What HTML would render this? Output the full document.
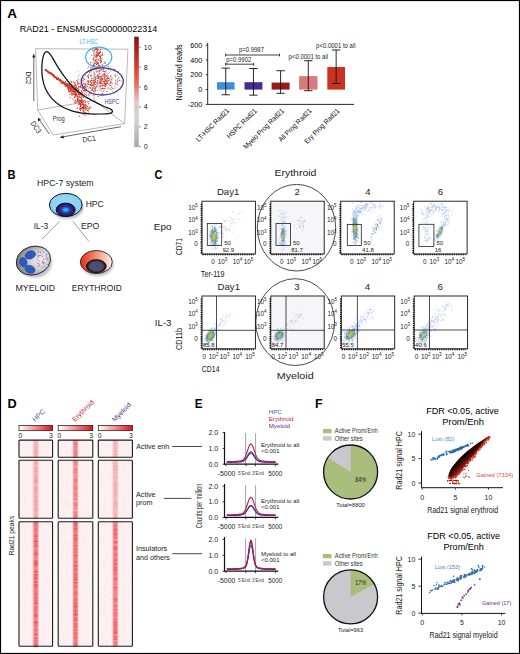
<!DOCTYPE html>
<html><head><meta charset="utf-8"><style>
html,body{margin:0;padding:0;background:#fff;}
body{width:520px;height:654px;overflow:hidden;}
svg{display:block;font-family:"Liberation Sans", sans-serif;}
</style></head><body>
<svg width="520" height="654" viewBox="0 0 520 654">
<defs>
<linearGradient id="cbar" x1="0" y1="1" x2="0" y2="0">
<stop offset="0" stop-color="#a8a8a8"/><stop offset="0.25" stop-color="#d4d4d4"/>
<stop offset="0.42" stop-color="#dfc6c2"/><stop offset="0.56" stop-color="#e47464"/><stop offset="0.7" stop-color="#e6402c"/>
<stop offset="1" stop-color="#7e1510"/></linearGradient>
<radialGradient id="nucB" cx="0.5" cy="0.5" r="0.5">
<stop offset="0" stop-color="#22c4ff"/><stop offset="0.22" stop-color="#1aa2ee"/><stop offset="0.42" stop-color="#2a46b4"/>
<stop offset="0.6" stop-color="#30268a"/><stop offset="0.85" stop-color="#2a1a6c"/><stop offset="1" stop-color="#1a1046"/></radialGradient>
<radialGradient id="hpcC" cx="0.5" cy="0.45" r="0.55">
<stop offset="0" stop-color="#9cdaf6"/><stop offset="1" stop-color="#84cff2"/></radialGradient>
<radialGradient id="myC" cx="0.7" cy="0.55" r="0.78">
<stop offset="0" stop-color="#eeeeee"/><stop offset="0.4" stop-color="#d0d0d2"/>
<stop offset="0.75" stop-color="#96969a"/><stop offset="1" stop-color="#5e5e64"/></radialGradient>
<linearGradient id="eryC" x1="0" y1="0" x2="1" y2="0">
<stop offset="0" stop-color="#e62a14"/><stop offset="0.45" stop-color="#f4856c"/>
<stop offset="1" stop-color="#fff2ec"/></linearGradient>
<radialGradient id="eryN" cx="0.5" cy="0.5" r="0.5">
<stop offset="0" stop-color="#4636b0"/><stop offset="0.3" stop-color="#50507c"/><stop offset="0.7" stop-color="#4a4a5c"/>
<stop offset="0.88" stop-color="#1c1c22"/><stop offset="1" stop-color="#0a0a0a"/></radialGradient>
<filter id="shd" x="-30%" y="-30%" width="160%" height="170%"><feGaussianBlur stdDeviation="1.2"/></filter>
<linearGradient id="hbar" x1="0" y1="0" x2="1" y2="0">
<stop offset="0" stop-color="#ffffff"/><stop offset="0.5" stop-color="#f28a8e"/><stop offset="1" stop-color="#e0101c"/></linearGradient>
<linearGradient id="strp" x1="0" y1="0" x2="1" y2="0">
<stop offset="0" stop-color="#e8363a" stop-opacity="0"/><stop offset="0.2" stop-color="#e8363a" stop-opacity="0.75"/>
<stop offset="0.5" stop-color="#e4282e" stop-opacity="1"/><stop offset="0.8" stop-color="#e8363a" stop-opacity="0.75"/>
<stop offset="1" stop-color="#e8363a" stop-opacity="0"/></linearGradient>
<filter id="noise" x="0" y="0" width="100%" height="100%">
<feTurbulence type="fractalNoise" baseFrequency="0.9" numOctaves="1" seed="3" result="t"/>
<feColorMatrix in="t" type="matrix" values="0 0 0 0 0.93  0 0 0 0 0.45  0 0 0 0 0.5  0 0 0 1.6 -0.75"/>
</filter>
<linearGradient id="wedge" gradientUnits="userSpaceOnUse" x1="458.5" y1="456.5" x2="466" y2="464">
<stop offset="0" stop-color="#000000"/><stop offset="0.35" stop-color="#120404"/><stop offset="0.7" stop-color="#4a0e08"/><stop offset="1" stop-color="#a01a10"/></linearGradient>
</defs>
<rect x="0" y="0" width="520" height="654" fill="#fff"/>
<text x="7.2" y="17.5" font-size="12.2" font-weight="bold" fill="#000" textLength="9.8" lengthAdjust="spacingAndGlyphs">A</text>
<text x="19.8" y="31.7" font-size="9.6" textLength="137.5" lengthAdjust="spacingAndGlyphs">RAD21 - ENSMUSG00000022314</text>
<line x1="35.6" y1="48.7" x2="127.9" y2="49.2" stroke="#8a8a8a" stroke-width="0.6"/>
<line x1="35.6" y1="48.7" x2="37.7" y2="110" stroke="#8a8a8a" stroke-width="0.6"/>
<line x1="127.9" y1="49.2" x2="124.6" y2="123.6" stroke="#8a8a8a" stroke-width="0.6"/>
<line x1="37.7" y1="110" x2="53" y2="135" stroke="#8a8a8a" stroke-width="0.6"/>
<line x1="53" y1="135" x2="124.6" y2="123.6" stroke="#8a8a8a" stroke-width="0.6"/>
<line x1="37.7" y1="110" x2="94" y2="100.5" stroke="#8a8a8a" stroke-width="0.6"/>
<line x1="94" y1="100.5" x2="124.6" y2="123.6" stroke="#8a8a8a" stroke-width="0.6"/>
<line x1="94" y1="49" x2="94" y2="100.5" stroke="#8a8a8a" stroke-width="0.6"/>
<path d="M71.66 85.72h0M83.6 87.76h0M100.49 69.66h0M101.76 67.98h0M99.92 59.79h0M105.92 80.24h0M101.6 94.39h0M72.96 100.6h0M98.47 51.69h0M107.24 73.61h0M73.95 84.99h0M102.89 86.77h0M110.13 76.14h0M97.12 82.26h0M91.63 67.72h0M97.46 51.43h0M98.54 81.4h0M77.38 87.83h0M103.84 63.37h0M75.15 91.79h0M86.96 88.1h0M97.55 90.13h0M90.61 92h0M115.29 87.56h0M119.53 80.01h0M68.07 83.86h0M101.41 79.22h0M82.69 110.99h0M109.09 77.31h0M100.69 66.4h0M100.53 83.07h0M96.98 62.35h0M77.23 108.4h0M94.96 79.99h0M97.22 51.6h0M102.34 79.96h0M100.76 63.59h0M99.02 74.39h0M88.54 81.62h0M103.61 83.29h0M83.99 100.23h0M101.49 80.8h0M98.32 85.9h0M70.85 81.5h0M85.32 98.99h0M101.37 85.63h0M88.31 82.7h0M107.61 82.32h0M101.16 54.57h0M99.2 73.14h0M102.57 77.04h0M71.43 93.23h0M74.05 91.17h0M98.85 78.96h0M102.61 70.85h0M102.19 65.23h0M96.45 48.29h0M106.43 82.85h0M108.38 88.28h0M106.42 80.57h0M94.78 74.82h0M88.16 107.95h0M94.65 57.52h0M92.78 82.57h0M97.94 59.75h0M99.54 78.9h0M72.56 89.62h0M89.69 91.14h0M98.49 93.51h0M98.37 50.02h0M110.36 77.75h0M105.94 72.03h0M105.28 86.09h0M107.23 73.61h0M74.33 91.26h0M78.22 104.23h0" stroke="#bdbdbd" stroke-width="1.24" stroke-linecap="round"/>
<path d="M81.47 90.69h0M88.59 78.23h0M102.25 69.61h0M99.01 53.97h0M95.1 69.37h0M104.61 77.88h0M78.16 76.89h0M89.02 84.47h0M77.99 81.72h0M109.38 79.11h0M91.56 83.34h0M99.1 82.72h0M102.31 75.06h0M93.01 60.19h0M90.45 70.94h0M103.84 90.86h0M112.01 83.85h0M82.4 84.96h0M105.57 85.36h0M93.72 53.34h0M93.1 95.42h0M110.53 66.89h0M86.32 88.62h0M78.93 90.83h0M107.81 88.37h0M99.99 81.08h0M83.12 88.74h0M91.1 69.31h0M79.65 83.59h0M112.4 83.13h0M91.46 69.89h0M101.13 58.82h0M97.66 82.85h0M74.97 96.61h0M91.47 68.93h0M116.38 83.88h0M99.33 85.2h0M110.93 80.22h0M107.96 76.28h0M78.51 84.13h0M97.94 66.64h0M97.12 56.29h0M104.72 85.92h0M95.59 57.12h0M101.83 77.02h0M108.32 81.84h0M97.34 90.61h0M76.45 85.34h0M100.22 60.95h0M107.09 76.45h0M102.65 74.33h0M103.17 91.19h0M70.72 81h0M91.5 90.11h0M106.25 80.95h0M107.05 65.36h0M95.56 78.49h0M78.17 90.5h0M101.67 85.02h0M100.74 77.24h0M82.51 81h0M101.85 78.43h0M79.46 104.09h0M74.44 94.24h0M74.53 92.65h0M87.17 83.61h0M101.27 77.59h0M96.88 56.9h0M105.83 84.79h0M72.73 89.62h0M103.5 76.6h0M74.94 82.46h0M92.72 87.65h0M99.87 82.55h0M106.19 85.39h0M96.61 51.81h0M99.83 77.79h0M107.59 81.02h0M80.33 94.1h0M88.9 82.44h0M99.29 81.98h0M105.66 83.74h0M71.89 90.57h0M101.99 77.89h0M106.49 80.17h0M76.69 100.93h0M95.56 76.15h0M97.29 77.98h0M85.85 82.5h0M88.65 91.18h0M102.11 75.56h0M89.42 87.59h0M101.13 69.53h0M100.34 90.45h0M99.78 58.9h0M88.28 81.1h0M121.12 80.65h0M95.8 48.81h0M98 84.27h0M98.37 80.21h0" stroke="#a8a8a8" stroke-width="1.24" stroke-linecap="round"/>
<path d="M94.8 73.96h0M83.09 93.06h0M106.86 93.81h0M101.59 91.35h0M78.43 104.77h0M79.18 75.22h0M90.07 93.49h0M85.47 109.09h0M101.2 78.61h0M78.22 71.64h0M105.12 75h0M96.05 62.4h0M69.85 94.31h0M88.62 84.51h0M97.02 57.53h0M103.59 78.26h0M76.57 86.06h0M98.26 79.34h0M106.7 85.62h0M98.5 74.76h0M88.7 88.71h0M104.83 83.32h0M99.09 87.65h0M90.31 84.65h0M109.56 80.54h0M112.9 79.08h0M99.39 81.07h0M79.91 82.99h0M97.03 52.23h0M98.94 80.66h0M106.54 94.08h0M97.82 52.95h0M117.22 75.49h0M95.9 69.33h0M94.44 95.56h0M112.7 91.22h0M93.46 86.04h0M105.34 72.82h0M111 76.05h0M109.21 72.24h0M83.38 74.66h0M105.35 74.96h0M98.08 86.28h0M114.83 75.05h0M108 87.85h0M87.35 68.61h0M75.58 91.95h0M107.75 81.15h0M100.59 59.3h0M89.33 87.62h0M106.21 81.74h0M81.15 96.16h0M117.44 79.36h0M92.95 60.67h0M74.85 88.9h0M91.45 78.54h0M99.54 50.01h0M96.83 48.76h0M108.52 84.6h0M85.03 78.85h0M98.8 78.17h0M109 78.74h0M105.23 83.1h0M99.73 90.41h0M105.45 82.91h0M97.33 82.94h0M103.11 79.57h0M96.26 70.77h0M77.33 91.88h0M107.96 87.3h0M95.78 79.14h0M103.57 78.55h0M106.35 83.32h0M102.94 80.3h0M89.59 92.97h0M93.76 91.15h0M91.92 85.18h0M94.57 77.61h0M103.34 67.74h0M100.24 53.11h0M106.63 83.81h0M100.53 79.99h0M95.47 53.85h0M94.3 72.35h0M107.08 81.9h0M108.33 87.34h0M79.38 86.35h0M96.59 77.8h0M116.86 80.37h0M99.03 80.72h0M91.65 76.84h0M109.33 88.87h0M93.94 79.42h0M100.02 85.5h0M109.36 79.27h0M111.56 89.45h0M75.79 85.18h0M85.47 101.6h0" stroke="#b4b4b4" stroke-width="1.24" stroke-linecap="round"/>
<path d="M99.62 71.01h0M105.04 62.84h0M100.62 55.94h0M103.68 74.44h0M84.91 88.22h0M85.64 90.18h0M82.95 88.43h0M82.44 90.25h0M94.64 84.86h0M118.19 78.62h0M106.27 78.29h0M115.01 85.92h0M102.62 76.56h0M91.84 86.85h0M97.08 52.64h0M110.47 70.8h0M71.26 86.65h0M73.61 86.1h0M86 81.77h0M98.25 67.28h0M99.99 79.41h0M71.97 92.63h0M104.95 86h0M82.91 90.66h0M81.86 88.26h0M107.95 87.56h0M71.72 89.71h0M99.81 59.06h0M91.85 83.34h0M94.19 48.54h0M107.3 88.65h0M103.68 79.7h0M104.8 53.35h0M104.08 90.44h0M93.71 82.86h0M96.7 78.11h0M93.01 63.74h0M105.91 72.45h0M87.57 83.31h0M107.78 72.84h0M92.6 86.2h0M99.17 88.19h0M108.35 76.44h0M83.4 97.37h0M102.71 81.24h0M98.63 65.38h0M97.54 84.39h0M80.79 87.48h0M96.2 87.03h0M114.52 85.35h0M92.52 90.16h0M97.86 74.83h0M99.65 80.54h0M75.2 83.53h0M108.33 78.8h0M95 84.11h0M97.91 55.32h0M89.3 86.56h0M100.03 55.73h0M97.37 54.07h0M84.28 107.09h0M103.94 66.46h0M74.66 84.77h0M109.68 93.98h0M112.92 83.77h0M79.84 95.01h0M93.76 85.79h0M98.4 76.57h0M95.77 82.5h0M103.57 81.76h0M103.76 79.4h0M76.99 96.3h0M94.71 79.17h0M88.17 93.93h0M97.66 48.5h0M80.37 79.93h0M92.82 88.38h0M97.22 83.96h0M111.16 71.08h0M115.49 79.15h0M99.56 81.02h0M96.05 88.46h0M83.41 112.73h0M107.02 88.61h0M92.98 76.62h0M95.33 60.75h0M92.33 78.69h0M99.17 86.73h0M82.19 101.97h0M83.27 77.77h0M93.85 88.52h0M99.99 69.18h0M94.34 77.07h0M79.23 89.8h0M93.51 69.9h0M104.78 82.14h0" stroke="#c8c8c8" stroke-width="1.24" stroke-linecap="round"/>
<path d="M90.54 85.42h0M84.72 84.56h0M91.98 85.28h0M102.17 89.41h0M93.22 80.01h0M103.72 79.1h0M92.4 93.54h0M75.78 94.23h0M102.86 87.51h0M82.08 92.23h0M115.05 83.96h0M108.54 73.86h0M76.89 80.35h0M98.75 85.25h0M102.46 70.58h0M98.16 81.22h0M121.14 81.96h0M91.87 72.27h0M92.48 93.31h0M80.09 95.17h0M116.05 80.82h0M84.09 103.6h0M92.92 87.74h0M96.18 85.02h0M100.12 87.41h0M82.26 87.32h0M94.91 66.53h0M74.58 94.41h0M93.33 62.41h0M109.75 90.06h0M99.24 82.23h0M99.89 77.76h0M77.85 94.41h0M87.7 75.62h0M102.28 85.89h0M101.4 78.41h0M81.93 88.32h0M80.99 85.88h0M97.93 58.49h0M99.2 80.13h0M96.49 87.42h0M84.5 80.93h0M96.14 53.97h0M90.14 83.15h0M109.53 85.84h0M93.65 82.14h0M76.24 92.47h0M100.39 85.03h0M103.99 81.75h0M71.23 85.72h0M96.48 55.72h0M102.05 55.32h0M81.83 82.28h0M78.27 100.59h0M106.75 83.5h0M101.81 73.22h0M101.7 88.97h0M97.16 48.32h0M86.05 108.89h0M97.48 86.11h0M102.63 68.77h0M72.39 85.5h0M72.6 87.34h0M92.71 84.46h0M104.26 89.41h0M94.61 104.92h0M120.17 89.46h0M84.53 91.93h0M81.14 89.45h0M106.83 78.94h0M103.88 93.44h0M115.22 88.11h0M79.03 88.32h0M99.58 70.33h0M90.14 74.26h0M95.93 66.98h0M102.04 78.54h0M97.51 81.75h0M99.74 76.76h0M104.26 78.8h0" stroke="#d6d6d6" stroke-width="1.24" stroke-linecap="round"/>
<path d="M66.89 85.45h0M79.82 100.43h0M92.62 88.18h0M85.53 75.07h0M94.73 50.24h0M72.76 91.54h0M82.86 108.08h0M94.77 86.32h0M74.6 102.26h0M48.35 71.79h0M96.63 71.82h0M48.31 72.01h0M97.3 54.32h0M67.93 85.75h0M92.43 69.58h0M80.19 86.75h0M79.73 96.13h0M76.45 89.39h0M104.51 85.56h0M110.66 89.07h0M82.57 96.24h0M63.21 81.8h0M48.04 71.37h0M50.29 72.81h0M48.34 71.97h0M99.46 66.45h0M94.78 80.31h0M104.98 75.55h0M100.8 88.67h0M59.46 80.68h0M101.28 88.78h0M78.52 99.36h0M95.7 56.52h0M79.84 101.47h0M68.87 90.56h0M80.66 110.29h0M103.3 88.62h0M50.79 73.48h0M70.08 87.31h0M91.8 55.31h0M49.51 73.21h0M82.98 114.39h0M97.16 61.22h0M80.11 107.27h0M95.25 87.33h0M54.98 77.13h0M86.15 84.08h0M57.9 79.37h0M80.67 106.17h0M99.13 71.1h0M115.59 81.11h0M80.37 100.97h0M85.02 86.79h0M105.56 83.55h0M64.16 83.91h0M88.56 81.06h0M118.72 77.92h0M56.57 78.5h0M80.11 83.56h0M100.21 76.24h0M68.71 90.33h0M54.25 76.03h0M65.74 85.28h0M55.85 76.94h0M85.11 107.01h0M108.24 66.57h0M81.52 108.07h0M48.86 72.07h0M71.42 90.46h0M81.47 108.67h0M53.8 76.16h0M96.98 68.25h0M75.03 90.84h0M101.14 61.85h0M81.06 104.14h0M76.84 80.27h0M70.97 88.87h0M93.69 59.34h0M64.06 82.44h0M93.41 80.52h0M72.74 87.94h0M92.43 66.83h0M83.06 109.94h0M64.68 84.36h0M86.01 107.43h0M74.79 101.81h0M78.19 94.09h0M100.88 86.07h0M83.45 103.11h0M61.36 83.34h0M71.59 89.94h0M95.53 90.77h0M79.41 94.49h0M97.38 71.78h0M93.59 82.43h0M66.73 85.87h0M92.76 50.27h0M63.88 83.18h0M84.25 106.09h0M98.09 62.7h0M49.67 72.96h0M79.23 87.21h0M77.7 111.62h0M75.89 86.97h0M96.34 55.79h0M83.34 106.82h0M65.72 86.04h0M97.03 82.1h0M88.72 70.54h0M52.38 74.85h0M74.74 89.91h0M76.18 94.04h0M86.44 105.16h0M95.9 49.87h0M71.68 81.76h0M100.43 86.18h0M78.16 94.99h0M93.52 85.16h0M103.28 69.69h0M82.29 103.87h0M59.33 80.56h0M95.3 94.48h0M65.87 84.93h0M78.72 82.8h0M104.93 61.95h0M100.38 58.25h0M65.15 83.33h0M65.06 84.16h0M92.29 80.95h0M97.46 80.35h0M66.98 83.44h0M73.76 91.4h0M78.72 91.97h0M78.13 99.13h0M72.85 94.51h0M69.75 84.65h0M57.6 78.61h0M103.9 73.89h0M102.2 64.52h0M81.3 103.06h0M94.28 55.39h0M87.24 72.47h0M81.73 99.85h0M106.75 83.57h0M53.72 75.01h0M85.61 94.52h0M74.7 88.95h0M70.89 90.3h0M95.53 61.19h0M92.12 69.7h0M97.61 62.48h0M84.45 105.02h0M79.8 92.49h0M100.31 86.6h0M97.07 86.82h0M100.49 56.66h0" stroke="#e04535" stroke-width="1.24" stroke-linecap="round"/>
<path d="M79.09 93.41h0M80.6 94.29h0M70.71 89.49h0M67.96 84.09h0M80.69 100.94h0M101.24 69.76h0M69 88.01h0M81.86 101.76h0M74.65 83.21h0M96.24 69.04h0M78.09 92.08h0M45.36 70.2h0M77.54 98.41h0M57.99 78.84h0M110.37 85.45h0M67.65 86h0M53.92 75.79h0M105.04 79.52h0M97.16 76.37h0M62.24 82.67h0M45.89 69.71h0M59.28 80.18h0M115.29 76.84h0M82.46 107.32h0M68.46 89.44h0M51.16 73.97h0M96.49 64.34h0M63.17 82.21h0M97.38 76.04h0M97.26 83.41h0M83.3 107.28h0M67.34 84h0M75.66 84.95h0M75.51 94.87h0M97.93 66.89h0M111.77 87.11h0M76.14 94.66h0M104.96 88.42h0M53.09 74.51h0M48.15 72.22h0M57.32 78.16h0M99.48 56.23h0M61.69 81.11h0M45.23 69.76h0M82.79 108.69h0M95.15 88.46h0M88.09 84.29h0M70.48 87.03h0M54.94 77.9h0M77.44 97.81h0M48.67 71.85h0M100.81 62.23h0M83.41 104.64h0M51.36 74.25h0M91.58 83.86h0M105.9 84.46h0M104.56 71.64h0M72.85 91.18h0M97.67 76.09h0M94.95 77.1h0M102.72 53.04h0M97.89 48.96h0M77.29 96.24h0M107.34 78.75h0M82.23 107.23h0M77.61 100.43h0M74.79 91.55h0M108.44 78.47h0M79.02 97.23h0M57.09 78.88h0M99.91 70.92h0M45.65 70.16h0M70.56 86.95h0M69.95 89.06h0M97.22 55.48h0M110.79 82.68h0M72.99 94.13h0M62.93 81.59h0M100.47 57.28h0M93.26 58.06h0M80.54 93.89h0M83.64 107.72h0M87.21 110.66h0M53.65 75.35h0M84.46 89.8h0M90.47 81.18h0M54 76.69h0M55.86 77.29h0M75.72 90.89h0M84.36 108.72h0M106.06 75.96h0M101.83 83.43h0M83.56 90.66h0M58.08 78.19h0M74.43 89.53h0M83.34 107.73h0M88.36 108.98h0M66.9 85.21h0M102.82 65.78h0M71.35 93.21h0M70.31 88.61h0M91.21 70.73h0M60.36 80.67h0M99.8 52.22h0M56.9 77.95h0M71.6 86.96h0M102.01 79.56h0M83.88 83.39h0M96.35 48.9h0M70.22 97.56h0M71.19 85.34h0M82.2 102.42h0M105.07 63.01h0M83.35 105.56h0M74.52 86.32h0M98.62 55.16h0M101.9 58.87h0M114.61 69.42h0M76.45 90.39h0M58.07 79.29h0M89.73 108.39h0M56.47 77.83h0M98.89 65.05h0M103.09 71.46h0M70.67 84.23h0M105.4 86.47h0M73.32 82.1h0M75.7 85.39h0M65.08 83.74h0M80.14 108.5h0M107.12 75.05h0M101.91 55.43h0M94.95 81.24h0M90.83 62.65h0M104.22 84.08h0M64.59 84.55h0M97.8 75.15h0M84.87 105.07h0M98.02 53.1h0M109.73 83.97h0M67.65 88.12h0M96.84 54.74h0M75.6 100.97h0M97.98 78.12h0M100.17 60.26h0M102.78 88.43h0M84.46 86.3h0M71.96 88.35h0M98.18 63.6h0M84.16 90.8h0M73.85 89.5h0M65.11 85.84h0" stroke="#b82018" stroke-width="1.24" stroke-linecap="round"/>
<path d="M108.25 80.73h0M79.08 97.09h0M52.21 74.44h0M79.72 92.75h0M82.11 87.74h0M62.56 82.17h0M68.81 85.52h0M100.71 83.84h0M80.23 104.88h0M81.68 95.83h0M80.54 103.05h0M61.2 81.32h0M77.53 107.92h0M107.59 82.91h0M82.69 88.76h0M77.79 96.6h0M68.89 84.22h0M48.77 72.64h0M95.24 63.72h0M93.95 51.77h0M50.29 73.34h0M65.37 84.27h0M81.07 94.51h0M80.91 97.31h0M89.43 106.85h0M89.59 72.28h0M70.87 94.29h0M102.66 54.97h0M69.7 85.48h0M75.49 92.7h0M78.51 92.16h0M80.48 101.67h0M73.17 91.03h0M113.01 88.42h0M70.4 88.99h0M96.9 57.04h0M67.73 87.34h0M86.99 86.17h0M93.4 64.77h0M58.09 77.84h0M99.41 53.34h0M72.25 88.24h0M110.97 82.51h0M60.07 79.5h0M117.63 81.67h0M80.36 109.92h0M93.27 66.19h0M73.13 91.58h0M80.68 104.67h0M91.56 93.63h0M79.32 93.78h0M96.51 59.6h0M88.59 77.41h0M52.13 74.58h0M63.82 82.61h0M97.56 63.7h0M74.55 97.25h0M79.47 102.67h0M104.55 74.85h0M88.91 94.55h0M91.78 78.61h0M94.95 89.41h0M83.05 78.55h0M60.98 80.57h0M71.44 88.23h0M67.34 83.5h0M90.1 82.17h0M70.23 88.54h0M80.34 108.52h0M97.79 83.55h0M92.91 85.15h0M92.19 90.48h0M90.45 84.45h0M99.65 76.29h0M95.48 60.64h0M52.92 74.54h0M57.5 78.58h0M96.38 52.55h0M55.16 76.75h0M96.53 85.96h0M92.17 85.1h0M98.55 65.21h0M52.06 74.43h0M54.3 76.12h0M104.49 81.37h0M82.28 104.27h0M77.58 92.59h0M85.13 107.29h0M103.61 81.45h0M80.53 86.6h0M62.49 83.15h0M48.27 72.37h0M102.64 85.42h0M87.04 86.8h0M75.87 89.06h0M81.46 93.39h0M94.01 82.51h0M83.99 83.87h0M87 108.21h0M98.89 77.9h0M85.69 106.19h0M54.1 76.68h0M75.82 93.44h0M80.62 106.14h0M61.18 81.23h0M92.78 66.41h0M99.01 52.91h0M80.69 85.61h0M86.53 89.74h0M104.37 73.97h0M79.89 109.28h0M96 54.94h0M49.72 72.84h0M74.37 91.38h0M74.69 94.54h0M82.55 108.06h0M85.35 90.72h0M72.68 93.85h0M81.38 98.71h0M78.92 100.45h0M104.85 76.67h0M95.19 48.23h0M78.68 94.4h0M95.12 84.45h0M84.23 79.43h0M100.24 65.99h0M73.7 89.74h0M45.45 69.76h0M76.77 90.8h0M76.67 90.88h0M93.65 91.28h0M47.17 70.72h0M106.52 83.33h0M87.93 80.87h0M46.62 71.16h0M81.86 100.16h0M77.32 81.97h0M67.08 85.26h0M67.62 87.28h0M100.54 83.26h0M56.6 79.17h0M45.83 70.24h0M75.98 87.89h0M69.04 86.55h0M85.27 84.66h0M68.55 87.39h0M78.71 89.35h0M49.07 72.99h0M77.72 84.08h0M80.36 106.66h0M75.39 103.03h0M76.06 88.47h0M79.47 103.12h0M49.7 73.16h0M51.2 72.67h0M66.47 86.47h0M71.99 91.71h0M83.41 101.5h0M96.97 64.04h0" stroke="#c92a1c" stroke-width="1.24" stroke-linecap="round"/>
<path d="M59.25 79.7h0M95.32 59.84h0M54.72 76.41h0M81.13 97.68h0M67.8 85.31h0M78.26 101.77h0M88.37 74.98h0M79.25 102.72h0M100.42 78.88h0M84.23 93.82h0M53.38 75.93h0M60.97 82.79h0M48.4 72.08h0M59.33 80.16h0M71.99 95.13h0M88.47 113.2h0M71.38 82.09h0M106.74 81.19h0M103 84.03h0M73.56 92.9h0M98.58 77.22h0M52.29 74.06h0M101.53 78.02h0M118.51 71.87h0M65.17 83.62h0M87.22 97.52h0M45.47 70.04h0M50.38 73.06h0M77.28 99.55h0M78.68 101.79h0M70.32 91.55h0M58.78 79.17h0M96.53 48.88h0M106.8 78.72h0M75.1 87.81h0M77.57 88.63h0M88.64 110.93h0M99.14 53.44h0M68.71 91.67h0M65.83 85.44h0M69.66 91.85h0M48.29 72.38h0M51.79 74.14h0M78.41 90.42h0M95.1 82.53h0M62.45 81.43h0M86.71 95.2h0M59.25 80.31h0M104.91 67.75h0M83.12 80.86h0M88.02 83.36h0M85.42 109.04h0M92.98 68.59h0M93.95 65.83h0M105.07 77.37h0M91.53 80.32h0M76.09 90.24h0M101.13 76.47h0M72.7 85.05h0M66.44 85.25h0M75.62 90.39h0M75.23 100.32h0M104.35 81.85h0M85.53 85.62h0M90.64 67.88h0M49.7 73.16h0M87.88 97.28h0M105.58 80.97h0M74.38 93.14h0M101.11 60.4h0M85.56 104.34h0M110.85 81.2h0M100.12 56.34h0M90.3 75.67h0M98.37 53.38h0M53.04 75.49h0M77.02 91.55h0M104.52 83.42h0M96.53 64.5h0M90.15 87.88h0M101.5 61.29h0M81.18 105.04h0M70.07 86.66h0M100.44 82.28h0M87.76 76.7h0M98.36 96.51h0M102.03 93.66h0M102.44 78.89h0M76.48 95.74h0M58.48 78.32h0M58.48 78.59h0M98.33 59.5h0M81.52 80.99h0M83.66 97.46h0M72.97 88.46h0M77.13 101.79h0M68.61 86.12h0M51.33 74.87h0M83.82 95.86h0M98.65 68.38h0M90.96 85.58h0M76.93 102.5h0M99.57 82.79h0M56.92 78.9h0M75.41 95.34h0M87.97 81.38h0M66.88 84.38h0M101.86 94.09h0M105.42 80.08h0M46.6 70.6h0M86.17 92.78h0M84.7 112.04h0M46.26 70.26h0M99.65 73.63h0M107.86 77.53h0M58.99 79.99h0M79.08 116.19h0M106.01 70.98h0M98.29 59.76h0M85.47 87.35h0M94.13 83.47h0M73.76 89.82h0M119.18 80.62h0M107.04 68.7h0M71.32 86.98h0M70.65 90.98h0M96.68 49.47h0M53.27 75.25h0M66.78 83.84h0M51.77 74.53h0M82.51 103.03h0M95.34 90.86h0M82.98 101.22h0M69.48 91.26h0M78.96 104.19h0M83.9 108.38h0M58.88 79.49h0M83.59 110.43h0M91.96 89.43h0M48.17 71.53h0M100.79 81.83h0M85.38 102.22h0M85.73 112.8h0M108.6 69.28h0M93.05 87.84h0M74.55 85.87h0M100.51 49.57h0M69.34 87.67h0M80.91 101.99h0M47.77 71.33h0M94.59 63.06h0" stroke="#d6301f" stroke-width="1.24" stroke-linecap="round"/>
<path d="M70.74 90.12h0M82.4 92.95h0M58.41 79.08h0M69.61 88.54h0M96.67 67.73h0M93.2 65h0M93.49 80.14h0M97.13 50.97h0M87.38 106.39h0M81.48 94.71h0M100.86 80.22h0M49.43 72.39h0M75.17 96.66h0M73.08 99.16h0M103.48 68.59h0M74.49 86.42h0M46.28 70.88h0M81.95 99.63h0M95.59 79.49h0M76.19 93.75h0M86.96 109h0M60.14 79.85h0M65.77 84.46h0M70.5 87.59h0M81.51 101.43h0M90.44 84.86h0M89.93 92.77h0M106.95 91.04h0M48.59 71.61h0M83.85 111.64h0M97.34 50.05h0M85.39 106.03h0M69.82 88.81h0M65.03 84.05h0M96.63 56.75h0M79.8 93.82h0M91.82 82.25h0M79.45 92.53h0M68.35 85.28h0M78.4 79.8h0M46.25 70.24h0M74.43 94.1h0M97.45 50.01h0M101.91 81.72h0M82.64 85.72h0M115.68 83.13h0M96.64 49.23h0M86.42 89.71h0M111.98 77.76h0M80.63 87.31h0M74.6 92.75h0M50.17 73.07h0M61.55 80.97h0M76.48 87.9h0M65.09 83.08h0M72.65 87.93h0M96.68 62.72h0M111.2 79.38h0M95.68 81.44h0M53.74 75.92h0M82.17 85.45h0M81.95 104.35h0M69.68 87.49h0M85.98 112.8h0M78.21 89.21h0M76.54 94.65h0M104.31 78.58h0M75.77 87.27h0M82.3 108.24h0M62.25 83.02h0M69.17 85.95h0M57.86 78.52h0M79 94.53h0M63.07 83.7h0M58.89 78.95h0M95.81 77.88h0M59.52 79.47h0M82.34 104.58h0M65.64 83.84h0M77.03 91.73h0M91.3 75.13h0M94.6 65.68h0M100.4 80.93h0M102.07 79h0M103.13 75.67h0M62.74 82.38h0M60.27 81.78h0M94.66 74.2h0M101.91 81.97h0M72.39 88.72h0M106.95 91.5h0M82.6 108.47h0M89.85 71.51h0M65.6 81.71h0M70.52 87.56h0M81.37 91.54h0M100.33 51.73h0M97.91 54.39h0M98.18 70.45h0M117.14 84.62h0M90.18 80.91h0M61.38 80.29h0M115.41 74.89h0M89.04 95.87h0M94.77 66.01h0M100.31 52.55h0M88.67 66.66h0M88.12 101.63h0M77.7 83.09h0M88.62 103.73h0M84.94 115.51h0M103.11 85.63h0M91.01 107.28h0M82.71 88.12h0M69.17 84.8h0M86.33 90.25h0M68.13 88.54h0M78.52 86.98h0M90.68 87.92h0M84.67 100.73h0M91.61 85.43h0M71.07 87.6h0M54.17 76.45h0M53.24 76.19h0M110.68 75.91h0M82.3 100.41h0M71.23 88.44h0M82.34 92.73h0M79.85 99.65h0M71.23 88.17h0M64.46 82.61h0M86.02 109.66h0M104.35 81.1h0M75.28 85.5h0M74.61 97.54h0M74.3 97.34h0M63.41 83.14h0M81.17 101.07h0M50.35 73.25h0M72.45 90.2h0M51.71 73.87h0M60.39 79.28h0M54.8 76.64h0" stroke="#dd3b2a" stroke-width="1.24" stroke-linecap="round"/>
<path d="M45.6 51.9C44.7 52.57 43.82 54.02 43.2 56.4C42.58 58.78 42.03 62.65 41.9 66.2C41.77 69.75 41.78 73.88 42.4 77.7C43.02 81.52 43.97 85.57 45.6 89.1C47.23 92.63 49.6 96.03 52.2 98.9C54.8 101.77 57.8 104.25 61.2 106.3C64.6 108.35 68.52 109.97 72.6 111.2C76.68 112.43 81.07 113.23 85.7 113.7C90.33 114.17 96.32 114.07 100.4 114C104.48 113.93 108.2 113.72 110.2 113.3C112.2 112.88 112.27 112.15 112.4 111.5C112.53 110.85 112.47 110.27 111 109.4C109.53 108.53 106.47 107.63 103.6 106.3C100.73 104.97 97.07 103.17 93.8 101.4C90.53 99.63 87.27 97.88 84 95.7C80.73 93.52 77.33 91.3 74.2 88.3C71.07 85.3 67.92 81.23 65.2 77.7C62.48 74.17 60.07 70.5 57.9 67.1C55.73 63.7 53.75 59.75 52.2 57.3C50.65 54.85 49.7 53.3 48.6 52.4C47.5 51.5 46.5 51.23 45.6 51.9Z" fill="none" stroke="#111" stroke-width="1.25"/>
<ellipse cx="98.7" cy="57.3" rx="13.1" ry="10.2" fill="none" stroke="#3cb2e8" stroke-width="1.2"/>
<ellipse cx="102.3" cy="81.4" rx="21" ry="13.6" fill="none" stroke="#3a3a9c" stroke-width="1.3"/>
<text x="88.7" y="44.2" font-size="6.3" text-anchor="middle" fill="#3cb2e8" textLength="18.5" lengthAdjust="spacingAndGlyphs">LT-HSC</text>
<text x="112" y="104.3" font-size="6.5" text-anchor="middle" fill="#4040a0" textLength="14.5" lengthAdjust="spacingAndGlyphs">HSPC</text>
<text x="58.7" y="121.2" font-size="6.5" text-anchor="middle" fill="#333" textLength="12" lengthAdjust="spacingAndGlyphs">Prog</text>
<line x1="33.8" y1="101" x2="33.8" y2="56" stroke="#222" stroke-width="0.7"/>
<path d="M33.8 53.5 L32.2 57.5 L35.4 57.5 Z" fill="#222" stroke="none" stroke-width="1"/>
<text x="26.4" y="71.5" font-size="7.5" fill="#222" textLength="13" lengthAdjust="spacingAndGlyphs" transform="rotate(90 26.4 71.5)">DC2</text>
<line x1="49.3" y1="134" x2="39.2" y2="119.5" stroke="#222" stroke-width="0.7"/>
<path d="M37.8 117.4 L38.2 121.6 L41 119.7 Z" fill="#222" stroke="none" stroke-width="1"/>
<text x="30.3" y="123.3" font-size="7.5" fill="#222" textLength="13" lengthAdjust="spacingAndGlyphs" transform="rotate(56 30.3 123.3)">DC3</text>
<line x1="121" y1="126.7" x2="62" y2="137" stroke="#222" stroke-width="0.7"/>
<path d="M59.5 137.4 L63.3 135.2 L63.9 138.6 Z" fill="#222" stroke="none" stroke-width="1"/>
<text x="83" y="142.6" font-size="7.5" fill="#222" textLength="13.2" lengthAdjust="spacingAndGlyphs" transform="rotate(-10 83 142.6)">DC1</text>
<rect x="134.2" y="36.7" width="4.6" height="110.4" fill="url(#cbar)"/>
<line x1="138.8" y1="146.7" x2="140.8" y2="146.7" stroke="#333" stroke-width="0.6"/>
<text x="143.8" y="149.2" font-size="7" fill="#222">0</text>
<line x1="138.8" y1="126.8" x2="140.8" y2="126.8" stroke="#333" stroke-width="0.6"/>
<text x="143.8" y="129.3" font-size="7" fill="#222">2</text>
<line x1="138.8" y1="106.9" x2="140.8" y2="106.9" stroke="#333" stroke-width="0.6"/>
<text x="143.8" y="109.4" font-size="7" fill="#222">4</text>
<line x1="138.8" y1="87" x2="140.8" y2="87" stroke="#333" stroke-width="0.6"/>
<text x="143.8" y="89.5" font-size="7" fill="#222">6</text>
<line x1="138.8" y1="67.1" x2="140.8" y2="67.1" stroke="#333" stroke-width="0.6"/>
<text x="143.8" y="69.6" font-size="7" fill="#222">8</text>
<line x1="138.8" y1="47.2" x2="140.8" y2="47.2" stroke="#333" stroke-width="0.6"/>
<text x="143.8" y="49.7" font-size="7" fill="#222">10</text>
<line x1="207.7" y1="42.8" x2="207.7" y2="104.4" stroke="#111" stroke-width="0.9"/>
<line x1="207.7" y1="104.4" x2="354.1" y2="104.4" stroke="#111" stroke-width="0.9"/>
<line x1="205.7" y1="45.2" x2="207.7" y2="45.2" stroke="#111" stroke-width="0.8"/>
<text x="202.2" y="47.7" font-size="7.2" text-anchor="end">600</text>
<line x1="205.7" y1="60" x2="207.7" y2="60" stroke="#111" stroke-width="0.8"/>
<text x="202.2" y="62.5" font-size="7.2" text-anchor="end">400</text>
<line x1="205.7" y1="74.8" x2="207.7" y2="74.8" stroke="#111" stroke-width="0.8"/>
<text x="202.2" y="77.3" font-size="7.2" text-anchor="end">200</text>
<line x1="205.7" y1="89.6" x2="207.7" y2="89.6" stroke="#111" stroke-width="0.8"/>
<text x="202.2" y="92.1" font-size="7.2" text-anchor="end">0</text>
<line x1="205.7" y1="104.4" x2="207.7" y2="104.4" stroke="#111" stroke-width="0.8"/>
<text x="202.2" y="106.9" font-size="7.2" text-anchor="end">-200</text>
<text x="181.6" y="72.5" font-size="8.8" text-anchor="middle" textLength="56" lengthAdjust="spacingAndGlyphs" transform="rotate(-90 181.6 72.5)">Normalized reads</text>
<rect x="217" y="82.2" width="17.5" height="7.4" fill="#3b8fd8"/>
<line x1="225.75" y1="68.14" x2="225.75" y2="94.78" stroke="#111" stroke-width="0.9"/>
<line x1="221.55" y1="68.14" x2="229.95" y2="68.14" stroke="#111" stroke-width="0.9"/>
<line x1="221.55" y1="94.78" x2="229.95" y2="94.78" stroke="#111" stroke-width="0.9"/>
<rect x="244.5" y="82.2" width="17.9" height="7.4" fill="#4a2a94"/>
<line x1="253.45" y1="68.51" x2="253.45" y2="95.15" stroke="#111" stroke-width="0.9"/>
<line x1="249.25" y1="68.51" x2="257.65" y2="68.51" stroke="#111" stroke-width="0.9"/>
<line x1="249.25" y1="95.15" x2="257.65" y2="95.15" stroke="#111" stroke-width="0.9"/>
<rect x="271.6" y="82.57" width="18" height="7.03" fill="#9a1a18"/>
<line x1="280.6" y1="70.73" x2="280.6" y2="93.3" stroke="#111" stroke-width="0.9"/>
<line x1="276.4" y1="70.73" x2="284.8" y2="70.73" stroke="#111" stroke-width="0.9"/>
<line x1="276.4" y1="93.3" x2="284.8" y2="93.3" stroke="#111" stroke-width="0.9"/>
<rect x="299.1" y="76.13" width="18.4" height="13.47" fill="#d97a7a"/>
<line x1="308.3" y1="60.74" x2="308.3" y2="90.71" stroke="#111" stroke-width="0.9"/>
<line x1="304.1" y1="60.74" x2="312.5" y2="60.74" stroke="#111" stroke-width="0.9"/>
<line x1="304.1" y1="90.71" x2="312.5" y2="90.71" stroke="#111" stroke-width="0.9"/>
<rect x="327.3" y="67.03" width="17.7" height="22.57" fill="#cb3320"/>
<line x1="336.15" y1="50.01" x2="336.15" y2="83.46" stroke="#111" stroke-width="0.9"/>
<line x1="331.95" y1="50.01" x2="340.35" y2="50.01" stroke="#111" stroke-width="0.9"/>
<line x1="331.95" y1="83.46" x2="340.35" y2="83.46" stroke="#111" stroke-width="0.9"/>
<line x1="225.6" y1="64.2" x2="253.6" y2="64.2" stroke="#111" stroke-width="0.8"/>
<line x1="225.6" y1="62.8" x2="225.6" y2="65.6" stroke="#111" stroke-width="0.8"/>
<line x1="253.6" y1="62.8" x2="253.6" y2="65.6" stroke="#111" stroke-width="0.8"/>
<text x="238.8" y="61.6" font-size="6.9" text-anchor="middle" fill="#222" textLength="25" lengthAdjust="spacingAndGlyphs">p=0.9902</text>
<line x1="225.6" y1="55" x2="279.5" y2="55" stroke="#111" stroke-width="0.8"/>
<line x1="225.6" y1="53.6" x2="225.6" y2="56.4" stroke="#111" stroke-width="0.8"/>
<line x1="279.5" y1="53.6" x2="279.5" y2="56.4" stroke="#111" stroke-width="0.8"/>
<text x="251.5" y="52.4" font-size="6.9" text-anchor="middle" fill="#222" textLength="25" lengthAdjust="spacingAndGlyphs">p=0.9987</text>
<text x="308.3" y="59.2" font-size="6.9" text-anchor="middle" fill="#222" textLength="39.5" lengthAdjust="spacingAndGlyphs">p&lt;0.0001 to all</text>
<text x="335.8" y="47.6" font-size="6.9" text-anchor="middle" fill="#222" textLength="39.5" lengthAdjust="spacingAndGlyphs">p&lt;0.0001 to all</text>
<text x="229.65" y="111.3" font-size="7.1" text-anchor="end" textLength="43.8" lengthAdjust="spacingAndGlyphs" transform="rotate(-45 229.65 111.3)">LT-HSC Rad21</text>
<text x="257.35" y="111.3" font-size="7.1" text-anchor="end" textLength="39.21" lengthAdjust="spacingAndGlyphs" transform="rotate(-45 257.35 111.3)">HSPC Rad21</text>
<text x="284.5" y="111.3" font-size="7.1" text-anchor="end" textLength="54.1" lengthAdjust="spacingAndGlyphs" transform="rotate(-45 284.5 111.3)">Myelo Prog Rad21</text>
<text x="312.2" y="111.3" font-size="7.1" text-anchor="end" textLength="43.93" lengthAdjust="spacingAndGlyphs" transform="rotate(-45 312.2 111.3)">All Prog Rad21</text>
<text x="340.05" y="111.3" font-size="7.1" text-anchor="end" textLength="46.47" lengthAdjust="spacingAndGlyphs" transform="rotate(-45 340.05 111.3)">Ery Prog Rad21</text>
<text x="7.6" y="178.9" font-size="12.2" font-weight="bold" fill="#000" textLength="8.06" lengthAdjust="spacingAndGlyphs">B</text>
<text x="37" y="186.2" font-size="9.3" fill="#222" textLength="56.5" lengthAdjust="spacingAndGlyphs">HPC-7 system</text>
<ellipse cx="67.3" cy="207.8" rx="16" ry="11.2" fill="#888" filter="url(#shd)" opacity="0.55"/>
<ellipse cx="65.8" cy="204.9" rx="16.4" ry="11.6" fill="url(#hpcC)" stroke="#111" stroke-width="1"/>
<ellipse cx="65.7" cy="209.8" rx="9.5" ry="6.7" fill="url(#nucB)" stroke="#111" stroke-width="1"/>
<text x="85.7" y="207.4" font-size="9.3" fill="#222" textLength="18" lengthAdjust="spacingAndGlyphs">HPC</text>
<text x="33.8" y="228.5" font-size="9.3" fill="#222" textLength="14.4" lengthAdjust="spacingAndGlyphs">IL-3</text>
<text x="81" y="228.5" font-size="9.3" fill="#222" textLength="18.4" lengthAdjust="spacingAndGlyphs">EPO</text>
<line x1="59.5" y1="221.3" x2="42" y2="239.3" stroke="#777" stroke-width="0.7"/>
<line x1="73" y1="221.3" x2="88.8" y2="241.3" stroke="#777" stroke-width="0.7"/>
<ellipse cx="35" cy="263" rx="16.9" ry="14.7" fill="#888" filter="url(#shd)" opacity="0.5"/>
<ellipse cx="33.4" cy="260.6" rx="17.4" ry="14.2" fill="url(#myC)" stroke="#222" stroke-width="0.9" transform="rotate(-18 33.4 260.6)"/>
<ellipse cx="30.3" cy="254.9" rx="5.4" ry="3.9" fill="#2a5cc0" stroke="#1a3a8a" stroke-width="0.5" transform="rotate(-22 30.3 254.9)"/>
<ellipse cx="23.3" cy="262.2" rx="4.8" ry="3.6" fill="#2a5cc0" stroke="#1a3a8a" stroke-width="0.5" transform="rotate(75 23.3 262.2)"/>
<ellipse cx="30.0" cy="269.3" rx="5.2" ry="3.8" fill="#2a5cc0" stroke="#1a3a8a" stroke-width="0.5" transform="rotate(18 30.0 269.3)"/>
<path d="M42.43 261.64h0M48.09 259.85h0M43.09 262.16h0M39.22 260.73h0M44.56 266.07h0M38.13 256.76h0M38.09 266.38h0M44.85 262.7h0M38.89 251.29h0M43.34 252.13h0M39.28 255.6h0M37.36 259.81h0M42.29 267.01h0M43.23 263.17h0M43 263.59h0M42.49 256.29h0M47.08 264.45h0M40.78 255.36h0M40.47 252.33h0M46.2 258.61h0M47.16 258.34h0M37.01 254.98h0M47.92 259.93h0M37.88 262.96h0M46.34 256.13h0M38.05 257.32h0M38.42 255.68h0M38.21 252.14h0M46.56 254.38h0M43.71 259.5h0M39.29 264.91h0M38.57 263.23h0" stroke="#9a58b8" stroke-width="1.1" stroke-linecap="round"/>
<ellipse cx="97.5" cy="264.5" rx="16" ry="11.5" fill="#888" filter="url(#shd)" opacity="0.5"/>
<ellipse cx="96.3" cy="262" rx="16" ry="11.5" fill="url(#eryC)" stroke="#222" stroke-width="0.9"/>
<ellipse cx="96.3" cy="266.3" rx="10" ry="6.8" fill="url(#eryN)" stroke="#111" stroke-width="0.6"/>
<text x="15.5" y="290.5" font-size="8.9" fill="#222" textLength="39.5" lengthAdjust="spacingAndGlyphs">MYELOID</text>
<text x="71.8" y="290.5" font-size="8.9" fill="#222" textLength="50" lengthAdjust="spacingAndGlyphs">ERYTHROID</text>
<text x="154.6" y="179.3" font-size="12.2" font-weight="bold" fill="#000" textLength="7.9" lengthAdjust="spacingAndGlyphs">C</text>
<text x="295.4" y="176.2" font-size="9.8" text-anchor="middle" fill="#222" textLength="42" lengthAdjust="spacingAndGlyphs">Erythroid</text>
<text x="295.2" y="378.5" font-size="9.8" text-anchor="middle" fill="#222" textLength="37" lengthAdjust="spacingAndGlyphs">Myeloid</text>
<ellipse cx="296.5" cy="227.7" rx="39.2" ry="43.3" fill="none" stroke="#4a4a4a" stroke-width="1"/>
<ellipse cx="295.2" cy="322.1" rx="39.4" ry="43.4" fill="none" stroke="#4a4a4a" stroke-width="1"/>
<text x="153.8" y="230.4" font-size="9.6" fill="#222" textLength="17.7" lengthAdjust="spacingAndGlyphs">Epo</text>
<text x="154.7" y="326.2" font-size="9.6" fill="#222" textLength="16.8" lengthAdjust="spacingAndGlyphs">IL-3</text>
<line x1="201.4" y1="203.7" x2="201.4" y2="253.5" stroke="#111" stroke-width="1.5" stroke-dasharray="1.3 0.9"/>
<line x1="202.5" y1="254.6" x2="253.9" y2="254.6" stroke="#111" stroke-width="1.5" stroke-dasharray="1.3 0.9"/>
<rect x="270.8" y="201.2" width="53.4" height="52.8" fill="#f6f6f8"/>
<line x1="270.2" y1="203.7" x2="270.2" y2="253.5" stroke="#111" stroke-width="1.5" stroke-dasharray="1.3 0.9"/>
<line x1="271.3" y1="254.6" x2="322.7" y2="254.6" stroke="#111" stroke-width="1.5" stroke-dasharray="1.3 0.9"/>
<line x1="340.2" y1="203.7" x2="340.2" y2="253.5" stroke="#111" stroke-width="1.5" stroke-dasharray="1.3 0.9"/>
<line x1="341.3" y1="254.6" x2="392.7" y2="254.6" stroke="#111" stroke-width="1.5" stroke-dasharray="1.3 0.9"/>
<line x1="413.1" y1="203.7" x2="413.1" y2="253.5" stroke="#111" stroke-width="1.5" stroke-dasharray="1.3 0.9"/>
<line x1="414.2" y1="254.6" x2="465.6" y2="254.6" stroke="#111" stroke-width="1.5" stroke-dasharray="1.3 0.9"/>
<path d="M207.83 228.76h0M207.31 235.64h0M219.86 233.4h0M218.55 244.99h0M211.66 249.5h0M217.21 247.56h0M211.84 225.49h0M214.53 224.42h0M212.04 225.4h0M209.59 233.47h0M215.22 225.74h0M218.39 238.69h0M217.22 229.28h0M218 241.41h0M209.73 234.89h0M212.71 226.59h0M210.38 231.32h0M217.7 232.1h0M210.41 241.95h0M217.17 230.29h0M209.93 235.97h0M212.6 227.42h0M216.05 245.1h0M217.46 241.25h0M211.24 229.98h0M212.55 228.05h0M217.3 241.23h0M215.5 245.38h0M213.71 246.11h0M210.31 237.57h0M210.36 238.54h0M217.38 240.38h0M215.29 245.12h0M217.28 233.36h0M214.54 228.06h0M211.81 243.64h0M213.37 245.4h0" stroke="#a4b8dc" stroke-width="0.84" stroke-linecap="round"/>
<path d="M208.25 229.71h0M216.83 224.8h0M210.57 226.52h0M209.78 244.09h0M216.1 248.37h0M215.72 248.44h0M211.36 246.5h0M217.25 244.9h0M209.83 232.09h0M214.13 247.94h0M210.83 229.56h0M218.1 233.67h0M209.93 239.82h0M216.94 229.18h0M213.14 226.51h0M210.51 231.22h0M214.69 226.91h0M210.96 243.28h0M212.52 245.65h0M216.29 244.29h0M215.99 228.88h0M210.44 234.52h0M217.36 240.47h0M212.84 228.13h0M211.46 230.32h0M215.49 228.59h0M215.82 244.51h0M217.11 232.39h0M216.3 230.14h0" stroke="#b0c2e2" stroke-width="0.84" stroke-linecap="round"/>
<path d="M208.98 245.09h0M216.23 249.14h0M218.92 232.37h0M214.54 249.62h0M209.15 236.42h0M218.63 236.25h0M215.37 247.6h0M215.8 226.8h0M209.75 239.3h0M211.09 244.76h0M218.11 234.1h0M209.8 235.27h0M210.33 242h0M210.67 243.15h0M214.83 246.95h0M215.16 226.89h0M216.95 244.01h0M209.98 237.69h0M210.07 237.98h0M215.01 227.31h0M213.9 227.43h0M210.73 232.52h0M217.56 238.75h0M210.91 232.14h0M214.56 245.69h0M210.75 233.88h0M215.91 229.62h0M217.44 237.51h0M217.09 233.08h0" stroke="#98aed4" stroke-width="0.84" stroke-linecap="round"/>
<path d="M219.02 227.48h0M226.45 230.46h0M231.08 223.77h0M223.96 226.87h0M226.24 233.78h0M217.17 237.02h0M234.92 223.78h0M225.3 228.01h0M231.77 217.96h0M232.84 211.95h0M233.05 222.22h0M238.77 213.3h0M223.63 233.37h0M224.03 227.62h0M214.61 227.71h0M232.63 232.03h0" stroke="#a4bae2" stroke-width="0.84" stroke-linecap="round"/>
<path d="M222.28 226.08h0M238.98 213.84h0M228.01 226.21h0M242.09 217.79h0M225.91 229.18h0M235.82 219.17h0M229.6 231.5h0M231.87 219.03h0M223.93 229.1h0M223.7 231.04h0M228.38 228.22h0M220.86 236.75h0M219.2 226.12h0M238.8 205.48h0" stroke="#bccfee" stroke-width="0.84" stroke-linecap="round"/>
<path d="M232.74 212.64h0M239.41 219h0M237.83 219.13h0M225.77 219.19h0M215.26 229.77h0M223.69 212.82h0M234.05 226.57h0M233.33 222.21h0M226.36 236.48h0M230.98 226.23h0M222.4 234.38h0M225.74 229.53h0M226.3 229.8h0M222.62 232.61h0M225.89 227.92h0M225.29 229.73h0M227.69 220.72h0M221.88 227.4h0" stroke="#c8d6f0" stroke-width="0.84" stroke-linecap="round"/>
<path d="M229.23 229.42h0M220.37 226.81h0M220.03 226.33h0M229.05 229.82h0M225.29 220.48h0M220.29 227.72h0M228.13 229.63h0M223.1 219.82h0M233.51 219.13h0M223.6 236.78h0M214.84 228.19h0M229.63 221.28h0M242.33 211.65h0" stroke="#98b0dc" stroke-width="0.84" stroke-linecap="round"/>
<path d="M219.93 232.41h0M225.01 226.9h0M225.46 221.34h0M238.25 222.15h0M224.55 221.8h0M232.03 220.96h0M221.88 226.18h0M230.5 223.68h0M229.34 216.55h0" stroke="#b0c4e8" stroke-width="0.84" stroke-linecap="round"/>
<path d="M213.12 245.05h0M214.1 228.32h0M216.43 230.89h0M215.36 229.05h0M214.99 244.68h0M217.25 238h0M210.81 235.51h0M215.07 229.26h0M214.9 244.22h0M215.84 242.78h0M212.78 230.25h0M211.56 240.6h0M211.18 237.39h0M212.25 231.28h0M215.07 243.18h0M215.26 242.75h0M215.48 231.54h0M214.72 242.75h0M215.84 240.91h0M212.14 240.72h0M216.14 233.92h0M216.42 236.34h0" stroke="#5a88c4" stroke-width="0.84" stroke-linecap="round"/>
<path d="M211.64 230.77h0M210.74 235.01h0M214.44 228.66h0M215.79 243.49h0M211.02 234.88h0M215.56 243.38h0M216.54 233.23h0M214.03 229.55h0M216.78 238.49h0M212.14 231.43h0M216.78 237.95h0M214.17 243.55h0M216.5 239.28h0M211.47 234.67h0M215.58 231.48h0M215.74 241.24h0M213.12 242.58h0M211.64 235.69h0" stroke="#5080b8" stroke-width="0.84" stroke-linecap="round"/>
<path d="M211.61 230.86h0M211.38 231.56h0M217.22 234.44h0M212.64 229.18h0M216.68 231.91h0M210.77 236.66h0M214.52 228.93h0M212.89 244.27h0M211.02 238.67h0M211.86 242.17h0M216.51 232.61h0M212.71 230.02h0M216.19 241.83h0M211.04 236.51h0M215.11 243.4h0M216.43 233.02h0M211.96 241.6h0M215.6 231.08h0M216.2 241.02h0M211.8 232.88h0M214.35 230.28h0M216.07 233.11h0M211.46 236.38h0M211.81 239.66h0M215.89 240.53h0M214.85 231.2h0" stroke="#6a94cc" stroke-width="0.84" stroke-linecap="round"/>
<path d="M217.29 235.94h0M217.28 236.67h0M215.71 243.65h0M212.51 243.95h0M215.32 229.49h0M216.05 242.93h0M215.72 243.47h0M215.12 244.17h0M212.03 230.82h0M216.71 233.16h0M213.79 244.46h0M210.98 237.03h0M212.5 230.38h0M215.52 230.54h0M216.85 237.69h0M211.46 240.08h0M212.98 230.25h0M211.82 232.48h0M216.37 240.4h0M212.9 243.14h0M216.65 238.47h0M215.31 242.42h0M211.55 235.33h0M216.35 235.54h0" stroke="#6a98b0" stroke-width="0.84" stroke-linecap="round"/>
<path d="M212.12 233.2h0M216.33 236.01h0M215.35 241.59h0M211.81 238.2h0M212.55 232.64h0M211.99 234.71h0M213.38 242.01h0M212.21 233.77h0M212.67 232.54h0M211.9 237.9h0M212.81 232.41h0M214.59 231.74h0M212.01 235.57h0M215.73 239.54h0M212.59 240.47h0M212.95 241.13h0M214.24 231.84h0M213.32 241.4h0M215.47 240.04h0" stroke="#5aa070" stroke-width="0.84" stroke-linecap="round"/>
<path d="M213.17 231.25h0M214.88 231.49h0M216.1 234.92h0M214.96 231.76h0M213.89 231.24h0M212.16 234.03h0M212.34 233.44h0M215.52 240.19h0M212.57 240.29h0M213.08 241.12h0" stroke="#4ca888" stroke-width="0.84" stroke-linecap="round"/>
<path d="M214.74 242.34h0M214.33 231.1h0M214.34 231.12h0M213.18 231.46h0M215.63 240.76h0M216.13 234.96h0M211.77 236.81h0M212.02 238.2h0M215.27 240.76h0M214.59 231.98h0M212.97 232.47h0M215.95 235.87h0M212.89 232.68h0M214.34 231.98h0M213.67 241.61h0M212.09 235.94h0M212.91 240.8h0M213.53 241.47h0M215.9 237.43h0M212.39 239.36h0" stroke="#3a9a9a" stroke-width="0.84" stroke-linecap="round"/>
<path d="M213.77 241.43h0M215.68 235.47h0M212.93 240.25h0M212.25 236.76h0M215.55 234.94h0M213.26 240.64h0M215.49 238.83h0M214.07 232.72h0M213.39 233.21h0M215.46 238.04h0M213.28 233.45h0" stroke="#3a9a9a" stroke-width="0.84" stroke-linecap="round"/>
<path d="M213.82 241.41h0M214.5 241.15h0M214.9 232.91h0M213.43 240.94h0M215.69 235.92h0M215.55 237.85h0M212.61 234.88h0M212.78 239.32h0M213.77 240.7h0M212.43 237.06h0M214.09 240.71h0M215.53 236.28h0" stroke="#5aa070" stroke-width="0.84" stroke-linecap="round"/>
<path d="M213.99 232.2h0M215.65 238.72h0M212.51 234.26h0M213.84 241.22h0M212.25 236.84h0M213.4 232.86h0M215.55 238.16h0M213.93 232.82h0M215.52 237.69h0" stroke="#4ca888" stroke-width="0.84" stroke-linecap="round"/>
<path d="M212.93 239.49h0M215.47 235.95h0M215.48 237.62h0M215.09 234.21h0M212.64 235.25h0M212.64 238.08h0M213.31 239.95h0M212.62 237.26h0M214.86 234.17h0M213.2 234.1h0M214.71 239.66h0M213.43 233.88h0M214 233.59h0M215.2 235.69h0M214.64 239.56h0M215.06 235.2h0M215.2 237.52h0M214.52 239.57h0M215.2 236.63h0M214.24 239.74h0" stroke="#78b858" stroke-width="0.84" stroke-linecap="round"/>
<path d="M213.96 233.02h0M215.36 235.19h0M213.41 233.49h0M214.15 233.2h0M214.9 239.5h0M213.3 233.82h0M213.78 240.15h0M212.71 237.7h0M212.81 238.31h0M212.96 234.72h0M214.16 233.59h0M212.87 235.21h0M212.72 237.11h0M213.37 234h0M214.03 233.79h0M214.33 239.64h0" stroke="#a8c048" stroke-width="0.84" stroke-linecap="round"/>
<path d="M215.28 238.7h0M212.53 236.64h0M214.41 233.37h0M213.98 233.26h0M213.93 233.35h0M214.26 233.44h0M215 234.5h0M213.76 240.04h0M214.36 239.81h0M213.41 239.55h0M214.11 233.71h0M214.4 233.88h0M212.85 235.85h0M213.29 239.18h0M213.66 239.64h0" stroke="#c0c040" stroke-width="0.84" stroke-linecap="round"/>
<path d="M214.02 233.96h0M212.99 236.16h0M214.91 237.9h0M214.91 237.86h0M214.51 238.77h0" stroke="#78b858" stroke-width="0.84" stroke-linecap="round"/>
<path d="M213 235.51h0M215.12 236.47h0M215.04 237.64h0M212.93 236.57h0M214.61 235.04h0M214.86 236.07h0" stroke="#c0c040" stroke-width="0.84" stroke-linecap="round"/>
<path d="M212.99 238.02h0M214.38 239.38h0M213.18 238.58h0M213.34 235.22h0M214.6 238.46h0M213.82 234.67h0" stroke="#a8c048" stroke-width="0.84" stroke-linecap="round"/>
<path d="M213.45 235.17h0M213.15 236.77h0M213.17 237.1h0M213.47 238.26h0M214.76 236.83h0M214.57 235.96h0M214.63 237.14h0M214.05 235.23h0M213.92 235.63h0M214.08 235.98h0M214.02 237.42h0" stroke="#e6c040" stroke-width="0.84" stroke-linecap="round"/>
<path d="M214.62 238.04h0M213.38 236.51h0M213.65 237.56h0M213.83 236.28h0" stroke="#e0a030" stroke-width="0.84" stroke-linecap="round"/>
<path d="M213.58 235.16h0M214.4 238.41h0M213.51 235.49h0M214.1 238.36h0M213.45 236.08h0M214.58 236.51h0M213.77 238.15h0M214.52 236.17h0M213.61 235.92h0M213.49 236.84h0M213.96 237.32h0" stroke="#d8b838" stroke-width="0.84" stroke-linecap="round"/>
<path d="M279.1 244.45h0M286.12 221.72h0M286.99 230.66h0M282.03 251.81h0M285.05 247.78h0M286.18 235.01h0M286.03 233.64h0M285.73 241.94h0M285.63 230.97h0M281.01 244.51h0M284.74 244.2h0M282.77 223.49h0M281.18 242.92h0M281.02 241.67h0M281.16 228.35h0M280.71 236.64h0M281.29 228.15h0M285.11 231.51h0M281.11 241.12h0M284.75 228.92h0M284.8 229.54h0M281.72 243.88h0M282.56 225.23h0M284.05 226.55h0M284.86 231.15h0M282.7 245.35h0M284.25 228.1h0M284.92 234.51h0M284.9 236.85h0M282.62 244.77h0M284.33 242.03h0M283.94 243.01h0M284.52 230.93h0M284.52 239.85h0M281.62 240.07h0M281.88 241.47h0M284.36 239.72h0M283.98 241.57h0M283.29 227.89h0M281.67 231.56h0M284.47 237.14h0M283.3 228.66h0M283.38 229.01h0" stroke="#b0c2e2" stroke-width="0.84" stroke-linecap="round"/>
<path d="M279.03 240.91h0M279.36 243.06h0M279.44 229.07h0M279.75 242.81h0M279.63 239.03h0M285.86 230.35h0M280.68 244.78h0M285.89 231.89h0M283.91 249.27h0M285.13 243.94h0M285.62 237.35h0M282.14 223.41h0M280.95 243.22h0M280.48 234.27h0M285.27 233.08h0M281.87 225.46h0M280.71 237.29h0M282.32 245.99h0M285.22 236.12h0M281.1 240.27h0M284.43 227.85h0M285.09 235.57h0M283.32 245.69h0M281.35 229.45h0M283.05 245.52h0M282.56 245.01h0M281.06 236.79h0M282.15 243.9h0M282.15 243.85h0M284.86 234.91h0M281.23 233.35h0M284.62 238.18h0M282.74 243.66h0M281.37 235.64h0M284.31 240.13h0M282.59 243.06h0M281.96 229.88h0M282.17 229.12h0M281.69 231.6h0M284.06 240.73h0M281.92 230.56h0M282.28 229.25h0M283.91 229.9h0M283.53 242.07h0M282.81 228.62h0M281.8 238.93h0M281.79 238.69h0M284.34 234.3h0M284.33 234.1h0M283.48 229.38h0M281.9 231.89h0" stroke="#a4b8dc" stroke-width="0.84" stroke-linecap="round"/>
<path d="M280.27 243.86h0M284.99 223.2h0M280.34 228.66h0M285.79 231.66h0M282.72 249.78h0M283.11 221.54h0M283.61 222.84h0M284.94 244.19h0M284.8 244.12h0M283.26 223.37h0M281.42 244.36h0M283.31 223.83h0M280.69 235.26h0M281.73 244.97h0M281.56 244.18h0M282.31 224.82h0M284.92 240.91h0M284.95 231.61h0M283.25 245.65h0M285.01 233.34h0M281.01 232.8h0M282.71 225.44h0M284.73 240.58h0M285.01 235.74h0M283.36 245.23h0M281.15 238.64h0M284.89 233.78h0M282.54 226.52h0M282.69 244.56h0M281.28 233.43h0M283.89 228.09h0M284.22 229.37h0M284.07 229.37h0M284.45 239.12h0M281.87 241.19h0M282.63 242.68h0M283.2 242.74h0M284.25 231.86h0M281.68 232.55h0M282.11 240.99h0M281.6 235.31h0M282.74 228.71h0M282.71 228.81h0M282.35 241.23h0M284.23 233.23h0" stroke="#98aed4" stroke-width="0.84" stroke-linecap="round"/>
<path d="M285.02 214.1h0M279.22 216.33h0M280.47 220.23h0M282 217.8h0M280.38 223.64h0M284.57 223.51h0M280.66 214.11h0M282.57 225.02h0M286.36 216.84h0M278.49 222.79h0M284.51 216.73h0M283.24 219.22h0M284.18 214.25h0M284.62 217.52h0" stroke="#98b0dc" stroke-width="0.84" stroke-linecap="round"/>
<path d="M284.39 218.15h0M283.47 221.66h0M284.84 220.68h0M285.66 226.06h0M285.08 219.02h0M281.13 211.54h0M282.7 221.71h0M284.28 212.4h0" stroke="#bccfee" stroke-width="0.84" stroke-linecap="round"/>
<path d="M281.1 216.96h0M282.79 210.77h0M283.36 221.61h0M282.47 216.63h0" stroke="#b0c4e8" stroke-width="0.84" stroke-linecap="round"/>
<path d="M282.51 214.78h0M282.72 228.75h0M286.79 212.46h0M282.19 213.07h0M279.63 210.43h0M284.39 222.09h0M283.14 226.78h0M282.46 221.48h0M281.14 218.34h0" stroke="#a4bae2" stroke-width="0.84" stroke-linecap="round"/>
<path d="M283.99 221.95h0M283.23 223.88h0M283.69 213.01h0M281.88 210.49h0M282.39 226.85h0" stroke="#c8d6f0" stroke-width="0.84" stroke-linecap="round"/>
<path d="M294.48 225.71h0M296.69 228.9h0M302.65 230.56h0" stroke="#9ab4e0" stroke-width="0.84" stroke-linecap="round"/>
<path d="M301.4 217.21h0M304.82 220.18h0" stroke="#8aa8d8" stroke-width="0.84" stroke-linecap="round"/>
<path d="M305.57 221.33h0" stroke="#b8cce8" stroke-width="0.84" stroke-linecap="round"/>
<path d="M282.1 230.89h0M282.64 229.47h0M283.68 240.8h0M281.92 232.67h0M281.79 235.71h0M283.63 230.61h0M282.06 232.25h0M283.33 240.86h0M284.06 234.08h0M283.4 240.53h0M283.97 233.15h0M284.02 235.08h0M283.79 238.51h0M283.32 230.82h0M283.16 230.95h0" stroke="#5a88c4" stroke-width="0.84" stroke-linecap="round"/>
<path d="M299.84 217.99h0M304.63 221.07h0M297.84 224.15h0M300.86 228.12h0" stroke="#9ab4e0" stroke-width="0.84" stroke-linecap="round"/>
<path d="M282.31 230.11h0M284 231.71h0M283.43 229.84h0M281.86 237.29h0M283.54 230.47h0M282.88 240.58h0M282.48 231.24h0M282.76 240.27h0M283.52 231.56h0M282.5 231.66h0M283.12 230.97h0" stroke="#5080b8" stroke-width="0.84" stroke-linecap="round"/>
<path d="M283.45 229.6h0M283.62 230.12h0M281.85 233.54h0M281.81 234.65h0M283.5 230.8h0M283.45 240.3h0M282.96 240.78h0M283.56 231.05h0M283.33 230.72h0M283.47 231.19h0M282.1 233.63h0M283.85 237.64h0" stroke="#6a98b0" stroke-width="0.84" stroke-linecap="round"/>
<path d="M283.84 230.77h0M283.3 229.66h0M284.05 232.82h0M281.83 234.8h0M282.65 229.95h0M283.64 239.89h0M283.94 237.72h0M281.97 235.57h0M282.72 230.6h0M282.04 233.75h0M282.97 230.78h0M282.35 232.32h0" stroke="#6a94cc" stroke-width="0.84" stroke-linecap="round"/>
<path d="M302.56 218.32h0M303.31 227.8h0M303.53 225.94h0M299.05 226.7h0M298.95 221.63h0M299.31 221.29h0" stroke="#a8c0e8" stroke-width="0.84" stroke-linecap="round"/>
<path d="M297.58 220.33h0M303.76 221.71h0M299.18 220.42h0M303.62 226.1h0" stroke="#8aa8d8" stroke-width="0.84" stroke-linecap="round"/>
<path d="M303.73 228.24h0" stroke="#b8cce8" stroke-width="0.84" stroke-linecap="round"/>
<path d="M282.25 233.01h0M282.1 235.56h0M282.27 232.96h0M282.16 236.61h0M282.29 233.27h0M282.25 233.89h0M283.79 235.8h0M283.67 233.59h0" stroke="#5aa070" stroke-width="0.84" stroke-linecap="round"/>
<path d="M283.71 232.75h0M283.41 238.79h0M283.75 234.67h0M282.98 231.76h0" stroke="#4ca888" stroke-width="0.84" stroke-linecap="round"/>
<path d="M283.8 237.42h0M282.18 234.56h0M283.03 239.56h0M283.34 239.11h0M282.22 236.29h0M283.25 231.75h0M282.3 237.28h0M283.73 236.58h0M283.58 237.88h0M283.58 237.81h0M283.34 232.28h0M282.82 231.97h0M282.56 232.62h0" stroke="#3a9a9a" stroke-width="0.84" stroke-linecap="round"/>
<path d="M283.66 234.14h0M283.59 233.74h0M282.68 238.44h0M282.37 236.68h0M283.65 235.37h0M282.45 237.22h0M283 232.33h0M282.85 232.46h0M283.03 232.42h0M282.5 233.84h0" stroke="#4ca888" stroke-width="0.84" stroke-linecap="round"/>
<path d="M300 220.83h0" stroke="#a8c0e8" stroke-width="0.84" stroke-linecap="round"/>
<path d="M302.19 220.97h0M300.22 227.05h0" stroke="#8aa8d8" stroke-width="0.84" stroke-linecap="round"/>
<path d="M283.49 233.52h0M282.63 233.05h0" stroke="#5aa070" stroke-width="0.84" stroke-linecap="round"/>
<path d="M303.2 223.69h0M299.85 226.15h0M302.39 225.41h0" stroke="#9ab4e0" stroke-width="0.84" stroke-linecap="round"/>
<path d="M283.58 235.23h0" stroke="#3a9a9a" stroke-width="0.84" stroke-linecap="round"/>
<path d="M282.45 234.54h0M282.79 238.1h0M283.48 234.24h0M282.68 233.38h0M283.19 237.73h0M283.18 233.26h0M283.34 233.82h0M283.1 237.81h0M283.27 237.45h0" stroke="#78b858" stroke-width="0.84" stroke-linecap="round"/>
<path d="M282.44 236.09h0M282.46 235.91h0M283.09 238.08h0M283.41 234.21h0M283.03 237.81h0M283.29 237.13h0M282.57 235.9h0" stroke="#c0c040" stroke-width="0.84" stroke-linecap="round"/>
<path d="M283.47 233.85h0M283.2 233.24h0M282.59 236.79h0M283.4 234.63h0" stroke="#a8c048" stroke-width="0.84" stroke-linecap="round"/>
<path d="M283.19 237.43h0M283.2 233.68h0M282.64 235.58h0" stroke="#a8c048" stroke-width="0.84" stroke-linecap="round"/>
<path d="M283.43 235.82h0M283.38 235.33h0M282.64 236.06h0" stroke="#c0c040" stroke-width="0.84" stroke-linecap="round"/>
<path d="M283.3 234.1h0M282.68 234.36h0" stroke="#78b858" stroke-width="0.84" stroke-linecap="round"/>
<path d="M301.44 222.14h0" stroke="#9ab4e0" stroke-width="0.84" stroke-linecap="round"/>
<path d="M299.85 225.04h0" stroke="#a8c0e8" stroke-width="0.84" stroke-linecap="round"/>
<path d="M282.97 237.04h0M283.23 236.35h0" stroke="#e6c040" stroke-width="0.84" stroke-linecap="round"/>
<path d="M283.27 236.1h0M282.94 236.23h0" stroke="#e0a030" stroke-width="0.84" stroke-linecap="round"/>
<path d="M282.92 236.58h0" stroke="#d8b838" stroke-width="0.84" stroke-linecap="round"/>
<path d="M301.18 223.88h0" stroke="#8aa8d8" stroke-width="0.84" stroke-linecap="round"/>
<path d="M380.85 226.87h0M377.79 216.62h0M374.35 222.39h0M370.59 237.49h0M381.56 218.46h0M381.26 218.89h0M372.7 228.3h0M375.86 233.21h0M374.05 225.43h0M378.09 219.63h0M371.8 235.2h0M357.72 211.54h0M378.5 220.53h0M378.36 227.29h0M372.72 233.93h0M355.11 249.42h0M379.33 222.45h0M379.19 223.71h0M373.5 228.83h0M353.69 244.98h0M357.57 216.24h0M379.16 222h0M374.82 232.5h0M358.56 227.51h0M358.52 237.86h0M358.47 237.72h0M356.77 214.76h0M375.67 224.83h0M357.4 219.22h0M352.13 215.2h0M351.9 218.38h0M376.65 229.47h0M376.15 224.25h0M358.23 234.51h0M351.91 219.39h0M373.49 230.4h0M377.02 228.68h0M356.03 243.81h0M355.48 243.64h0M353.74 239.16h0M353.68 238.38h0M353.22 215.29h0M355.47 215.33h0M353.99 239.16h0M357.28 224.08h0M353.45 215.15h0M352.54 229.81h0M352.93 217.35h0M353.69 237.3h0M352.52 221.13h0M356.52 220.04h0M357.49 231.8h0M352.94 232.18h0M352.89 231.67h0M353.79 216.08h0M356.92 223.42h0M377.97 224.45h0M352.62 225.72h0M352.63 226.34h0M352.64 224.7h0M357.28 229.37h0M355.75 239.78h0M354.59 238.51h0M352.76 223.42h0" stroke="#a4b8dc" stroke-width="0.84" stroke-linecap="round"/>
<path d="M379.45 229.77h0M371.08 240.56h0M380.19 215.33h0M370.27 234.51h0M381.36 222.23h0M371.34 237.72h0M380.95 222.59h0M377.4 219.96h0M380.67 221.97h0M378.14 220.08h0M380.11 220.03h0M352.61 203.4h0M379.75 223.31h0M354.15 203.83h0M372.87 229.99h0M357.3 249.63h0M372.52 233.51h0M354.79 206.62h0M374.76 233.03h0M351.66 234.8h0M376.62 230.09h0M378.95 221.97h0M358.29 223.83h0M353.48 242.58h0M358.13 241.43h0M357.01 215.99h0M355.09 210.76h0M351.83 231.1h0M375.93 224.4h0M351.98 232.31h0M355.32 211.79h0M355.96 213.48h0M355.19 244.69h0M357.1 218.4h0M354.67 243.61h0M376.16 230.24h0M356.74 217.15h0M354.2 211.7h0M354.26 211.81h0M351.89 225.03h0M356.78 217.72h0M353.5 212.9h0M355.37 213.73h0M352.26 229.88h0M357.07 220.46h0M353.87 239.52h0M376.68 229.02h0M354.98 241.83h0M353.12 235.72h0M375.21 231.1h0M353.79 238.78h0M352.39 220h0M352.62 231.75h0M357.65 234.98h0M354.08 239.43h0M354.29 240.03h0M357.21 238.71h0M357.64 234.16h0M352.63 218.7h0M376.93 223.88h0M357.6 229.16h0M352.75 231.7h0M354.12 239.03h0M356.53 240.36h0M353.38 235.53h0M354.28 239.13h0M352.71 230.14h0M354.79 240.16h0M357.45 233.73h0M352.75 220.24h0M354.51 239.2h0M352.57 225.29h0M353.09 232.19h0M357.29 230.08h0M352.74 226.82h0" stroke="#b0c2e2" stroke-width="0.84" stroke-linecap="round"/>
<path d="M372.07 227.38h0M371.49 239.64h0M382.29 219.29h0M381.15 220.29h0M380.34 217.88h0M377.9 219.37h0M371.33 236.41h0M380.25 223.89h0M380.27 223.6h0M380.63 221.25h0M375.85 232.54h0M356.24 207.8h0M373.13 234.52h0M378.38 227h0M352.37 208.96h0M373.11 233.73h0M375.92 223.91h0M353.05 242.65h0M358.77 238.92h0M372.83 231.45h0M351.77 231.23h0M354.92 210.32h0M354.31 210.21h0M375.05 231.91h0M353.83 242.15h0M357.1 217.79h0M353.82 211.12h0M352.76 213.67h0M358.03 236.55h0M374.58 232.06h0M354.85 212.3h0M353.48 212.54h0M357.38 221.31h0M353.62 212.57h0M358.05 230.85h0M373.72 229.76h0M357.73 237.77h0M357.44 222.9h0M353.39 238.15h0M355.53 242.55h0M356.31 242.2h0M357.06 240.34h0M352.31 220.63h0M356.89 240.65h0M352.27 224.24h0M357.73 231.42h0M376.33 229.5h0M354.99 214.49h0M357.5 235.92h0M356.32 241.22h0M357.48 226.77h0M353.78 237.84h0M354.31 239.19h0M352.47 224.24h0M355.36 240.87h0M355.59 216.76h0M353.77 215.88h0M353.03 218.3h0M357.39 232.86h0M357.09 225.01h0M357.28 234.41h0M353.54 216.9h0M357.34 231.2h0M353.14 218.54h0M355.97 218.84h0M357.31 230.2h0M353.21 232.82h0M357.03 235.93h0" stroke="#98aed4" stroke-width="0.84" stroke-linecap="round"/>
<path d="M354.99 212.32h0M356.13 207.83h0M356.59 213.74h0M360.93 212.9h0M362.73 211.75h0M364.97 207.47h0M358.84 212.7h0M356.85 210.44h0M357.95 211h0M355.88 216.66h0M359.87 211.11h0M356.65 216.25h0M358.75 211.85h0M358.36 210.85h0M358.24 212.15h0M372.88 208.87h0M363.64 207.7h0M369.09 203.73h0M381.15 204.42h0M366.21 204.2h0M371.41 202.45h0M379 205.55h0M367.14 204.32h0M362.64 207.12h0M364.02 206.07h0M365.32 210.52h0M381.19 207.95h0M381.29 206.34h0M363.54 207.9h0M368.17 209.48h0M372.8 202.12h0M366.1 207.67h0" stroke="#c8d6f0" stroke-width="0.84" stroke-linecap="round"/>
<path d="M359.96 211.47h0M358.37 213.02h0M355.55 213.15h0M357.9 205.88h0M360.21 213.59h0M359.65 210.1h0M355.78 215.31h0M355.75 217.75h0M358.11 210.52h0M354.46 214.02h0M358.09 215.49h0M359.31 209.13h0M360.21 212.34h0M363.35 208.24h0M360.57 208.3h0M360.16 205.63h0M371.06 208.67h0M383.86 206h0M366.69 203.58h0M367.54 206.5h0M365.1 208.13h0M370.65 202.49h0M367.63 205.61h0M375.55 205.77h0M372.87 205.73h0M366.77 207.76h0M364.25 206.55h0M375.12 207.68h0M376.68 207.09h0M363.69 209.3h0M370.11 207.67h0M371.1 213.04h0M372.8 204.11h0" stroke="#b0c4e8" stroke-width="0.84" stroke-linecap="round"/>
<path d="M358.14 215.01h0M363.1 212.95h0M356.96 205.63h0M361.09 209.21h0M358.2 211.84h0M361.58 208.86h0M360.32 210.95h0M360.59 211.61h0M355.67 213.63h0M354.74 211.17h0M357.12 207.9h0M358.84 207.86h0M361.37 207.86h0M355.61 217.52h0M354.22 212.04h0M367.73 203.66h0M368.46 209.6h0M367.01 211.17h0M365.99 209.16h0M366.49 205.89h0M375.11 204.03h0M379.86 202.11h0M365.61 205.21h0M364.88 204.44h0M371.96 203.72h0M365.97 204.26h0M373.1 211.29h0M361.85 202.28h0M365.74 214.84h0M367.08 205.7h0M373.39 207.16h0M378.77 208.73h0M362.57 207.66h0" stroke="#a4bae2" stroke-width="0.84" stroke-linecap="round"/>
<path d="M357.06 214.32h0M356.56 208.33h0M361.28 209.95h0M357.35 211.01h0M356.26 212.5h0M356.39 212.6h0M355.81 212.98h0M356.63 208.34h0M358.98 213.22h0M358.99 210.22h0M358 218h0M360.85 205.52h0M354.42 214.19h0M359.15 211.79h0M358.23 215.87h0M369.73 210.87h0M359.89 208.55h0M368.87 207.34h0M379.86 206.87h0M365.19 205.89h0M373.65 204.96h0M370.4 209.36h0M373.1 210.02h0M372.44 204.75h0M366.77 211.76h0M364.57 207.89h0M364.73 206.57h0" stroke="#bccfee" stroke-width="0.84" stroke-linecap="round"/>
<path d="M358.24 215.75h0M359.67 212.14h0M357.32 211.07h0M361.69 208.77h0M358.33 212.61h0M358.34 211.23h0M354.95 214.95h0M356.75 209.44h0M356.99 214.39h0M352.29 210.73h0M362.09 214.77h0M359.07 211.12h0M361.09 208.59h0M360.59 202.23h0M360.83 211.59h0M361.67 210.85h0M355.85 208.7h0M356.75 211.37h0M360.01 212.68h0M358.42 205.4h0M382.2 206.55h0M374.1 206.73h0M374.36 205.18h0M368.47 210.05h0M359.31 207.65h0M364.12 205.37h0M362.22 208.92h0M366.03 205.1h0M365.26 209.02h0M379.14 206.01h0M380.67 204.95h0M365.55 207.26h0M375.57 207.83h0M379.63 206.66h0M367.91 203.94h0M365.55 204.23h0M363.71 206.94h0M371.75 207.46h0M362.3 205.54h0M364.15 210.03h0" stroke="#98b0dc" stroke-width="0.84" stroke-linecap="round"/>
<path d="M356.93 224.99h0M376.39 228.92h0M357.19 229.37h0M376.26 229.07h0M352.99 228.39h0M356.8 225.06h0M375.16 227.1h0M356.85 226.38h0M356.28 237.39h0M353.22 229.35h0M355.05 237.2h0M356.57 225.78h0M356.69 228.53h0M353.28 225.17h0M356.7 229.12h0M353.79 220.33h0M353.73 231.78h0M354.88 219.74h0M353.78 231.64h0M355.53 236.17h0M356.18 224.39h0" stroke="#6a94cc" stroke-width="0.84" stroke-linecap="round"/>
<path d="M356.68 237.51h0M357.11 233.92h0M355.93 219.36h0M353.79 235.46h0M355.5 239.24h0M354.6 238.03h0M356.32 221.37h0M353.68 233.92h0M355.43 219h0M353.42 231.79h0M356.75 225.88h0M353.62 232.96h0M376.62 228.22h0M354.21 218.18h0M356.85 228.73h0M353.15 226.94h0M356.42 235.71h0M356.26 223.26h0M353.94 219.55h0M355.96 222.06h0M353.44 222.46h0M353.47 223.14h0M355.3 236.18h0" stroke="#5080b8" stroke-width="0.84" stroke-linecap="round"/>
<path d="M354.48 238.04h0M356.59 222.42h0M354.94 217.2h0M356.76 236.49h0M353.39 219.5h0M355.86 220.03h0M356.92 233.64h0M377.64 225.25h0M356.91 232.64h0M354.72 237.15h0M353.79 233.81h0M353.94 234.18h0M356.33 223.61h0M355.78 237.16h0M377.23 226.59h0M353.26 223.48h0M356.57 234.35h0M355.43 237.14h0M353.53 230.91h0M354.61 218.97h0M353.48 229.98h0M355.76 236.69h0M353.82 231.61h0M355.7 235.87h0" stroke="#6a98b0" stroke-width="0.84" stroke-linecap="round"/>
<path d="M355.88 219.23h0M356.9 235.8h0M354.62 238.12h0M352.89 224.24h0M354.07 236.12h0M355.98 220.21h0M356.02 238.35h0M354.12 235.98h0M357.03 229.6h0M356.78 225.64h0M355.66 219.6h0M353.86 218.55h0M356.87 230.2h0M377.49 224.88h0M353.48 220.75h0M377.48 225h0M353.52 220.94h0M355.26 236.77h0M355.77 221.47h0M354.35 219.59h0M356.55 228.54h0" stroke="#5a88c4" stroke-width="0.84" stroke-linecap="round"/>
<path d="M355.99 223.38h0M355.8 235.65h0M356.36 233.27h0M355.1 235.61h0M355.76 235.21h0M356.29 226.35h0M353.68 228.93h0M354.76 220.71h0M353.76 229.75h0M353.77 223.17h0M354.01 231.5h0M375.03 228.3h0M353.83 222.9h0M356.33 228.07h0M356.23 232.54h0M354.52 233.63h0M355.22 221.68h0M356.28 231.68h0M355.81 223.77h0M356.15 232.3h0" stroke="#4ca888" stroke-width="0.84" stroke-linecap="round"/>
<path d="M354.37 220.14h0M353.61 223.03h0M356.41 226.99h0M355.6 235.62h0M353.98 221.33h0M355.07 235.38h0M354.05 232.19h0M353.98 231.55h0M377.14 226.01h0M356.2 227.2h0M356.04 233.2h0M354.02 230.65h0M355.47 222.86h0M356.25 229.73h0" stroke="#5aa070" stroke-width="0.84" stroke-linecap="round"/>
<path d="M353.57 223.19h0M353.79 221.82h0M356.43 227.42h0M354.63 234.33h0M356.22 226.26h0M374.86 229.28h0M356.39 230.01h0M355.75 223.36h0M353.65 226.73h0M355.28 221.8h0M356.3 229.43h0M355.49 222.68h0M355.87 233.76h0M355.76 224.05h0M355.82 233.78h0" stroke="#3a9a9a" stroke-width="0.84" stroke-linecap="round"/>
<path d="M353.76 226.7h0M353.83 224.38h0M356.23 230.53h0M354.53 233.04h0M354.58 221.68h0M354.93 233.97h0M353.95 229.38h0M355.58 223.72h0M353.93 228.85h0M354.01 224.31h0M355.4 233.59h0M354.28 231.11h0M356.01 231.19h0M353.98 228.17h0M355.84 225.81h0M355.53 233.26h0M354.1 229.47h0" stroke="#5aa070" stroke-width="0.84" stroke-linecap="round"/>
<path d="M353.76 226.34h0M353.78 226.54h0M355.68 233.92h0M356.15 229.38h0M356 232.1h0M354.36 222.47h0M355.84 225.33h0M354.13 230.4h0M354.79 233.12h0M354.3 222.99h0M353.97 228.04h0M354.25 223.39h0" stroke="#4ca888" stroke-width="0.84" stroke-linecap="round"/>
<path d="M353.78 225.76h0M355.22 234.26h0M353.81 226.11h0M354.35 222.23h0M354.12 230.05h0M353.95 225.82h0M354 225.3h0M355.1 233.27h0" stroke="#3a9a9a" stroke-width="0.84" stroke-linecap="round"/>
<path d="M355.91 227.35h0M355.81 226.42h0M355.85 227.12h0M355.7 231.84h0M355.09 232.61h0M355.76 231.25h0M354.63 223.75h0M354.16 227.22h0M355.55 225.79h0M354.49 230.1h0M355.64 230.81h0" stroke="#c0c040" stroke-width="0.84" stroke-linecap="round"/>
<path d="M355.9 227.18h0M355.79 226.27h0M354.92 232.65h0M354.18 224.5h0M355.61 232.41h0M354.16 229.03h0M354.3 230.17h0M355.83 230.89h0M355.15 224.13h0M354.2 225.77h0M355.29 224.59h0M355.57 231.41h0" stroke="#a8c048" stroke-width="0.84" stroke-linecap="round"/>
<path d="M355.42 232.96h0M354.34 230.64h0M354.54 231.53h0M354.34 223.79h0M354.37 230.62h0M355.18 223.87h0M355.25 232.46h0M354.54 230.77h0M355.48 231.67h0" stroke="#78b858" stroke-width="0.84" stroke-linecap="round"/>
<path d="M354.26 226.45h0M355.66 228.58h0M355.26 231.04h0M355.33 230.87h0M354.45 226.31h0" stroke="#a8c048" stroke-width="0.84" stroke-linecap="round"/>
<path d="M355.23 225.08h0M355.48 226.23h0M354.36 227.45h0M354.43 226.4h0M355.59 229.02h0M355.36 230.68h0M355.34 230.65h0" stroke="#78b858" stroke-width="0.84" stroke-linecap="round"/>
<path d="M354.41 228.76h0M354.37 227.43h0M355.29 225.6h0M355.61 229.51h0M376.43 227.1h0M355.01 225.22h0" stroke="#c0c040" stroke-width="0.84" stroke-linecap="round"/>
<path d="M354.83 230.39h0M355.22 225.8h0M376.24 227.57h0M355.51 229.34h0M355.31 226.31h0M355.23 230.02h0M354.84 228.39h0M355.14 227.94h0M355.03 227.57h0" stroke="#e0a030" stroke-width="0.84" stroke-linecap="round"/>
<path d="M355.39 230.37h0M355.28 226.17h0M355.43 229.89h0M355.38 230.13h0M354.54 228.3h0M354.98 225.85h0M354.64 226.58h0M354.7 226.73h0M354.71 226.87h0" stroke="#e6c040" stroke-width="0.84" stroke-linecap="round"/>
<path d="M354.77 225.53h0M355 225.7h0M354.71 226.15h0M354.62 226.73h0M355.06 229.76h0M355.28 228.91h0M355.04 227.09h0M354.85 227.22h0M354.95 227.71h0" stroke="#d8b838" stroke-width="0.84" stroke-linecap="round"/>
<path d="M437.05 243.68h0M434.29 235.76h0M442.87 232.94h0M445.25 220.82h0M436.96 231.67h0M445.2 225.15h0M437.52 230.89h0M439.88 226.99h0M438.53 229.46h0M444.61 226.09h0M437.95 238.27h0M436.58 234.25h0M444.21 225.72h0M443.53 224.43h0M440.56 234.29h0M436.46 235.16h0M438.94 236.44h0M436.26 236.87h0M436.45 236.14h0M439.37 229.29h0M440.54 233.72h0M436.8 235.2h0M436.66 236.11h0M443.1 225.9h0M438.38 236.34h0M437.99 236.66h0M440.34 228.25h0" stroke="#98aed4" stroke-width="0.84" stroke-linecap="round"/>
<path d="M431.7 243.56h0M434.68 234.68h0M436.55 231.18h0M446.2 224.59h0M443.01 232.35h0M438.2 239.89h0M437.1 230.5h0M438.06 239.95h0M434.14 239.99h0M441.39 234.26h0M434.63 238.37h0M443.59 222.49h0M440.22 235.61h0M436.1 234.75h0M441.49 233.32h0M442.46 231.4h0M438.69 237.33h0M435.68 236.94h0M438.82 229.47h0M441.27 233.28h0M441.41 225.93h0M439.19 229.11h0M441.93 231.86h0M443.97 224.84h0M437.73 237.88h0M442.5 230.49h0M442.17 231.18h0M436.25 237.83h0M437.7 237.57h0M440.33 234.28h0M436.78 237.71h0M436.89 237.19h0M443.02 225.95h0M441.21 227.13h0" stroke="#b0c2e2" stroke-width="0.84" stroke-linecap="round"/>
<path d="M433.86 244.27h0M433.34 243.94h0M440.79 236.71h0M441.83 234.93h0M433.68 238.9h0M442.67 222.72h0M434.46 238.79h0M444.9 221.91h0M439.35 227.67h0M435.87 240.72h0M438.42 238.28h0M445.1 223.14h0M435.95 239.76h0M441.63 233.09h0M440.91 226.28h0M443.3 224.09h0M438.27 237.48h0M438.96 236.6h0M444.02 225.67h0M436.47 238.31h0M438.84 236.54h0M436.59 238.04h0M438.94 236.23h0M439.92 228.51h0M439.83 228.65h0M440.96 227.29h0M441.13 232.53h0" stroke="#a4b8dc" stroke-width="0.84" stroke-linecap="round"/>
<path d="M428 231.28h0M427.09 214.15h0M426.07 228.95h0M425.78 217.33h0M424.57 218.43h0M425.73 231.46h0M426.17 223.45h0M425.79 231.01h0M427.03 232.52h0M425.12 238.53h0M427.3 221.45h0M430.25 237.77h0M435.16 206.45h0M426.58 208.28h0M433.15 206.48h0M435.21 207.74h0M429.85 203.97h0M428.42 209.16h0M430.49 216.23h0M432.83 208.75h0M425.33 207.56h0M432.13 210.91h0M434.86 205.4h0M421.6 210.92h0M424.05 216.3h0M434.51 205.67h0M435.87 209.26h0M421.82 212.89h0M431.18 204.04h0M433.68 209.69h0M428.36 210.05h0M435.73 208.02h0M437.05 204.91h0M438.93 208.69h0M448.53 210.33h0M438.38 207.1h0M435.28 209.92h0M443.3 209.58h0M443.26 207.81h0M444.27 212.19h0M443.05 210.06h0M437.79 207.62h0M441.92 211.27h0M441.2 209.79h0M434.93 205.71h0M432.73 207.02h0M444.32 216.26h0M443.81 213.2h0M450.26 217.02h0M447.54 222.23h0M445.36 214.75h0M445.15 219.94h0M446.2 224h0M444.74 211.73h0" stroke="#c8d6f0" stroke-width="0.84" stroke-linecap="round"/>
<path d="M425.67 235.16h0M426.98 219.79h0M422.6 222.49h0M426.99 210.1h0M427.66 230.66h0M427.89 240.68h0M423.88 227.6h0M426.98 231.32h0M428.84 216.43h0M427.8 238.39h0M427.18 240.46h0M436.96 207.35h0M431 203.35h0M429.22 207.73h0M428.22 207.97h0M433.15 212.97h0M428.1 209.22h0M426.49 208.05h0M426.93 213.39h0M431.77 203.18h0M430.4 209.68h0M433.15 206.97h0M429.31 213.12h0M420.78 209.14h0M431.81 206.94h0M442.68 210.64h0M442.54 210.62h0M446.25 209.98h0M447.34 210.96h0M445.12 207.5h0M442.55 204.07h0M444.61 213.61h0M438.68 207.19h0M444.12 213.62h0M442.7 206.5h0M444.06 207.38h0M439.81 207.65h0M439.52 209.88h0M444.6 206.84h0M446.87 215.23h0M446.55 215.28h0M445.4 224.09h0M446.5 218.31h0M441 222.92h0M443.02 224.28h0M444.45 218.36h0M448.09 224.65h0M446.11 212.05h0" stroke="#98b0dc" stroke-width="0.84" stroke-linecap="round"/>
<path d="M424.12 229.04h0M429.09 239.61h0M427.15 216.9h0M426.08 232.82h0M422.46 219.15h0M427.31 229.85h0M426.63 217.96h0M426.99 239.2h0M427.49 215.44h0M424.15 238.06h0M426.21 231.05h0M425.39 226.78h0M425.59 227.84h0M430.57 238.75h0M423.89 219.59h0M425.55 240.56h0M426.42 241.87h0M424.85 236.07h0M428.12 227.64h0M425.82 217.92h0M423.65 226.3h0M421.84 233.32h0M426.39 217.85h0M432.26 210.53h0M427.5 216.17h0M426.85 208.77h0M436.85 206.81h0M427.51 208.11h0M428.5 211.14h0M433.2 202.94h0M429.23 212.51h0M428.26 207.37h0M442.36 213.58h0M433.68 205.49h0M436.14 209.49h0M444.85 208.65h0M446.8 207.48h0M433.43 204.94h0M442.21 207.16h0M449.75 210h0M447.36 210.19h0M436.74 207.08h0M436.75 207.03h0M443.91 212.94h0M442.48 205.94h0M445.58 216.36h0M444.85 212.04h0M444.76 217.75h0M448.04 220.53h0M448.62 211.74h0M444.77 225.88h0M445.86 215.83h0M445.59 221.8h0M446.58 219.43h0M440.98 221.48h0M448.82 220.26h0M446.19 215.1h0" stroke="#b0c4e8" stroke-width="0.84" stroke-linecap="round"/>
<path d="M424.97 241.02h0M427.73 222.79h0M424.45 223.05h0M426.85 234.29h0M428.61 237.44h0M424.6 237.49h0M430.48 227.51h0M428.75 234.27h0M428.75 229.17h0M425.98 230.18h0M424.17 228.23h0M425.83 240.2h0M427.9 227.35h0M429.45 208.79h0M434.46 204.98h0M431.02 210.23h0M421.06 214.1h0M433.82 212.44h0M422.68 212.63h0M421.81 213.36h0M431.74 207.26h0M435.32 209.92h0M435.62 205.68h0M429.71 211.23h0M423.16 214.33h0M428.91 211.29h0M423.1 214.04h0M431.58 209.75h0M432.31 205.66h0M429.02 210.58h0M429.3 207.07h0M422.29 210.78h0M430.11 210.84h0M428.74 214.78h0M425.32 214.85h0M426.97 210.42h0M428.22 206.96h0M429.15 212.76h0M441.94 214.51h0M441.75 209.77h0M436.39 207.19h0M442.77 209.44h0M441.24 209.43h0M435.55 208.29h0M442.71 206.69h0M445.23 211.18h0M451.49 211.6h0M439.02 208.07h0M436.23 208.25h0M445.82 210.48h0M435.47 211.57h0M442.41 216.16h0M440.28 208.09h0M441.27 203.52h0M447 219.45h0M446.75 217.54h0M445.57 223.82h0M448.44 215.93h0M448.62 223.02h0M447.35 219.65h0M448.23 218.38h0M447.31 221.14h0M448.01 218.27h0" stroke="#a4bae2" stroke-width="0.84" stroke-linecap="round"/>
<path d="M426.19 221.97h0M427.38 233.57h0M426.72 239.22h0M425.37 226.98h0M425.96 228.82h0M424.84 231.51h0M428.52 234.76h0M423.35 215.07h0M422.8 222.1h0M429.47 237.51h0M428.33 238.83h0M423.59 229.84h0M431.44 214.54h0M433.43 211.61h0M433.43 210.99h0M423.07 213.19h0M427.7 210.23h0M433.27 207.42h0M429.92 211.96h0M432.7 206.37h0M432.21 209.92h0M429.92 210.27h0M428.34 207.71h0M431.75 204.14h0M428.05 212.33h0M424.88 205.92h0M432.25 215.15h0M429.19 207.17h0M426.16 212.33h0M432.81 205.16h0M428.23 206.65h0M427.98 209.06h0M433.67 212.88h0M424.57 206.59h0M435.24 206.21h0M449.46 209.72h0M440.14 208.59h0M439.6 210.21h0M446.55 207.25h0M441.08 204.73h0M438.46 210.75h0M448.63 207.76h0M439.6 206.88h0M445.1 209.23h0M437.79 210.35h0M440.71 204.5h0M436.28 209.12h0M444.34 207.32h0M439.78 209.64h0M438.34 204.58h0M438.64 211.97h0M445.04 206.83h0M442.61 220.33h0M449.63 222.25h0M451.79 214.95h0M445.9 220.13h0M446.73 218.54h0M446.22 210.77h0M448.26 214.66h0M444.69 223.42h0M447.89 220.58h0" stroke="#bccfee" stroke-width="0.84" stroke-linecap="round"/>
<path d="M439.39 235.08h0M437.44 234.31h0M437.39 234.48h0M441.11 232.07h0M442.11 229.79h0M437.92 236.03h0M442.52 227.11h0M442.43 227.12h0M440.98 232.12h0M438 233.21h0M438.46 232.1h0M441.51 227.63h0M441.9 227.54h0M440.34 229.05h0M439.74 233.82h0M441.14 231.42h0" stroke="#6a94cc" stroke-width="0.84" stroke-linecap="round"/>
<path d="M442.57 229.03h0M437.31 234.37h0M438.46 236.04h0M442.84 227.95h0M437.46 236.55h0M437.56 236.5h0M437.43 234.4h0M437.51 235.46h0M442.09 227.33h0" stroke="#6a98b0" stroke-width="0.84" stroke-linecap="round"/>
<path d="M437.07 236.02h0M438.85 230.88h0M437.86 236.3h0M438.14 235.96h0M442.51 228.4h0M442.28 228.98h0M437.53 235.13h0M439.06 230.91h0" stroke="#5080b8" stroke-width="0.84" stroke-linecap="round"/>
<path d="M437.12 235.47h0M441.85 226.79h0M439.7 234.37h0M437.3 235.26h0M440.9 227.91h0M439.97 233.84h0M442.12 229.1h0" stroke="#5a88c4" stroke-width="0.84" stroke-linecap="round"/>
<path d="M440.8 232.07h0M442.08 228.51h0" stroke="#4ca888" stroke-width="0.84" stroke-linecap="round"/>
<path d="M440.08 233.27h0M437.95 234.96h0M440.32 232.85h0M440.33 229.3h0M441.07 228.69h0" stroke="#5aa070" stroke-width="0.84" stroke-linecap="round"/>
<path d="M438.57 232.33h0M441.28 228.42h0M440.34 232.58h0M438.54 234.54h0" stroke="#3a9a9a" stroke-width="0.84" stroke-linecap="round"/>
<path d="M440.98 231.26h0M441.18 230.65h0M439.24 231.43h0M438.64 233.84h0" stroke="#5aa070" stroke-width="0.84" stroke-linecap="round"/>
<path d="M440.9 231.29h0M441.01 229.09h0M441.37 229.28h0" stroke="#3a9a9a" stroke-width="0.84" stroke-linecap="round"/>
<path d="M438.66 233.89h0" stroke="#4ca888" stroke-width="0.84" stroke-linecap="round"/>
<path d="M441.25 230h0M438.85 232.73h0M441.19 229.81h0M439.46 233.24h0M439.25 231.92h0M439.75 232.8h0" stroke="#c0c040" stroke-width="0.84" stroke-linecap="round"/>
<path d="M440.92 230.98h0M438.93 232.47h0M441.25 229.67h0" stroke="#a8c048" stroke-width="0.84" stroke-linecap="round"/>
<path d="M439.82 230.66h0" stroke="#78b858" stroke-width="0.84" stroke-linecap="round"/>
<path d="M439 232.97h0" stroke="#78b858" stroke-width="0.84" stroke-linecap="round"/>
<path d="M439.92 230.75h0M439.12 232.75h0" stroke="#a8c048" stroke-width="0.84" stroke-linecap="round"/>
<path d="M440.47 231.34h0M440.28 230.48h0M440.4 231.27h0M440.52 230.52h0" stroke="#e6c040" stroke-width="0.84" stroke-linecap="round"/>
<path d="M439.28 232.52h0M440.42 230.4h0M440.49 230.75h0M439.75 232.18h0" stroke="#d8b838" stroke-width="0.84" stroke-linecap="round"/>
<path d="M439.61 232.52h0M440.18 230.74h0" stroke="#e0a030" stroke-width="0.84" stroke-linecap="round"/>
<rect x="202" y="201.2" width="53.4" height="52.8" fill="none" stroke="#111" stroke-width="0.9"/>
<text x="197.7" y="209.9" font-size="6.4" text-anchor="end" fill="#222">10<tspan dy="-2.5" font-size="4.42">5</tspan></text>
<text x="197.7" y="222.4" font-size="6.4" text-anchor="end" fill="#222">10<tspan dy="-2.5" font-size="4.42">4</tspan></text>
<text x="197.7" y="235.3" font-size="6.4" text-anchor="end" fill="#222">10<tspan dy="-2.5" font-size="4.42">3</tspan></text>
<text x="197.7" y="245.7" font-size="6.4" text-anchor="end" fill="#222">0</text>
<text x="213" y="263.7" font-size="6.4" text-anchor="middle" fill="#222">0</text>
<text x="222.5" y="263.7" font-size="6.4" text-anchor="middle" fill="#222">10<tspan dy="-2.5" font-size="4.55">3</tspan></text>
<text x="237.5" y="263.7" font-size="6.4" text-anchor="middle" fill="#222">10<tspan dy="-2.5" font-size="4.55">4</tspan></text>
<text x="248.5" y="263.7" font-size="6.4" text-anchor="middle" fill="#222">10<tspan dy="-2.5" font-size="4.55">5</tspan></text>
<text x="228.1" y="195.2" font-size="9.6" text-anchor="middle" fill="#222">Day1</text>
<rect x="270.8" y="201.2" width="53.4" height="52.8" fill="none" stroke="#111" stroke-width="0.9"/>
<text x="266.5" y="209.9" font-size="6.4" text-anchor="end" fill="#222">10<tspan dy="-2.5" font-size="4.42">5</tspan></text>
<text x="266.5" y="222.4" font-size="6.4" text-anchor="end" fill="#222">10<tspan dy="-2.5" font-size="4.42">4</tspan></text>
<text x="266.5" y="235.3" font-size="6.4" text-anchor="end" fill="#222">10<tspan dy="-2.5" font-size="4.42">3</tspan></text>
<text x="266.5" y="245.7" font-size="6.4" text-anchor="end" fill="#222">0</text>
<text x="281.8" y="263.7" font-size="6.4" text-anchor="middle" fill="#222">0</text>
<text x="291.3" y="263.7" font-size="6.4" text-anchor="middle" fill="#222">10<tspan dy="-2.5" font-size="4.55">3</tspan></text>
<text x="306.3" y="263.7" font-size="6.4" text-anchor="middle" fill="#222">10<tspan dy="-2.5" font-size="4.55">4</tspan></text>
<text x="317.3" y="263.7" font-size="6.4" text-anchor="middle" fill="#222">10<tspan dy="-2.5" font-size="4.55">5</tspan></text>
<text x="297.1" y="195.2" font-size="9.6" text-anchor="middle" fill="#222">2</text>
<rect x="340.8" y="201.2" width="53.4" height="52.8" fill="none" stroke="#111" stroke-width="0.9"/>
<text x="336.5" y="209.9" font-size="6.4" text-anchor="end" fill="#222">10<tspan dy="-2.5" font-size="4.42">5</tspan></text>
<text x="336.5" y="222.4" font-size="6.4" text-anchor="end" fill="#222">10<tspan dy="-2.5" font-size="4.42">4</tspan></text>
<text x="336.5" y="235.3" font-size="6.4" text-anchor="end" fill="#222">10<tspan dy="-2.5" font-size="4.42">3</tspan></text>
<text x="336.5" y="245.7" font-size="6.4" text-anchor="end" fill="#222">0</text>
<text x="351.8" y="263.7" font-size="6.4" text-anchor="middle" fill="#222">0</text>
<text x="361.3" y="263.7" font-size="6.4" text-anchor="middle" fill="#222">10<tspan dy="-2.5" font-size="4.55">3</tspan></text>
<text x="376.3" y="263.7" font-size="6.4" text-anchor="middle" fill="#222">10<tspan dy="-2.5" font-size="4.55">4</tspan></text>
<text x="387.3" y="263.7" font-size="6.4" text-anchor="middle" fill="#222">10<tspan dy="-2.5" font-size="4.55">5</tspan></text>
<text x="368" y="195.2" font-size="9.6" text-anchor="middle" fill="#222">4</text>
<rect x="413.7" y="201.2" width="53.4" height="52.8" fill="none" stroke="#111" stroke-width="0.9"/>
<text x="409.4" y="209.9" font-size="6.4" text-anchor="end" fill="#222">10<tspan dy="-2.5" font-size="4.42">5</tspan></text>
<text x="409.4" y="222.4" font-size="6.4" text-anchor="end" fill="#222">10<tspan dy="-2.5" font-size="4.42">4</tspan></text>
<text x="409.4" y="235.3" font-size="6.4" text-anchor="end" fill="#222">10<tspan dy="-2.5" font-size="4.42">3</tspan></text>
<text x="409.4" y="245.7" font-size="6.4" text-anchor="end" fill="#222">0</text>
<text x="424.7" y="263.7" font-size="6.4" text-anchor="middle" fill="#222">0</text>
<text x="434.2" y="263.7" font-size="6.4" text-anchor="middle" fill="#222">10<tspan dy="-2.5" font-size="4.55">3</tspan></text>
<text x="449.2" y="263.7" font-size="6.4" text-anchor="middle" fill="#222">10<tspan dy="-2.5" font-size="4.55">4</tspan></text>
<text x="460.2" y="263.7" font-size="6.4" text-anchor="middle" fill="#222">10<tspan dy="-2.5" font-size="4.55">5</tspan></text>
<text x="440.3" y="195.2" font-size="9.6" text-anchor="middle" fill="#222">6</text>
<rect x="207.3" y="223.5" width="14.4" height="21.9" fill="none" stroke="#222" stroke-width="0.8"/>
<text x="224.2" y="245.3" font-size="6" fill="#222">50</text>
<text x="222.5" y="251.8" font-size="6" fill="#222">92.9</text>
<rect x="276" y="223.5" width="14.4" height="21.9" fill="none" stroke="#222" stroke-width="0.8"/>
<text x="292.9" y="245.3" font-size="6" fill="#222">50</text>
<text x="291.2" y="251.8" font-size="6" fill="#222">81.7</text>
<rect x="347.3" y="224.4" width="14" height="21" fill="none" stroke="#222" stroke-width="0.8"/>
<text x="363.8" y="245.3" font-size="6" fill="#222">50</text>
<text x="362.1" y="251.8" font-size="6" fill="#222">41.8</text>
<rect x="418.9" y="224.3" width="15" height="22.2" fill="none" stroke="#222" stroke-width="0.8"/>
<text x="436.4" y="245.3" font-size="6" fill="#222">50</text>
<text x="434.7" y="251.8" font-size="6" fill="#222">16</text>
<text x="181.7" y="246.5" font-size="9" text-anchor="middle" fill="#222" textLength="16.9" lengthAdjust="spacingAndGlyphs" transform="rotate(-90 181.7 246.5)">CD71</text>
<text x="200.8" y="276.5" font-size="9.2" fill="#222" textLength="23.8" lengthAdjust="spacingAndGlyphs">Ter-119</text>
<line x1="201.4" y1="298.5" x2="201.4" y2="348.3" stroke="#111" stroke-width="1.5" stroke-dasharray="1.3 0.9"/>
<line x1="202.5" y1="349.4" x2="253.9" y2="349.4" stroke="#111" stroke-width="1.5" stroke-dasharray="1.3 0.9"/>
<rect x="270.8" y="296" width="53.4" height="52.8" fill="#f6f6f8"/>
<line x1="270.2" y1="298.5" x2="270.2" y2="348.3" stroke="#111" stroke-width="1.5" stroke-dasharray="1.3 0.9"/>
<line x1="271.3" y1="349.4" x2="322.7" y2="349.4" stroke="#111" stroke-width="1.5" stroke-dasharray="1.3 0.9"/>
<line x1="340.7" y1="298.5" x2="340.7" y2="348.3" stroke="#111" stroke-width="1.5" stroke-dasharray="1.3 0.9"/>
<line x1="341.8" y1="349.4" x2="393.2" y2="349.4" stroke="#111" stroke-width="1.5" stroke-dasharray="1.3 0.9"/>
<line x1="413.6" y1="298.5" x2="413.6" y2="348.3" stroke="#111" stroke-width="1.5" stroke-dasharray="1.3 0.9"/>
<line x1="414.7" y1="349.4" x2="466.1" y2="349.4" stroke="#111" stroke-width="1.5" stroke-dasharray="1.3 0.9"/>
<path d="M218.69 329.53h0M204.21 345.6h0M217.19 335.83h0M208.65 344.98h0M211.38 343.26h0M212.63 327.55h0M214.66 328.53h0M211.06 328.52h0M214.84 337.82h0M214.53 329.3h0M215.69 331.04h0M208.98 330.26h0M215.53 330.8h0M208.4 342.92h0M214.22 338.35h0M209.56 342.56h0M207.28 342.65h0M205.16 337h0M212.17 340.75h0M206.4 333.91h0M214.32 330.47h0M212.94 339.44h0M206.26 341.28h0M212.16 329.82h0M212.33 330.01h0" stroke="#a4b8dc" stroke-width="0.84" stroke-linecap="round"/>
<path d="M204.53 345.78h0M210.19 345.18h0M213.76 340.97h0M206.11 344.28h0M211.87 328.04h0M204.22 339.84h0M205.1 335.11h0M215.97 331.56h0M208.78 330.5h0M215 330.6h0M212.55 340.13h0M215.36 334.04h0M214.64 336.61h0M205.51 339.93h0M215.01 335.12h0M208.51 342.15h0M206.14 335.48h0" stroke="#98aed4" stroke-width="0.84" stroke-linecap="round"/>
<path d="M226.21 321.18h0M212.9 335.36h0M224.49 322.3h0M216.96 326.48h0M215.27 327.73h0M230.45 315h0M230.24 313.8h0M220.21 326h0M223.72 316.03h0M214.16 332.86h0M220.59 318.62h0M225.3 323.6h0" stroke="#b0c4e8" stroke-width="0.84" stroke-linecap="round"/>
<path d="M223.83 320.61h0M220.85 323.75h0M216 324.76h0M218.65 326.25h0M216.36 326.43h0M221.66 319.31h0M215.32 329.33h0M224.17 324.76h0M218.97 325.91h0M211.44 328.59h0M219.91 325.15h0M227.13 316.01h0" stroke="#a4bae2" stroke-width="0.84" stroke-linecap="round"/>
<path d="M214.26 323.94h0M216.62 326.94h0M214.77 329.13h0M222.33 321.51h0M226.02 317.64h0M220.49 324.1h0M220.74 322.54h0M221.98 320.33h0M216.74 320.78h0" stroke="#98b0dc" stroke-width="0.84" stroke-linecap="round"/>
<path d="M214.6 333.62h0M217.36 325.42h0M217.5 324.18h0M219.11 323.59h0M216.39 327.6h0M212.84 332.22h0M215.37 329.56h0M221.76 318.54h0M223.94 318.87h0M225.85 316.58h0" stroke="#bccfee" stroke-width="0.84" stroke-linecap="round"/>
<path d="M226.77 314.84h0M226.97 317.95h0M219.42 325.02h0M227.31 321.6h0M229.68 317.61h0M214.03 332.75h0M223.84 325.72h0M228.51 316.39h0M226.06 321.12h0M223.27 324.32h0M232.98 314.62h0M230.3 314.17h0" stroke="#c8d6f0" stroke-width="0.84" stroke-linecap="round"/>
<path d="M204.89 344.52h0M208.11 329.27h0M217.14 333.55h0M212.97 341.56h0M216.44 331.25h0M215.18 329.37h0M213.11 328.62h0M204.86 341.16h0M215.71 331.01h0M210.99 329.3h0M215.68 333.19h0M208.97 342.58h0M208.58 331.36h0M207.39 332.88h0M215.16 332.65h0" stroke="#b0c2e2" stroke-width="0.84" stroke-linecap="round"/>
<path d="M206.23 340.83h0M208.4 341.87h0M214.88 334.39h0M214.7 335.18h0M207.58 333.27h0M211.78 330.42h0M210.02 331.13h0M211.94 330.63h0M210.15 331.21h0M213.44 337.32h0M210.48 331.26h0M208.39 332.89h0M214.21 334.65h0M211.97 339.17h0M210.87 331.34h0M212.82 337.98h0M210.99 339.91h0M207.78 334.09h0M211.3 339.64h0M213.31 336.95h0M207.52 340.21h0M206.84 336.4h0M206.73 337.12h0M207.64 340.07h0M207.4 335.26h0M213.66 334.68h0M207.71 334.9h0" stroke="#5080b8" stroke-width="0.84" stroke-linecap="round"/>
<path d="M211.39 340.62h0M208.46 341.69h0M213.66 330.88h0M214.2 331.65h0M206.93 340.63h0M206.15 338.32h0M213.15 331.37h0M212.91 331.28h0M212.4 338.42h0M209.55 340.36h0M206.96 338.42h0M208.58 333.56h0M209.04 340.18h0" stroke="#6a94cc" stroke-width="0.84" stroke-linecap="round"/>
<path d="M214.14 336.97h0M205.76 338.68h0M205.87 338.1h0M205.89 338.51h0M206.41 335.89h0M213.4 331.17h0M208.94 332.14h0M210.9 330.96h0M209.89 340.91h0M206.29 337.59h0M209.45 331.96h0M211.76 339.31h0M208.05 340.63h0M213.84 335.54h0M206.79 336.51h0M212.36 338.46h0M210.54 331.69h0M206.72 337.66h0M213.12 332.05h0M213.39 336.4h0M213.57 332.79h0M210.86 339.64h0M210.26 339.95h0" stroke="#6a98b0" stroke-width="0.84" stroke-linecap="round"/>
<path d="M212.62 339.26h0M207.22 341.31h0M213.49 330.82h0M213.71 331.06h0M211.11 330.69h0M211.37 330.93h0M213.24 337.7h0M206.73 335.62h0M210.48 340.48h0M214.16 333.7h0M206.89 339.84h0M206.45 338.29h0M207.02 340.01h0M210.9 339.98h0M207.12 338.62h0" stroke="#5a88c4" stroke-width="0.84" stroke-linecap="round"/>
<path d="M209.72 339.98h0M212.3 337.89h0M212.9 332.5h0M213.04 332.69h0M207.79 339.52h0M209.4 339.96h0M212.52 337.32h0M207.24 337.81h0M212.86 332.82h0M213.23 333.83h0M208.99 333.6h0M210.74 339.15h0M210.99 332.35h0M212.78 336.21h0M212.81 333.41h0M212.47 333.06h0M208.24 338.95h0M209.94 333.19h0" stroke="#3a9a9a" stroke-width="0.84" stroke-linecap="round"/>
<path d="M212.84 337.02h0M208.11 334.39h0M213.21 332.98h0M212.81 337.01h0M213.16 332.91h0M207.19 338.35h0M210.42 339.55h0M213.34 334.63h0M207.64 335.66h0M207.45 336.26h0M213.13 333.39h0M207.39 337.27h0M211.28 332.38h0M213.11 335.27h0M207.44 337.25h0M210.77 332.59h0M207.69 336.39h0M212.52 336.65h0" stroke="#5aa070" stroke-width="0.84" stroke-linecap="round"/>
<path d="M213.14 332.87h0M207.24 336.88h0M212.45 332.31h0M207.34 336.97h0M210.87 332.32h0M210.75 332.47h0M212.42 337.14h0M212.19 337.52h0M209.2 333.53h0M213.08 335.17h0M212.67 336.44h0M208.34 334.76h0M212.97 334.82h0M212.92 335.24h0M208.08 338.82h0M209.61 339.3h0" stroke="#4ca888" stroke-width="0.84" stroke-linecap="round"/>
<path d="M212.18 337.13h0M207.84 338.22h0M210.93 338.57h0M208.11 335.56h0M207.73 337.51h0M212.84 335.15h0M208.06 335.78h0M209.91 333.34h0M207.89 337.85h0M210.5 333.07h0M208.03 336.06h0M211.98 337.15h0M208.51 338.8h0M208.38 335.35h0M212.19 333.38h0M212.01 333.41h0M211.92 333.37h0M208.28 338.02h0M210.02 333.69h0" stroke="#4ca888" stroke-width="0.84" stroke-linecap="round"/>
<path d="M209.6 333.47h0M210.9 338.32h0M208.11 337.61h0M208.18 337.88h0M210.48 338.46h0M208.14 337.32h0M209.34 334.29h0M209.67 338.64h0M211.43 337.47h0" stroke="#3a9a9a" stroke-width="0.84" stroke-linecap="round"/>
<path d="M211.34 338.2h0M212.67 333.69h0M208.36 335.21h0M207.94 336.41h0M207.87 336.82h0M211.12 338.21h0M208.05 336.16h0M210.92 333.07h0M210.1 338.76h0M212.25 336.42h0M208.17 338.09h0M209.21 334.23h0M208.87 338.79h0M210.58 333.38h0M209.86 338.66h0" stroke="#5aa070" stroke-width="0.84" stroke-linecap="round"/>
<path d="M209.4 338.62h0M212.15 335.8h0M208.38 336.64h0M209.81 334.09h0M208.43 336.37h0M208.81 335.37h0M210.03 338.21h0M211.39 336.95h0M208.81 337.53h0M210.87 337.47h0M211.79 334.54h0M208.71 336.57h0M209.23 335.17h0M211.81 334.67h0" stroke="#a8c048" stroke-width="0.84" stroke-linecap="round"/>
<path d="M211.44 337.37h0M212 333.99h0M212.1 334.3h0M210.01 338.23h0M208.67 337.47h0M209.21 337.93h0M211.86 334.9h0" stroke="#78b858" stroke-width="0.84" stroke-linecap="round"/>
<path d="M211.33 333.54h0M210.31 338.23h0M210.26 333.79h0M208.82 335.35h0M209.48 338.37h0M210.14 338.22h0M212.07 335.76h0M208.74 337.83h0M211.29 333.86h0M209.67 334.48h0M211.54 336.61h0" stroke="#c0c040" stroke-width="0.84" stroke-linecap="round"/>
<path d="M211.58 334.31h0M211.72 335.58h0M209.05 337.44h0M211.5 336.28h0M211.56 334.86h0" stroke="#a8c048" stroke-width="0.84" stroke-linecap="round"/>
<path d="M210.89 334.04h0M208.8 336.86h0M211.04 334.15h0M211.63 334.61h0M209.81 337.81h0M209.72 337.8h0M211.12 334.43h0M210.28 337.4h0M210.83 334.5h0" stroke="#c0c040" stroke-width="0.84" stroke-linecap="round"/>
<path d="M211.81 334.89h0M209.45 334.97h0M208.8 337.06h0M209.43 335.04h0M211.77 335.45h0M208.87 336.82h0M210.63 334.35h0M209.09 336.07h0M211.58 335.14h0M209.06 336.53h0M209.49 337.48h0M210.94 334.48h0" stroke="#78b858" stroke-width="0.84" stroke-linecap="round"/>
<path d="M211.28 334.75h0M209.24 337.03h0M210.64 334.59h0M211.3 336.04h0M210.39 334.71h0M209.51 335.7h0M210.98 334.93h0M209.59 337.04h0M209.57 335.76h0M209.43 336.43h0M210.39 336.9h0M211.13 335.63h0M210.98 336.17h0M209.87 337h0M209.64 336.74h0M210.6 335.19h0M210.12 335.54h0M209.88 336.26h0M210.63 336.07h0M210.66 335.91h0" stroke="#e6c040" stroke-width="0.84" stroke-linecap="round"/>
<path d="M209.3 337.19h0M210.4 337.23h0M211.03 334.68h0M210.85 336.67h0M210.05 335.15h0M209.51 336.83h0M210.58 336.66h0M209.76 335.74h0M210.77 335.7h0M209.96 336.43h0M210.32 336.08h0" stroke="#e0a030" stroke-width="0.84" stroke-linecap="round"/>
<path d="M209.54 337.34h0M209.81 337.39h0M210.33 337.16h0M210.91 334.78h0M210.92 334.85h0M210.95 334.9h0M209.41 336.37h0M210.28 335.1h0M210.83 335.12h0M210.48 335.52h0" stroke="#d8b838" stroke-width="0.84" stroke-linecap="round"/>
<path d="M276.85 326.35h0M285.79 339.31h0M272.56 342.3h0M277.82 328.87h0M283.51 340.13h0M286.1 335.05h0M274.62 332.37h0M280.58 328.38h0M282.41 340.36h0M273.43 338.65h0M284.76 335.48h0M284.26 331.08h0M274.3 336.78h0M275.7 333.09h0M274.58 339.14h0M274.39 336.61h0M281.58 339.69h0M284.47 332.64h0M274.6 336.03h0M277.86 341.17h0M284.43 333.42h0M276.13 332.92h0M275.09 334.93h0M275.81 333.72h0M278.54 340.74h0M278.26 331.31h0M283.53 336.17h0M278.15 331.52h0M280.12 339.86h0M282.42 337.65h0M276.48 339.63h0M278.51 340.11h0M278.84 331.44h0M275.58 335.69h0" stroke="#b0c2e2" stroke-width="0.84" stroke-linecap="round"/>
<path d="M282.77 341.64h0M284 327.8h0M273.14 336.87h0M284.42 337.66h0M278.58 342.33h0M277.48 330.2h0M276.99 330.66h0M281.6 329.06h0M274.81 339.89h0M276.54 341.27h0M274.55 335.41h0M274.94 339.92h0M282.91 330.02h0M274.67 339.32h0M275.7 333.22h0M274.95 339.51h0M275.9 340.29h0M275.16 335.26h0M280.4 330.36h0M275.88 333.87h0M280.72 330.42h0M284 333.73h0M283.35 336.49h0M282.34 338.06h0M277.89 340.41h0M275.15 336.93h0M278.44 331.43h0M276.67 333.18h0M275.45 335.74h0M280.32 339.58h0M280.04 330.88h0M281.82 331h0" stroke="#98aed4" stroke-width="0.84" stroke-linecap="round"/>
<path d="M277.8 328.88h0M278.54 343.19h0M276.39 331.76h0M277.6 330.66h0M277.79 341.53h0M282.23 329.82h0M274.52 337.38h0M279.52 330.58h0M283.89 335.31h0M283.91 333.17h0M281.91 338.37h0M275.83 334.62h0M275.57 338.45h0M282.38 331.29h0M282.97 336.59h0" stroke="#a4b8dc" stroke-width="0.84" stroke-linecap="round"/>
<path d="M291.53 322.93h0M299.55 316.56h0M287.31 324.6h0M288.33 322.94h0M286.17 324.77h0M295.01 322.67h0M297.1 320.2h0" stroke="#bccfee" stroke-width="0.84" stroke-linecap="round"/>
<path d="M296.02 320.38h0M298.71 315.99h0M301.24 316.18h0M291.93 318.4h0M293.17 323.6h0M286.5 326h0M299.16 317.79h0M292.85 324.07h0M295.73 321.06h0M296.42 314.55h0M297.37 318h0M291.92 320.47h0M287.91 328.73h0" stroke="#a4bae2" stroke-width="0.84" stroke-linecap="round"/>
<path d="M296.21 310.63h0M299.27 316h0M279.97 331.04h0M285.87 324.05h0M285.51 325.71h0M298.16 316.34h0M285.9 323.81h0M294.75 321.56h0M289.8 320.71h0" stroke="#b0c4e8" stroke-width="0.84" stroke-linecap="round"/>
<path d="M289.24 321.38h0M287.08 323.91h0M284.17 328.8h0M295.3 315.74h0" stroke="#c8d6f0" stroke-width="0.84" stroke-linecap="round"/>
<path d="M292.54 321.46h0M293.8 313.46h0M303.07 318.24h0M299.89 314.48h0M291.31 320.84h0M291.96 328.69h0M294.61 317.11h0M301.92 313.75h0M300.12 315h0M289.94 326.49h0M281.21 331.75h0M290.17 322.19h0" stroke="#98b0dc" stroke-width="0.84" stroke-linecap="round"/>
<path d="M281.9 338.12h0M276.43 333.79h0M281.48 331h0M278.25 331.96h0M283.12 332.51h0M281.29 331.13h0M279.67 331.41h0M276.81 333.81h0M278.37 332.33h0M276.28 338.2h0M276.34 338.09h0M276.21 335.78h0M279.42 331.91h0M282.64 332.99h0M276.73 334.55h0M280.04 331.82h0M278.96 339.15h0M282.72 335.03h0M277.82 333.16h0M276.45 337.26h0M278.53 332.92h0" stroke="#6a94cc" stroke-width="0.84" stroke-linecap="round"/>
<path d="M276.21 334.23h0M278.92 339.81h0M276.1 338.68h0M283.32 334.34h0M278.95 331.79h0M276.05 338.21h0M276.01 335.98h0M277.02 339.04h0M276.78 334.21h0M276.12 335.96h0M278.07 332.82h0M282.81 334.41h0M279.02 332.32h0M278.48 332.75h0M282.46 335.01h0M277.74 333.65h0M276.69 335.71h0M276.65 336.74h0" stroke="#5a88c4" stroke-width="0.84" stroke-linecap="round"/>
<path d="M282.9 336.49h0M276.97 339.48h0M283.31 334.22h0M280.13 339.11h0M275.88 336.72h0M283 333.23h0M282.89 335.53h0M277.31 339.32h0M277.19 339.05h0M277.67 333.11h0M281.29 331.93h0M280.49 338.34h0M282.17 332.86h0M281.57 337.17h0M282.49 335.13h0M278.67 332.89h0" stroke="#5080b8" stroke-width="0.84" stroke-linecap="round"/>
<path d="M276.04 334.89h0M282.13 337.54h0M277.23 333.07h0M276.77 339.35h0M276.43 338.94h0M282.86 332.82h0M281.72 331.69h0M277.22 339.23h0M276.73 338.76h0M277.71 333h0M276.06 336.39h0M280.91 331.62h0M276.07 336.72h0M276.82 338.66h0M276.25 337.52h0M282.21 332.56h0M281.5 337.43h0M277.04 334.66h0M276.89 337.78h0M278.48 333.05h0" stroke="#6a98b0" stroke-width="0.84" stroke-linecap="round"/>
<path d="M279.25 338.59h0M277.35 338h0M279.42 332.69h0M281.61 336.45h0M282.11 334.35h0M277.07 335.75h0M278.03 333.89h0M277.12 336.91h0M281.71 333.62h0M277.13 336.68h0M281.5 333.46h0M278.85 338.07h0" stroke="#5aa070" stroke-width="0.84" stroke-linecap="round"/>
<path d="M278.6 338.65h0M276.86 337.4h0M279.65 332.51h0M280.32 332.41h0M279.5 332.67h0M281.27 336.95h0M282.06 334.5h0M280.97 332.8h0M280.57 332.97h0" stroke="#3a9a9a" stroke-width="0.84" stroke-linecap="round"/>
<path d="M276.88 336.24h0M277.14 335.28h0M280.87 337.26h0M281.37 333h0M278.3 338.19h0" stroke="#4ca888" stroke-width="0.84" stroke-linecap="round"/>
<path d="M281.65 335.37h0M279.89 333.01h0M281.44 333.75h0M280.11 337.48h0M277.99 337.7h0M278.88 333.66h0M281.25 333.85h0M279.21 333.56h0M278.34 334.35h0M277.8 336.94h0M277.65 336.11h0" stroke="#4ca888" stroke-width="0.84" stroke-linecap="round"/>
<path d="M281.15 333.33h0M281.67 335.01h0M280.99 336.56h0M281.46 335.59h0M281.52 334.22h0M279.31 337.61h0M279.68 333.41h0M278.93 333.81h0" stroke="#3a9a9a" stroke-width="0.84" stroke-linecap="round"/>
<path d="M281.68 334.49h0M279.55 333.25h0M277.67 335.18h0M278.79 333.77h0M281.17 333.83h0M278.59 337.61h0M281.04 333.79h0M281.08 335.99h0M277.75 336.72h0" stroke="#5aa070" stroke-width="0.84" stroke-linecap="round"/>
<path d="M280.94 333.81h0M277.88 336.76h0M279.33 337.39h0M280.9 335.99h0M280.88 335.99h0M280.75 336.13h0M278.98 334.35h0" stroke="#a8c048" stroke-width="0.84" stroke-linecap="round"/>
<path d="M278.56 334.27h0M280.85 333.82h0M278.15 336.52h0M278.25 336.54h0" stroke="#c0c040" stroke-width="0.84" stroke-linecap="round"/>
<path d="M281.24 334.88h0M280.62 333.76h0M277.91 335.65h0M278.64 337.17h0M278.27 336.69h0M280.89 335.18h0M279.15 337.06h0" stroke="#78b858" stroke-width="0.84" stroke-linecap="round"/>
<path d="M279.17 336.99h0M278.39 336.63h0M280.3 334.13h0M278.49 335.05h0M279.99 336.5h0M278.86 334.72h0M279.67 336.58h0" stroke="#a8c048" stroke-width="0.84" stroke-linecap="round"/>
<path d="M279.73 334.05h0M278.74 336.65h0M278.91 336.67h0M280.33 334.47h0" stroke="#c0c040" stroke-width="0.84" stroke-linecap="round"/>
<path d="M280.74 334.77h0M279.53 334.16h0M280.44 335.99h0M279.11 334.42h0M280.66 334.93h0" stroke="#78b858" stroke-width="0.84" stroke-linecap="round"/>
<path d="M279.41 336.6h0M280.15 334.75h0M278.7 335.67h0M279.26 336.25h0M279.78 335.91h0M279.31 335.04h0M279.45 335.89h0" stroke="#d8b838" stroke-width="0.84" stroke-linecap="round"/>
<path d="M278.63 336h0M279.09 336.44h0M280.29 335.01h0M280.26 335.19h0M278.94 335.21h0" stroke="#e6c040" stroke-width="0.84" stroke-linecap="round"/>
<path d="M279.62 336.12h0M278.91 335.73h0M279.9 335.24h0M279.22 335.33h0" stroke="#e0a030" stroke-width="0.84" stroke-linecap="round"/>
<path d="M353.52 322.16h0M343.86 329.64h0M344.28 345.63h0M355.55 324.34h0M354 340.87h0M358.76 327.82h0M352.68 341.64h0M352.6 325.54h0M344.47 332.05h0M346.17 329.99h0M349.7 327.8h0M343.9 340.27h0M345.81 331.46h0M351.98 340.56h0M355.7 336.48h0M354.53 337.74h0M348.68 329.17h0M356.76 333.19h0M351.77 339.96h0M349.41 328.96h0M352.54 339.28h0M344.28 337.54h0M345.73 332.85h0M352.16 339.46h0M344.48 338.11h0M355.93 334.51h0M352.67 338.95h0M348.92 329.6h0M354.83 328.51h0M348.86 340.77h0M354.25 328.39h0M345.66 333.6h0M355.55 334.98h0M346.52 332.21h0M356.11 333.32h0M346.19 332.76h0M346.79 339.92h0M355.69 332.88h0M355.05 329.92h0" stroke="#a4b8dc" stroke-width="0.84" stroke-linecap="round"/>
<path d="M349.28 343.97h0M359.17 331.72h0M358.95 331.86h0M351.42 325.81h0M358.89 330.33h0M343.74 342.21h0M352.68 340.93h0M343.26 340.48h0M351.75 326.71h0M354.82 326.54h0M348.52 342.13h0M353.9 338.82h0M344.6 333.78h0M348.41 341.79h0M357.11 332.66h0M357.02 330.48h0M352.2 339.68h0M356.72 332.27h0M349.31 341h0M349.89 329.04h0M344.94 335.98h0M354.81 329.21h0M352.24 338.71h0M345.95 339.4h0M345.21 337.32h0M355.28 334.45h0" stroke="#98aed4" stroke-width="0.84" stroke-linecap="round"/>
<path d="M356.22 338.61h0M343.75 331.85h0M357.96 333.6h0M344.44 341.32h0M356.89 328.28h0M345.23 332.36h0M354.41 337.78h0M355.89 328.4h0M356.88 330.23h0M344.77 334.31h0M345.02 333.78h0M344.24 336.47h0M344.51 337.53h0M355.25 335.44h0M345.34 338.88h0M354.43 328.9h0M345.15 336.45h0M354.44 336.17h0M349.37 340.05h0" stroke="#b0c2e2" stroke-width="0.84" stroke-linecap="round"/>
<path d="M373.35 311.6h0M369.19 307.82h0M352.63 326.13h0M354.45 323.01h0M372.15 312.33h0M356.58 325.12h0M360.8 327.01h0M358.92 324.89h0M359.8 326.01h0M368.63 313.09h0M363.67 318.58h0M367.97 317.98h0M369.13 314.42h0M366.78 315.64h0M358.44 328.91h0M361.82 317.75h0M364.81 314.03h0M364.29 319.55h0M360.29 316.9h0M369.54 309.58h0M354.48 330.15h0M357.54 323.22h0M361.3 315.61h0M360.33 317.28h0M360.35 319.82h0" stroke="#b0c4e8" stroke-width="0.84" stroke-linecap="round"/>
<path d="M362.46 320.82h0M365.3 321.5h0M365.21 326.52h0M357.15 328.54h0M371.49 318.72h0M371.6 312.03h0M367.32 317.48h0M366.89 322.73h0M370.95 309.47h0M362.46 316.23h0M359.46 320.37h0M368.95 309.8h0M356.6 329.38h0M366.54 316.76h0M361.16 321.86h0M361.43 320.81h0M365.87 324.01h0M361.57 324.66h0M355.73 327.79h0M362.72 324.92h0M364 319.27h0" stroke="#bccfee" stroke-width="0.84" stroke-linecap="round"/>
<path d="M358.28 326.39h0M357.43 327.75h0M367.91 314.06h0M373.45 310.86h0M363.03 320.21h0M356.88 319.39h0M357.79 323.95h0M361.81 322.92h0M361.04 320.07h0M364.62 318.95h0M369.02 313.46h0M365.76 313.49h0M368.3 315.16h0M353.44 328.21h0M356.58 326.68h0M371.9 306.9h0M352.43 326.77h0M353.01 326.77h0M365.39 319.2h0M367.12 310.79h0M357.36 329.01h0M357.17 325.1h0M358.34 323.13h0M355.75 325.14h0M356.14 324.93h0M373.47 318.68h0" stroke="#a4bae2" stroke-width="0.84" stroke-linecap="round"/>
<path d="M362.77 318.64h0M373.95 304.51h0M358.32 328.37h0M360.44 322.21h0M369.91 319.14h0M366.28 309.2h0M354.84 325.39h0M362.85 321.81h0M355.74 323.71h0M370.11 311.56h0M365.29 321.01h0M371.93 317.17h0M362.34 320.06h0M367.25 316.2h0M361 314.1h0M368.58 310.99h0M358.6 323.26h0M373.39 311.2h0M363.42 316.63h0" stroke="#c8d6f0" stroke-width="0.84" stroke-linecap="round"/>
<path d="M369.23 312.66h0M371.09 316.28h0M359.5 325.67h0M359.08 326.07h0M358.11 325.73h0M366.03 319.59h0M359.12 323.32h0M357.1 331.98h0M359.35 321.46h0M371.4 313.25h0M361.14 321.93h0M355.42 327h0M357.61 327.35h0M353.32 326.84h0M365.05 321h0M370.9 309.55h0M370.97 309.52h0M363.51 316.9h0M367.72 312.33h0" stroke="#98b0dc" stroke-width="0.84" stroke-linecap="round"/>
<path d="M354.84 335.23h0M353.35 329.04h0M346.08 334.77h0M350.9 338.84h0M347.03 333.17h0M354.78 334.05h0M353.3 336.57h0M351.95 329.81h0M349.25 331.15h0M354.34 333.97h0M353.9 330.79h0M349.14 338.8h0M353.75 335.16h0M346.93 337.68h0M346.7 336.48h0M347.14 334.34h0M348.01 332.92h0M354.07 331.87h0M351.18 337.68h0M351.24 337.62h0M352.23 330.58h0" stroke="#5a88c4" stroke-width="0.84" stroke-linecap="round"/>
<path d="M347.44 331.86h0M348.82 330.85h0M355.18 333.21h0M354.98 333.97h0M349.9 330.22h0M346.77 339.04h0M345.83 337.09h0M354.13 330.09h0M354.62 330.66h0M349.4 339.31h0M353.09 336.93h0M346.42 334.62h0M349.56 330.7h0M347.19 338.55h0M348.15 332.36h0M346.87 337.95h0M354.21 331.55h0M346.73 335.43h0M346.65 336.59h0M346.75 335.46h0M352.32 330.45h0M351.82 330.57h0" stroke="#5080b8" stroke-width="0.84" stroke-linecap="round"/>
<path d="M348.45 339.95h0M352.48 329.22h0M347.45 339.64h0M354.67 330.46h0M353.2 329.66h0M346.35 337.88h0M351.5 338.14h0M346.88 338.29h0M354.62 331.81h0M346.73 338.03h0M346.4 337h0M349 331.46h0M354.13 331.06h0M346.55 336.02h0M351.86 337.47h0M350.99 337.86h0M349.16 331.81h0" stroke="#6a98b0" stroke-width="0.84" stroke-linecap="round"/>
<path d="M353.09 329.38h0M349.02 330.82h0M346.46 338.4h0M354.74 331.08h0M353.84 335.7h0M353.48 336.01h0M352.81 336.74h0M354.49 331.89h0M348.31 338.84h0M349.29 338.77h0M347.68 333.14h0M354.3 333.26h0M346.67 336.25h0M353.93 334.24h0" stroke="#6a94cc" stroke-width="0.84" stroke-linecap="round"/>
<path d="M347.03 337.05h0M346.97 336.75h0M348.74 338.34h0M352.76 336.09h0M348.51 338.23h0M353.97 333.18h0M353.76 331.83h0M353.81 333.26h0M347.86 337.67h0M351.47 330.98h0M347.38 336.45h0M347.49 336.64h0M352.85 331.5h0M351.62 336.68h0M353.21 332.07h0M349.98 337.57h0" stroke="#5aa070" stroke-width="0.84" stroke-linecap="round"/>
<path d="M351.03 330.8h0M347.27 337.48h0M353.72 331.69h0M350.17 338.01h0M350.17 331.31h0M349.27 338.15h0M347.54 337.5h0M352.27 336.39h0M349.55 331.86h0M352.44 336.1h0M353.03 331.66h0M349.29 332.35h0M353.18 334.47h0M353.42 333.34h0" stroke="#4ca888" stroke-width="0.84" stroke-linecap="round"/>
<path d="M351.92 336.97h0M353.73 334.15h0M347.46 334.35h0M348.01 337.96h0M348.67 332.65h0M353 335.16h0M349.62 332.07h0" stroke="#3a9a9a" stroke-width="0.84" stroke-linecap="round"/>
<path d="M352.76 335.16h0M348.98 332.88h0M352.06 336.06h0M353.26 333.75h0M348.65 337.25h0M352.57 335.15h0M353.07 333.17h0M349 337.19h0M349.62 332.61h0" stroke="#5aa070" stroke-width="0.84" stroke-linecap="round"/>
<path d="M353.3 333.77h0M353.33 333.52h0M352.28 335.82h0M348.03 336.99h0M350.46 337.21h0M352.2 335.7h0M352.01 335.9h0M349.86 337.28h0M349.16 333.01h0M352.84 333.89h0M349.43 332.95h0M348.22 334.97h0M348.57 334.13h0" stroke="#4ca888" stroke-width="0.84" stroke-linecap="round"/>
<path d="M348.27 337.2h0M349.16 332.72h0M350.96 331.6h0M353.13 334.06h0M348.71 333.35h0M351.17 336.61h0M348.41 334.02h0M347.97 335.86h0M351.39 331.79h0M351.57 331.94h0M351.9 335.68h0" stroke="#3a9a9a" stroke-width="0.84" stroke-linecap="round"/>
<path d="M352.7 332.83h0M352.66 333.24h0M348.39 335.25h0M348.73 336.44h0M349.24 333.56h0M350.44 336.48h0M352.16 332.75h0M351.55 332.48h0" stroke="#78b858" stroke-width="0.84" stroke-linecap="round"/>
<path d="M348.23 335.74h0M350.65 332.25h0M348.33 335.04h0M352.39 334.57h0M351.14 336.18h0M349.48 333.18h0M351.39 335.89h0M350.2 336.56h0M349.89 333.07h0M352.01 334.84h0" stroke="#a8c048" stroke-width="0.84" stroke-linecap="round"/>
<path d="M351.5 332.11h0M352.4 334.61h0M349.54 336.81h0M350.77 336.43h0M352.23 334.78h0M350.5 332.55h0M348.89 336.38h0M349.83 333.02h0M350.25 332.74h0M351.82 332.6h0M352.1 332.98h0" stroke="#c0c040" stroke-width="0.84" stroke-linecap="round"/>
<path d="M348.92 335.9h0M350.61 332.87h0M351.39 332.91h0M350.08 333.31h0M350.94 333.06h0M351.84 333.81h0" stroke="#c0c040" stroke-width="0.84" stroke-linecap="round"/>
<path d="M349 334.5h0M348.9 334.89h0M350.59 332.87h0M352.06 333.38h0M352.1 333.77h0M351.23 335.53h0M349.4 333.93h0M349.21 334.51h0M350.26 335.94h0M350.31 335.88h0M351.29 335.17h0" stroke="#a8c048" stroke-width="0.84" stroke-linecap="round"/>
<path d="M349.87 333.32h0M349.11 336h0M350.21 333.08h0M350.45 335.98h0M350.12 333.37h0" stroke="#78b858" stroke-width="0.84" stroke-linecap="round"/>
<path d="M351.63 333.42h0M349.78 334.13h0M349.65 335.32h0M350.22 333.78h0M350.45 333.64h0M350.1 333.92h0M349.73 334.61h0M350.52 335.24h0M351.07 334.4h0M350.58 334.31h0" stroke="#d8b838" stroke-width="0.84" stroke-linecap="round"/>
<path d="M351.74 334.13h0M351.24 334.16h0M349.98 334.46h0" stroke="#e6c040" stroke-width="0.84" stroke-linecap="round"/>
<path d="M351.28 334.98h0M351.31 333.96h0M349.86 334.96h0M350.83 334.53h0M350.57 334.57h0" stroke="#e0a030" stroke-width="0.84" stroke-linecap="round"/>
<path d="M429.03 341.01h0M423.01 344.17h0M415.35 338.3h0M415.51 338.75h0M430.96 331.15h0M426.3 327.8h0M416.64 340.32h0M418.93 332.27h0M421.34 342.77h0M422.28 329.59h0M424.02 341.71h0M418.64 341.84h0M426.67 339.38h0M422.6 341.76h0M429.54 332.86h0M421.18 341.82h0M424.03 329.54h0M417.97 339.25h0M426.73 338.71h0M421.76 330.93h0M428.87 334.43h0M428.93 333.28h0M424.99 339.66h0M428.46 334.15h0M426.07 330.22h0M428.08 335.18h0M424.26 339.75h0M428 334.81h0M426.5 337.73h0M420.18 340.12h0M424.75 330.77h0" stroke="#b0c2e2" stroke-width="0.84" stroke-linecap="round"/>
<path d="M422.61 326.44h0M426.63 325.24h0M425.41 326.21h0M429.58 327.14h0M415.68 341.35h0M418.53 343.91h0M430.8 329.99h0M424.43 342.58h0M429.13 328.03h0M426.3 341.04h0M423.63 328.59h0M429.42 336.2h0M416.94 337.58h0M423.47 341.93h0M422.04 341.99h0M428.74 330.11h0M427.99 337.61h0M428.99 334.92h0M422.41 330.46h0M418.6 340.23h0M429.06 333.1h0M420.54 341.36h0M421.28 341.34h0M420.5 332.37h0M425.9 339.15h0M423.31 330.4h0M418.47 337.91h0M428.43 333.7h0M427.53 331.21h0M424.61 330.46h0M423.7 330.74h0M420.06 333.95h0M428.02 334.13h0M427.88 332.47h0M424.22 339.52h0M423.12 340.03h0M419.08 337.68h0" stroke="#a4b8dc" stroke-width="0.84" stroke-linecap="round"/>
<path d="M421 327.76h0M415.1 337.22h0M430.88 336.3h0M422.91 343.75h0M420.65 344.12h0M423.16 327.79h0M425.34 327.37h0M425.39 341.94h0M426.2 341.13h0M419.01 343.02h0M424.36 342.12h0M430.11 330.79h0M417.84 341.55h0M420.57 330.79h0M425.29 328.52h0M426.46 328.73h0M418.15 334.77h0M419.58 332.53h0M429.53 332.64h0M421.84 330.6h0M428.92 330.81h0M427.08 338.17h0M423.3 330.11h0M422.45 341.14h0M420.13 333.08h0M420.48 332.74h0M424.9 330.12h0M425.77 330.2h0M426.87 330.62h0M423.33 330.86h0M420.87 332.7h0M423.86 340.02h0M427.09 330.89h0M426.23 338.14h0M421.15 332.69h0M427.4 335.85h0" stroke="#98aed4" stroke-width="0.84" stroke-linecap="round"/>
<path d="M432.49 321.31h0M438.04 317.05h0M433.62 321.52h0M434.14 325.62h0M444.97 314.55h0M447.9 305.21h0M435 316.32h0M430.24 323.45h0M451.64 310.06h0M448.43 303.47h0M438.42 314.17h0M445.74 306.32h0M428.52 327.71h0M437.91 316.51h0M434.97 321.74h0M447.64 303.92h0M433.47 320.96h0M432.34 318.22h0M443.29 310.76h0M445.23 315.48h0M445.27 306.17h0M442.76 307.02h0M445.34 301.75h0M431.33 320.4h0M436 323.68h0M435.29 314.26h0" stroke="#b0c4e8" stroke-width="0.84" stroke-linecap="round"/>
<path d="M428.67 329.56h0M423.52 328.02h0M439.07 318.24h0M434.35 329.91h0M425.76 328.85h0M429.02 330.57h0M443.57 320.21h0M426.93 326.45h0M434.49 316.87h0M445.32 312.12h0M439.03 310.95h0M444.93 308.22h0M430.73 323.13h0M435.57 317.55h0M436.38 319.38h0M423.13 327.03h0M429.88 332.22h0M447.71 302.21h0M445.25 307.29h0M436.55 325.39h0M438.91 312.76h0M429.16 320.15h0M431.4 326.95h0M429.57 326.28h0M428.14 324.05h0M443.28 313.08h0M432.77 326.97h0M432.08 327.23h0M440.41 316.72h0M431.9 332.55h0M433.33 314.67h0M433.1 328.55h0M446.15 309.45h0M446.58 308.88h0" stroke="#c8d6f0" stroke-width="0.84" stroke-linecap="round"/>
<path d="M427.65 329.48h0M432.39 320.6h0M435.33 319.79h0M442.03 308.82h0M430.88 327.32h0M428.58 324.92h0M436.86 319.66h0M451.47 306.21h0M448.15 304.9h0M437.41 320.47h0M433.36 321.34h0M428.14 327.47h0M448.11 304.53h0M428.08 328.62h0M435.65 321.46h0M436.56 322.05h0M426.72 324.19h0M436.53 327.13h0M437.25 320.25h0M441.31 315.75h0M451.66 306h0M443.22 311.78h0M439.73 309.94h0M433.48 325.78h0M431.41 319.45h0" stroke="#bccfee" stroke-width="0.84" stroke-linecap="round"/>
<path d="M431.67 321.46h0M428.05 326.13h0M446.86 305.85h0M438.16 311.49h0M441.92 313.73h0M443.27 319.53h0M440.1 314.57h0M425.55 329.66h0M427.76 324.71h0M431.55 321.01h0M440.19 310.27h0M437.41 315.4h0M433.69 329.38h0M427.68 326.44h0M430.67 322.33h0M440.08 320.29h0M446.47 304.74h0M433.55 324.78h0M442.4 319.17h0" stroke="#a4bae2" stroke-width="0.84" stroke-linecap="round"/>
<path d="M444.82 307.73h0M435.35 329.12h0M436.19 317.29h0M437.6 322.08h0M449.22 306.67h0M435.36 309.64h0M435.21 329.51h0M428.17 323.09h0M438.4 319.23h0M442.78 306.77h0M445.4 309.29h0M442.34 315.56h0M438.58 319.93h0M444.18 309.52h0M432.42 327.03h0M442.39 320.36h0M434.3 320.02h0M437.37 317.7h0M431.38 321.37h0M438.38 309.96h0M424.73 328.22h0M435.73 318.95h0M431 326.41h0M432.7 316.31h0M434.38 322.57h0M430.84 325.1h0" stroke="#98b0dc" stroke-width="0.84" stroke-linecap="round"/>
<path d="M419.93 334.56h0M420.02 334.56h0M427.07 336.19h0M419.93 335.14h0M422.61 339.75h0M424.07 339.16h0M422.65 332.14h0M423.44 331.82h0M426.95 332.65h0M421.35 333.45h0M420.42 334.88h0M422.63 332.55h0M421.57 339.12h0M420.56 335.59h0" stroke="#6a94cc" stroke-width="0.84" stroke-linecap="round"/>
<path d="M425.96 337.97h0M419.5 338.69h0M423.43 331.61h0M422.77 339.57h0M424.65 331.36h0M420.74 334.43h0M425.36 331.69h0M426.76 332.8h0M422.46 339.12h0M420.32 337.91h0M426.76 334.44h0" stroke="#6a98b0" stroke-width="0.84" stroke-linecap="round"/>
<path d="M420.41 339.82h0M419.25 337.79h0M424.64 330.99h0M426.4 331.82h0M419.69 337.08h0M421.2 339.41h0M426.97 335.39h0M422.45 339.42h0M420.21 337.03h0M426.61 333.35h0" stroke="#5a88c4" stroke-width="0.84" stroke-linecap="round"/>
<path d="M419.55 335.68h0M422.4 331.95h0M421.2 339.97h0M420.51 334.07h0M426.83 332.02h0M420.19 336.17h0M420.29 335.86h0M422.46 339.08h0M422.71 339.03h0M425.82 332.16h0" stroke="#5080b8" stroke-width="0.84" stroke-linecap="round"/>
<path d="M422.82 338.64h0M426.28 335.34h0M420.58 336.42h0M424.81 337.52h0M420.81 335.58h0M423.68 332.64h0M422.5 333.4h0M420.99 337.21h0M421.07 335.68h0M423.28 338.12h0M425.83 333.63h0" stroke="#3a9a9a" stroke-width="0.84" stroke-linecap="round"/>
<path d="M424.18 332.38h0M424.7 332.41h0M420.74 337.44h0M420.69 337.11h0M425.31 336.77h0M422.58 338.44h0M425.11 336.89h0M426.02 333.63h0M425.93 335.46h0M425.64 335.9h0M425.08 332.89h0M425.48 333.23h0M421.86 334.42h0" stroke="#5aa070" stroke-width="0.84" stroke-linecap="round"/>
<path d="M420.56 336.78h0M426.01 332.99h0M420.68 336.82h0M421.31 334.89h0M421.38 334.89h0M424.1 332.76h0M421.07 337.26h0M425.2 336.59h0" stroke="#4ca888" stroke-width="0.84" stroke-linecap="round"/>
<path d="M424.48 337.27h0M424.91 336.78h0M421.63 337.71h0M421.52 336.45h0" stroke="#4ca888" stroke-width="0.84" stroke-linecap="round"/>
<path d="M421.25 335.59h0M425.18 336.49h0M425.49 335.97h0M423.26 337.73h0M421.47 336.75h0" stroke="#3a9a9a" stroke-width="0.84" stroke-linecap="round"/>
<path d="M421.88 337.87h0M421.38 335.5h0M423.03 337.88h0M421.87 334.7h0M425.32 333.58h0M421.68 335.14h0M424.48 336.89h0M422.93 333.87h0M422.13 334.7h0" stroke="#5aa070" stroke-width="0.84" stroke-linecap="round"/>
<path d="M424.96 333.65h0M423.71 333.65h0M421.88 336.96h0M422.8 337.31h0M425.01 335.25h0" stroke="#78b858" stroke-width="0.84" stroke-linecap="round"/>
<path d="M422.14 337.34h0M424.27 333.57h0M421.86 335.52h0M423.7 333.76h0" stroke="#c0c040" stroke-width="0.84" stroke-linecap="round"/>
<path d="M423.31 333.86h0M421.86 336.38h0" stroke="#a8c048" stroke-width="0.84" stroke-linecap="round"/>
<path d="M422.08 336.38h0M423.27 336.76h0" stroke="#c0c040" stroke-width="0.84" stroke-linecap="round"/>
<path d="M424.43 335.94h0M423.01 336.8h0M424.57 334.6h0" stroke="#a8c048" stroke-width="0.84" stroke-linecap="round"/>
<path d="M423.39 336.7h0M424.63 334.76h0" stroke="#78b858" stroke-width="0.84" stroke-linecap="round"/>
<path d="M422.62 336.48h0M424.43 335.49h0M422.61 336.04h0M423.83 335.91h0M423.49 335.98h0M423.81 335.08h0" stroke="#e0a030" stroke-width="0.84" stroke-linecap="round"/>
<path d="M422.54 335.81h0M423.02 336.42h0M423.25 335.08h0M423.54 335h0" stroke="#e6c040" stroke-width="0.84" stroke-linecap="round"/>
<path d="M423.3 335.02h0M423.2 336h0" stroke="#d8b838" stroke-width="0.84" stroke-linecap="round"/>
<rect x="202" y="296" width="53.4" height="52.8" fill="none" stroke="#111" stroke-width="0.9"/>
<line x1="216.5" y1="296" x2="216.5" y2="348.8" stroke="#222" stroke-width="0.8"/>
<line x1="202" y1="330.3" x2="255.4" y2="330.3" stroke="#222" stroke-width="0.8"/>
<text x="197.7" y="303.8" font-size="6.4" text-anchor="end" fill="#222">10<tspan dy="-2.5" font-size="4.42">5</tspan></text>
<text x="197.7" y="315.5" font-size="6.4" text-anchor="end" fill="#222">10<tspan dy="-2.5" font-size="4.42">4</tspan></text>
<text x="197.7" y="328.5" font-size="6.4" text-anchor="end" fill="#222">10<tspan dy="-2.5" font-size="4.42">3</tspan></text>
<text x="197.7" y="341.1" font-size="6.4" text-anchor="end" fill="#222">0</text>
<text x="204.3" y="358.5" font-size="6.4" text-anchor="middle" fill="#222">0</text>
<text x="213.6" y="358.5" font-size="6.4" text-anchor="middle" fill="#222">10<tspan dy="-2.5" font-size="4.55">2</tspan></text>
<text x="224.6" y="358.5" font-size="6.4" text-anchor="middle" fill="#222">10<tspan dy="-2.5" font-size="4.55">3</tspan></text>
<text x="237.3" y="358.5" font-size="6.4" text-anchor="middle" fill="#222">10<tspan dy="-2.5" font-size="4.55">4</tspan></text>
<text x="250" y="358.5" font-size="6.4" text-anchor="middle" fill="#222">10<tspan dy="-2.5" font-size="4.55">5</tspan></text>
<text x="228.8" y="290.2" font-size="9.6" text-anchor="middle" fill="#222">Day1</text>
<text x="202.9" y="347.3" font-size="6" fill="#222">85.8</text>
<rect x="270.8" y="296" width="53.4" height="52.8" fill="none" stroke="#111" stroke-width="0.9"/>
<line x1="286" y1="296" x2="286" y2="348.8" stroke="#222" stroke-width="0.8"/>
<line x1="270.8" y1="330.3" x2="324.2" y2="330.3" stroke="#222" stroke-width="0.8"/>
<text x="266.5" y="303.8" font-size="6.4" text-anchor="end" fill="#222">10<tspan dy="-2.5" font-size="4.42">5</tspan></text>
<text x="266.5" y="315.5" font-size="6.4" text-anchor="end" fill="#222">10<tspan dy="-2.5" font-size="4.42">4</tspan></text>
<text x="266.5" y="328.5" font-size="6.4" text-anchor="end" fill="#222">10<tspan dy="-2.5" font-size="4.42">3</tspan></text>
<text x="266.5" y="341.1" font-size="6.4" text-anchor="end" fill="#222">0</text>
<text x="273.1" y="358.5" font-size="6.4" text-anchor="middle" fill="#222">0</text>
<text x="282.4" y="358.5" font-size="6.4" text-anchor="middle" fill="#222">10<tspan dy="-2.5" font-size="4.55">2</tspan></text>
<text x="293.4" y="358.5" font-size="6.4" text-anchor="middle" fill="#222">10<tspan dy="-2.5" font-size="4.55">3</tspan></text>
<text x="306.1" y="358.5" font-size="6.4" text-anchor="middle" fill="#222">10<tspan dy="-2.5" font-size="4.55">4</tspan></text>
<text x="318.8" y="358.5" font-size="6.4" text-anchor="middle" fill="#222">10<tspan dy="-2.5" font-size="4.55">5</tspan></text>
<text x="297" y="290.2" font-size="9.6" text-anchor="middle" fill="#222">3</text>
<text x="271.7" y="347.3" font-size="6" fill="#222">84.7</text>
<rect x="341.3" y="296" width="53.4" height="52.8" fill="none" stroke="#111" stroke-width="0.9"/>
<line x1="357.4" y1="296" x2="357.4" y2="348.8" stroke="#222" stroke-width="0.8"/>
<line x1="341.3" y1="330" x2="394.7" y2="330" stroke="#222" stroke-width="0.8"/>
<text x="337" y="303.8" font-size="6.4" text-anchor="end" fill="#222">10<tspan dy="-2.5" font-size="4.42">5</tspan></text>
<text x="337" y="315.5" font-size="6.4" text-anchor="end" fill="#222">10<tspan dy="-2.5" font-size="4.42">4</tspan></text>
<text x="337" y="328.5" font-size="6.4" text-anchor="end" fill="#222">10<tspan dy="-2.5" font-size="4.42">3</tspan></text>
<text x="337" y="341.1" font-size="6.4" text-anchor="end" fill="#222">0</text>
<text x="343.6" y="358.5" font-size="6.4" text-anchor="middle" fill="#222">0</text>
<text x="352.9" y="358.5" font-size="6.4" text-anchor="middle" fill="#222">10<tspan dy="-2.5" font-size="4.55">2</tspan></text>
<text x="363.9" y="358.5" font-size="6.4" text-anchor="middle" fill="#222">10<tspan dy="-2.5" font-size="4.55">3</tspan></text>
<text x="376.6" y="358.5" font-size="6.4" text-anchor="middle" fill="#222">10<tspan dy="-2.5" font-size="4.55">4</tspan></text>
<text x="389.3" y="358.5" font-size="6.4" text-anchor="middle" fill="#222">10<tspan dy="-2.5" font-size="4.55">5</tspan></text>
<text x="367.5" y="290.2" font-size="9.6" text-anchor="middle" fill="#222">4</text>
<text x="342.2" y="347.3" font-size="6" fill="#222">55.5</text>
<rect x="414.2" y="296" width="53.4" height="52.8" fill="none" stroke="#111" stroke-width="0.9"/>
<line x1="429.5" y1="296" x2="429.5" y2="348.8" stroke="#222" stroke-width="0.8"/>
<line x1="414.2" y1="330" x2="467.6" y2="330" stroke="#222" stroke-width="0.8"/>
<text x="409.9" y="303.8" font-size="6.4" text-anchor="end" fill="#222">10<tspan dy="-2.5" font-size="4.42">5</tspan></text>
<text x="409.9" y="315.5" font-size="6.4" text-anchor="end" fill="#222">10<tspan dy="-2.5" font-size="4.42">4</tspan></text>
<text x="409.9" y="328.5" font-size="6.4" text-anchor="end" fill="#222">10<tspan dy="-2.5" font-size="4.42">3</tspan></text>
<text x="409.9" y="341.1" font-size="6.4" text-anchor="end" fill="#222">0</text>
<text x="416.5" y="358.5" font-size="6.4" text-anchor="middle" fill="#222">0</text>
<text x="425.8" y="358.5" font-size="6.4" text-anchor="middle" fill="#222">10<tspan dy="-2.5" font-size="4.55">2</tspan></text>
<text x="436.8" y="358.5" font-size="6.4" text-anchor="middle" fill="#222">10<tspan dy="-2.5" font-size="4.55">3</tspan></text>
<text x="449.5" y="358.5" font-size="6.4" text-anchor="middle" fill="#222">10<tspan dy="-2.5" font-size="4.55">4</tspan></text>
<text x="462.2" y="358.5" font-size="6.4" text-anchor="middle" fill="#222">10<tspan dy="-2.5" font-size="4.55">5</tspan></text>
<text x="440.2" y="290.2" font-size="9.6" text-anchor="middle" fill="#222">6</text>
<text x="415.1" y="347.3" font-size="6" fill="#222">40.6</text>
<text x="181.9" y="339" font-size="9" text-anchor="middle" fill="#222" textLength="21.9" lengthAdjust="spacingAndGlyphs" transform="rotate(-90 181.9 339)">CD11b</text>
<text x="201.8" y="372" font-size="9.2" fill="#222" textLength="17.7" lengthAdjust="spacingAndGlyphs">CD14</text>
<text x="7.4" y="408" font-size="12.2" font-weight="bold" fill="#000" textLength="9.2" lengthAdjust="spacingAndGlyphs">D</text>
<rect x="19" y="425.4" width="33.6" height="5.3" fill="url(#hbar)" stroke="#111" stroke-width="0.7"/>
<text x="20.3" y="437.6" font-size="6.8" text-anchor="middle" fill="#222">0</text>
<text x="51" y="437.6" font-size="6.8" text-anchor="middle" fill="#222">3</text>
<text x="35.2" y="422.2" font-size="6.9" fill="#3a5aa8" transform="rotate(-45 35.2 422.2)">HPC</text>
<rect x="58.2" y="425.4" width="34.6" height="5.3" fill="url(#hbar)" stroke="#111" stroke-width="0.7"/>
<text x="59.5" y="437.6" font-size="6.8" text-anchor="middle" fill="#222">0</text>
<text x="91.2" y="437.6" font-size="6.8" text-anchor="middle" fill="#222">3</text>
<text x="74.9" y="422.2" font-size="6.9" fill="#c8203c" transform="rotate(-45 74.9 422.2)">Erythroid</text>
<rect x="98.3" y="425.4" width="34.1" height="5.3" fill="url(#hbar)" stroke="#111" stroke-width="0.7"/>
<text x="99.6" y="437.6" font-size="6.8" text-anchor="middle" fill="#222">0</text>
<text x="130.8" y="437.6" font-size="6.8" text-anchor="middle" fill="#222">3</text>
<text x="114.75" y="422.2" font-size="6.9" fill="#5a2a90" transform="rotate(-45 114.75 422.2)">Myeloid</text>
<rect x="19" y="440.1" width="33.6" height="17.1" fill="#fdf3f3"/>
<rect x="19" y="440.1" width="33.6" height="17.1" filter="url(#noise)" opacity="0.55"/>
<rect x="32.8" y="440.6" width="6" height="1" fill="url(#strp)" opacity="0.34"/>
<rect x="32.8" y="441.6" width="6" height="2" fill="url(#strp)" opacity="0.28"/>
<rect x="32.8" y="443.6" width="6" height="1" fill="url(#strp)" opacity="0.28"/>
<rect x="32.8" y="444.6" width="6" height="1" fill="url(#strp)" opacity="0.36"/>
<rect x="32.8" y="445.6" width="6" height="1" fill="url(#strp)" opacity="0.28"/>
<rect x="32.8" y="446.6" width="6" height="1" fill="url(#strp)" opacity="0.38"/>
<rect x="32.8" y="447.6" width="6" height="1" fill="url(#strp)" opacity="0.3"/>
<rect x="32.8" y="448.6" width="6" height="2" fill="url(#strp)" opacity="0.35"/>
<rect x="32.8" y="450.6" width="6" height="1" fill="url(#strp)" opacity="0.44"/>
<rect x="32.8" y="451.6" width="6" height="1" fill="url(#strp)" opacity="0.28"/>
<rect x="32.8" y="452.6" width="6" height="2" fill="url(#strp)" opacity="0.32"/>
<rect x="32.8" y="454.6" width="6" height="1" fill="url(#strp)" opacity="0.32"/>
<rect x="32.8" y="455.6" width="6" height="1.5" fill="url(#strp)" opacity="0.37"/>
<rect x="32.5" y="440.1" width="6.6" height="17.1" fill="#f07a80" opacity="0.13"/>
<rect x="19" y="440.1" width="33.6" height="17.1" fill="none" stroke="#1a1a1a" stroke-width="1.1" rx="0.8"/>
<rect x="19" y="460.2" width="33.6" height="58" fill="#fdf3f3"/>
<rect x="19" y="460.2" width="33.6" height="58" filter="url(#noise)" opacity="0.55"/>
<rect x="32.8" y="460.7" width="6" height="1" fill="url(#strp)" opacity="0.3"/>
<rect x="32.8" y="461.7" width="6" height="1" fill="url(#strp)" opacity="0.34"/>
<rect x="32.8" y="462.7" width="6" height="1" fill="url(#strp)" opacity="0.44"/>
<rect x="32.8" y="463.7" width="6" height="1" fill="url(#strp)" opacity="0.33"/>
<rect x="32.8" y="464.7" width="6" height="1" fill="url(#strp)" opacity="0.29"/>
<rect x="32.8" y="465.7" width="6" height="2" fill="url(#strp)" opacity="0.27"/>
<rect x="32.8" y="467.7" width="6" height="2" fill="url(#strp)" opacity="0.39"/>
<rect x="32.8" y="469.7" width="6" height="1" fill="url(#strp)" opacity="0.3"/>
<rect x="32.8" y="470.7" width="6" height="2" fill="url(#strp)" opacity="0.4"/>
<rect x="32.8" y="472.7" width="6" height="1" fill="url(#strp)" opacity="0.33"/>
<rect x="32.8" y="473.7" width="6" height="1" fill="url(#strp)" opacity="0.35"/>
<rect x="32.8" y="474.7" width="6" height="1.5" fill="url(#strp)" opacity="0.33"/>
<rect x="32.8" y="476.2" width="6" height="1.5" fill="url(#strp)" opacity="0.37"/>
<rect x="32.8" y="477.7" width="6" height="2" fill="url(#strp)" opacity="0.39"/>
<rect x="32.8" y="479.7" width="6" height="1.5" fill="url(#strp)" opacity="0.45"/>
<rect x="32.8" y="481.2" width="6" height="1" fill="url(#strp)" opacity="0.41"/>
<rect x="32.8" y="482.2" width="6" height="1.5" fill="url(#strp)" opacity="0.43"/>
<rect x="32.8" y="483.7" width="6" height="1.5" fill="url(#strp)" opacity="0.28"/>
<rect x="32.8" y="485.2" width="6" height="1" fill="url(#strp)" opacity="0.27"/>
<rect x="32.8" y="486.2" width="6" height="1.5" fill="url(#strp)" opacity="0.39"/>
<rect x="32.8" y="487.7" width="6" height="1" fill="url(#strp)" opacity="0.39"/>
<rect x="32.8" y="488.7" width="6" height="1.5" fill="url(#strp)" opacity="0.44"/>
<rect x="32.8" y="490.2" width="6" height="1" fill="url(#strp)" opacity="0.28"/>
<rect x="32.8" y="491.2" width="6" height="1" fill="url(#strp)" opacity="0.41"/>
<rect x="32.8" y="492.2" width="6" height="2" fill="url(#strp)" opacity="0.34"/>
<rect x="32.8" y="494.2" width="6" height="1" fill="url(#strp)" opacity="0.37"/>
<rect x="32.8" y="495.2" width="6" height="1" fill="url(#strp)" opacity="0.31"/>
<rect x="32.8" y="496.2" width="6" height="1" fill="url(#strp)" opacity="0.45"/>
<rect x="32.8" y="497.2" width="6" height="1" fill="url(#strp)" opacity="0.33"/>
<rect x="32.8" y="498.2" width="6" height="1" fill="url(#strp)" opacity="0.35"/>
<rect x="32.8" y="499.2" width="6" height="2" fill="url(#strp)" opacity="0.38"/>
<rect x="32.8" y="501.2" width="6" height="1.5" fill="url(#strp)" opacity="0.43"/>
<rect x="32.8" y="502.7" width="6" height="2" fill="url(#strp)" opacity="0.38"/>
<rect x="32.8" y="504.7" width="6" height="1" fill="url(#strp)" opacity="0.43"/>
<rect x="32.8" y="505.7" width="6" height="2" fill="url(#strp)" opacity="0.29"/>
<rect x="32.8" y="507.7" width="6" height="2" fill="url(#strp)" opacity="0.45"/>
<rect x="32.8" y="509.7" width="6" height="1" fill="url(#strp)" opacity="0.31"/>
<rect x="32.8" y="510.7" width="6" height="2" fill="url(#strp)" opacity="0.33"/>
<rect x="32.8" y="512.7" width="6" height="1" fill="url(#strp)" opacity="0.28"/>
<rect x="32.8" y="513.7" width="6" height="1.5" fill="url(#strp)" opacity="0.35"/>
<rect x="32.8" y="515.2" width="6" height="1" fill="url(#strp)" opacity="0.29"/>
<rect x="32.8" y="516.2" width="6" height="1" fill="url(#strp)" opacity="0.44"/>
<rect x="32.8" y="517.2" width="6" height="1" fill="url(#strp)" opacity="0.41"/>
<rect x="32.5" y="460.2" width="6.6" height="58" fill="#f07a80" opacity="0.13"/>
<rect x="19" y="460.2" width="33.6" height="58" fill="none" stroke="#1a1a1a" stroke-width="1.1" rx="0.8"/>
<rect x="19" y="521.7" width="33.6" height="124.6" fill="#fdf3f3"/>
<rect x="19" y="521.7" width="33.6" height="124.6" filter="url(#noise)" opacity="0.55"/>
<rect x="32.8" y="522.2" width="6" height="1.5" fill="url(#strp)" opacity="0.86"/>
<rect x="32.8" y="523.7" width="6" height="2" fill="url(#strp)" opacity="0.8"/>
<rect x="32.8" y="525.7" width="6" height="2" fill="url(#strp)" opacity="0.66"/>
<rect x="32.8" y="527.7" width="6" height="1" fill="url(#strp)" opacity="0.87"/>
<rect x="32.8" y="528.7" width="6" height="2" fill="url(#strp)" opacity="0.7"/>
<rect x="32.8" y="530.7" width="6" height="2" fill="url(#strp)" opacity="0.71"/>
<rect x="32.8" y="532.7" width="6" height="1.5" fill="url(#strp)" opacity="0.62"/>
<rect x="32.8" y="534.2" width="6" height="1.5" fill="url(#strp)" opacity="0.88"/>
<rect x="32.8" y="535.7" width="6" height="1.5" fill="url(#strp)" opacity="0.86"/>
<rect x="32.8" y="537.2" width="6" height="1" fill="url(#strp)" opacity="0.59"/>
<rect x="32.8" y="538.2" width="6" height="1" fill="url(#strp)" opacity="0.87"/>
<rect x="32.8" y="539.2" width="6" height="1" fill="url(#strp)" opacity="0.63"/>
<rect x="32.8" y="540.2" width="6" height="2" fill="url(#strp)" opacity="0.92"/>
<rect x="32.8" y="542.2" width="6" height="1" fill="url(#strp)" opacity="0.75"/>
<rect x="32.8" y="543.2" width="6" height="1.5" fill="url(#strp)" opacity="0.79"/>
<rect x="32.8" y="544.7" width="6" height="1" fill="url(#strp)" opacity="0.92"/>
<rect x="32.8" y="545.7" width="6" height="1.5" fill="url(#strp)" opacity="0.87"/>
<rect x="32.8" y="547.2" width="6" height="1" fill="url(#strp)" opacity="0.58"/>
<rect x="32.8" y="548.2" width="6" height="1.5" fill="url(#strp)" opacity="0.68"/>
<rect x="32.8" y="549.7" width="6" height="1" fill="url(#strp)" opacity="0.75"/>
<rect x="32.8" y="550.7" width="6" height="1.5" fill="url(#strp)" opacity="0.66"/>
<rect x="32.8" y="552.2" width="6" height="1" fill="url(#strp)" opacity="0.91"/>
<rect x="32.8" y="553.2" width="6" height="2" fill="url(#strp)" opacity="0.86"/>
<rect x="32.8" y="555.2" width="6" height="1" fill="url(#strp)" opacity="0.66"/>
<rect x="32.8" y="556.2" width="6" height="1.5" fill="url(#strp)" opacity="0.69"/>
<rect x="32.8" y="557.7" width="6" height="1.5" fill="url(#strp)" opacity="0.62"/>
<rect x="32.8" y="559.2" width="6" height="1" fill="url(#strp)" opacity="0.6"/>
<rect x="32.8" y="560.2" width="6" height="1" fill="url(#strp)" opacity="0.92"/>
<rect x="32.8" y="561.2" width="6" height="2" fill="url(#strp)" opacity="0.92"/>
<rect x="32.8" y="563.2" width="6" height="2" fill="url(#strp)" opacity="0.92"/>
<rect x="32.8" y="565.2" width="6" height="1.5" fill="url(#strp)" opacity="0.84"/>
<rect x="32.8" y="566.7" width="6" height="2" fill="url(#strp)" opacity="0.58"/>
<rect x="32.8" y="568.7" width="6" height="2" fill="url(#strp)" opacity="0.63"/>
<rect x="32.8" y="570.7" width="6" height="2" fill="url(#strp)" opacity="0.91"/>
<rect x="32.8" y="572.7" width="6" height="1" fill="url(#strp)" opacity="0.69"/>
<rect x="32.8" y="573.7" width="6" height="1.5" fill="url(#strp)" opacity="0.88"/>
<rect x="32.8" y="575.2" width="6" height="1.5" fill="url(#strp)" opacity="0.92"/>
<rect x="32.8" y="576.7" width="6" height="1" fill="url(#strp)" opacity="0.81"/>
<rect x="32.8" y="577.7" width="6" height="2" fill="url(#strp)" opacity="0.92"/>
<rect x="32.8" y="579.7" width="6" height="1" fill="url(#strp)" opacity="0.67"/>
<rect x="32.8" y="580.7" width="6" height="1" fill="url(#strp)" opacity="0.92"/>
<rect x="32.8" y="581.7" width="6" height="1.5" fill="url(#strp)" opacity="0.92"/>
<rect x="32.8" y="583.2" width="6" height="1" fill="url(#strp)" opacity="0.58"/>
<rect x="32.8" y="584.2" width="6" height="2" fill="url(#strp)" opacity="0.92"/>
<rect x="32.8" y="586.2" width="6" height="2" fill="url(#strp)" opacity="0.79"/>
<rect x="32.8" y="588.2" width="6" height="1.5" fill="url(#strp)" opacity="0.7"/>
<rect x="32.8" y="589.7" width="6" height="2" fill="url(#strp)" opacity="0.74"/>
<rect x="32.8" y="591.7" width="6" height="1" fill="url(#strp)" opacity="0.8"/>
<rect x="32.8" y="592.7" width="6" height="1" fill="url(#strp)" opacity="0.89"/>
<rect x="32.8" y="593.7" width="6" height="1" fill="url(#strp)" opacity="0.91"/>
<rect x="32.8" y="594.7" width="6" height="1" fill="url(#strp)" opacity="0.92"/>
<rect x="32.8" y="595.7" width="6" height="1" fill="url(#strp)" opacity="0.59"/>
<rect x="32.8" y="596.7" width="6" height="2" fill="url(#strp)" opacity="0.85"/>
<rect x="32.8" y="598.7" width="6" height="1.5" fill="url(#strp)" opacity="0.68"/>
<rect x="32.8" y="600.2" width="6" height="1" fill="url(#strp)" opacity="0.9"/>
<rect x="32.8" y="601.2" width="6" height="1" fill="url(#strp)" opacity="0.71"/>
<rect x="32.8" y="602.2" width="6" height="2" fill="url(#strp)" opacity="0.89"/>
<rect x="32.8" y="604.2" width="6" height="2" fill="url(#strp)" opacity="0.63"/>
<rect x="32.8" y="606.2" width="6" height="1" fill="url(#strp)" opacity="0.7"/>
<rect x="32.8" y="607.2" width="6" height="1" fill="url(#strp)" opacity="0.92"/>
<rect x="32.8" y="608.2" width="6" height="1" fill="url(#strp)" opacity="0.79"/>
<rect x="32.8" y="609.2" width="6" height="2" fill="url(#strp)" opacity="0.8"/>
<rect x="32.8" y="611.2" width="6" height="1" fill="url(#strp)" opacity="0.58"/>
<rect x="32.8" y="612.2" width="6" height="2" fill="url(#strp)" opacity="0.75"/>
<rect x="32.8" y="614.2" width="6" height="2" fill="url(#strp)" opacity="0.88"/>
<rect x="32.8" y="616.2" width="6" height="1" fill="url(#strp)" opacity="0.92"/>
<rect x="32.8" y="617.2" width="6" height="1.5" fill="url(#strp)" opacity="0.67"/>
<rect x="32.8" y="618.7" width="6" height="1" fill="url(#strp)" opacity="0.76"/>
<rect x="32.8" y="619.7" width="6" height="1.5" fill="url(#strp)" opacity="0.59"/>
<rect x="32.8" y="621.2" width="6" height="2" fill="url(#strp)" opacity="0.92"/>
<rect x="32.8" y="623.2" width="6" height="1.5" fill="url(#strp)" opacity="0.83"/>
<rect x="32.8" y="624.7" width="6" height="1" fill="url(#strp)" opacity="0.74"/>
<rect x="32.8" y="625.7" width="6" height="1" fill="url(#strp)" opacity="0.85"/>
<rect x="32.8" y="626.7" width="6" height="2" fill="url(#strp)" opacity="0.59"/>
<rect x="32.8" y="628.7" width="6" height="2" fill="url(#strp)" opacity="0.76"/>
<rect x="32.8" y="630.7" width="6" height="2" fill="url(#strp)" opacity="0.63"/>
<rect x="32.8" y="632.7" width="6" height="1.5" fill="url(#strp)" opacity="0.75"/>
<rect x="32.8" y="634.2" width="6" height="1.5" fill="url(#strp)" opacity="0.9"/>
<rect x="32.8" y="635.7" width="6" height="2" fill="url(#strp)" opacity="0.59"/>
<rect x="32.8" y="637.7" width="6" height="1.5" fill="url(#strp)" opacity="0.92"/>
<rect x="32.8" y="639.2" width="6" height="1" fill="url(#strp)" opacity="0.62"/>
<rect x="32.8" y="640.2" width="6" height="2" fill="url(#strp)" opacity="0.76"/>
<rect x="32.8" y="642.2" width="6" height="1.5" fill="url(#strp)" opacity="0.71"/>
<rect x="32.8" y="643.7" width="6" height="2" fill="url(#strp)" opacity="0.89"/>
<rect x="32.8" y="645.7" width="6" height="1.5" fill="url(#strp)" opacity="0.82"/>
<rect x="32.5" y="521.7" width="6.6" height="124.6" fill="#f07a80" opacity="0.24"/>
<rect x="19" y="521.7" width="33.6" height="124.6" fill="none" stroke="#1a1a1a" stroke-width="1.1" rx="0.8"/>
<rect x="58.2" y="440.1" width="34.6" height="17.1" fill="#fdf3f3"/>
<rect x="58.2" y="440.1" width="34.6" height="17.1" filter="url(#noise)" opacity="0.55"/>
<rect x="72.5" y="440.6" width="6" height="2" fill="url(#strp)" opacity="0.56"/>
<rect x="72.5" y="442.6" width="6" height="1" fill="url(#strp)" opacity="0.66"/>
<rect x="72.5" y="443.6" width="6" height="1.5" fill="url(#strp)" opacity="0.71"/>
<rect x="72.5" y="445.1" width="6" height="1" fill="url(#strp)" opacity="0.48"/>
<rect x="72.5" y="446.1" width="6" height="1" fill="url(#strp)" opacity="0.67"/>
<rect x="72.5" y="447.1" width="6" height="1.5" fill="url(#strp)" opacity="0.53"/>
<rect x="72.5" y="448.6" width="6" height="2" fill="url(#strp)" opacity="0.58"/>
<rect x="72.5" y="450.6" width="6" height="1" fill="url(#strp)" opacity="0.61"/>
<rect x="72.5" y="451.6" width="6" height="1.5" fill="url(#strp)" opacity="0.7"/>
<rect x="72.5" y="453.1" width="6" height="2" fill="url(#strp)" opacity="0.6"/>
<rect x="72.5" y="455.1" width="6" height="1" fill="url(#strp)" opacity="0.67"/>
<rect x="72.5" y="456.1" width="6" height="2" fill="url(#strp)" opacity="0.5"/>
<rect x="72.2" y="440.1" width="6.6" height="17.1" fill="#f07a80" opacity="0.2"/>
<rect x="58.2" y="440.1" width="34.6" height="17.1" fill="none" stroke="#1a1a1a" stroke-width="1.1" rx="0.8"/>
<rect x="58.2" y="460.2" width="34.6" height="58" fill="#fdf3f3"/>
<rect x="58.2" y="460.2" width="34.6" height="58" filter="url(#noise)" opacity="0.55"/>
<rect x="72.5" y="460.7" width="6" height="1.5" fill="url(#strp)" opacity="0.59"/>
<rect x="72.5" y="462.2" width="6" height="1.5" fill="url(#strp)" opacity="0.66"/>
<rect x="72.5" y="463.7" width="6" height="1.5" fill="url(#strp)" opacity="0.57"/>
<rect x="72.5" y="465.2" width="6" height="1.5" fill="url(#strp)" opacity="0.45"/>
<rect x="72.5" y="466.7" width="6" height="1" fill="url(#strp)" opacity="0.58"/>
<rect x="72.5" y="467.7" width="6" height="1" fill="url(#strp)" opacity="0.49"/>
<rect x="72.5" y="468.7" width="6" height="1.5" fill="url(#strp)" opacity="0.65"/>
<rect x="72.5" y="470.2" width="6" height="2" fill="url(#strp)" opacity="0.57"/>
<rect x="72.5" y="472.2" width="6" height="1.5" fill="url(#strp)" opacity="0.63"/>
<rect x="72.5" y="473.7" width="6" height="1" fill="url(#strp)" opacity="0.45"/>
<rect x="72.5" y="474.7" width="6" height="1" fill="url(#strp)" opacity="0.55"/>
<rect x="72.5" y="475.7" width="6" height="1" fill="url(#strp)" opacity="0.54"/>
<rect x="72.5" y="476.7" width="6" height="1" fill="url(#strp)" opacity="0.46"/>
<rect x="72.5" y="477.7" width="6" height="1" fill="url(#strp)" opacity="0.61"/>
<rect x="72.5" y="478.7" width="6" height="1.5" fill="url(#strp)" opacity="0.65"/>
<rect x="72.5" y="480.2" width="6" height="2" fill="url(#strp)" opacity="0.68"/>
<rect x="72.5" y="482.2" width="6" height="2" fill="url(#strp)" opacity="0.51"/>
<rect x="72.5" y="484.2" width="6" height="2" fill="url(#strp)" opacity="0.52"/>
<rect x="72.5" y="486.2" width="6" height="1" fill="url(#strp)" opacity="0.63"/>
<rect x="72.5" y="487.2" width="6" height="2" fill="url(#strp)" opacity="0.67"/>
<rect x="72.5" y="489.2" width="6" height="1" fill="url(#strp)" opacity="0.47"/>
<rect x="72.5" y="490.2" width="6" height="1" fill="url(#strp)" opacity="0.63"/>
<rect x="72.5" y="491.2" width="6" height="2" fill="url(#strp)" opacity="0.51"/>
<rect x="72.5" y="493.2" width="6" height="1" fill="url(#strp)" opacity="0.65"/>
<rect x="72.5" y="494.2" width="6" height="1" fill="url(#strp)" opacity="0.64"/>
<rect x="72.5" y="495.2" width="6" height="1.5" fill="url(#strp)" opacity="0.65"/>
<rect x="72.5" y="496.7" width="6" height="1" fill="url(#strp)" opacity="0.44"/>
<rect x="72.5" y="497.7" width="6" height="1" fill="url(#strp)" opacity="0.66"/>
<rect x="72.5" y="498.7" width="6" height="1.5" fill="url(#strp)" opacity="0.58"/>
<rect x="72.5" y="500.2" width="6" height="1" fill="url(#strp)" opacity="0.43"/>
<rect x="72.5" y="501.2" width="6" height="2" fill="url(#strp)" opacity="0.53"/>
<rect x="72.5" y="503.2" width="6" height="1" fill="url(#strp)" opacity="0.7"/>
<rect x="72.5" y="504.2" width="6" height="2" fill="url(#strp)" opacity="0.66"/>
<rect x="72.5" y="506.2" width="6" height="1" fill="url(#strp)" opacity="0.44"/>
<rect x="72.5" y="507.2" width="6" height="1" fill="url(#strp)" opacity="0.56"/>
<rect x="72.5" y="508.2" width="6" height="1" fill="url(#strp)" opacity="0.6"/>
<rect x="72.5" y="509.2" width="6" height="1.5" fill="url(#strp)" opacity="0.43"/>
<rect x="72.5" y="510.7" width="6" height="1" fill="url(#strp)" opacity="0.53"/>
<rect x="72.5" y="511.7" width="6" height="1.5" fill="url(#strp)" opacity="0.67"/>
<rect x="72.5" y="513.2" width="6" height="1" fill="url(#strp)" opacity="0.51"/>
<rect x="72.5" y="514.2" width="6" height="1" fill="url(#strp)" opacity="0.67"/>
<rect x="72.5" y="515.2" width="6" height="2" fill="url(#strp)" opacity="0.69"/>
<rect x="72.5" y="517.2" width="6" height="1.5" fill="url(#strp)" opacity="0.57"/>
<rect x="72.2" y="460.2" width="6.6" height="58" fill="#f07a80" opacity="0.18"/>
<rect x="58.2" y="460.2" width="34.6" height="58" fill="none" stroke="#1a1a1a" stroke-width="1.1" rx="0.8"/>
<rect x="58.2" y="521.7" width="34.6" height="124.6" fill="#fdf3f3"/>
<rect x="58.2" y="521.7" width="34.6" height="124.6" filter="url(#noise)" opacity="0.55"/>
<rect x="72.5" y="522.2" width="6" height="2" fill="url(#strp)" opacity="0.87"/>
<rect x="72.5" y="524.2" width="6" height="1" fill="url(#strp)" opacity="0.92"/>
<rect x="72.5" y="525.2" width="6" height="1" fill="url(#strp)" opacity="0.83"/>
<rect x="72.5" y="526.2" width="6" height="1" fill="url(#strp)" opacity="0.92"/>
<rect x="72.5" y="527.2" width="6" height="1" fill="url(#strp)" opacity="0.63"/>
<rect x="72.5" y="528.2" width="6" height="1" fill="url(#strp)" opacity="0.92"/>
<rect x="72.5" y="529.2" width="6" height="1.5" fill="url(#strp)" opacity="0.84"/>
<rect x="72.5" y="530.7" width="6" height="2" fill="url(#strp)" opacity="0.66"/>
<rect x="72.5" y="532.7" width="6" height="2" fill="url(#strp)" opacity="0.64"/>
<rect x="72.5" y="534.7" width="6" height="2" fill="url(#strp)" opacity="0.86"/>
<rect x="72.5" y="536.7" width="6" height="1" fill="url(#strp)" opacity="0.69"/>
<rect x="72.5" y="537.7" width="6" height="1.5" fill="url(#strp)" opacity="0.84"/>
<rect x="72.5" y="539.2" width="6" height="1.5" fill="url(#strp)" opacity="0.92"/>
<rect x="72.5" y="540.7" width="6" height="2" fill="url(#strp)" opacity="0.71"/>
<rect x="72.5" y="542.7" width="6" height="2" fill="url(#strp)" opacity="0.65"/>
<rect x="72.5" y="544.7" width="6" height="2" fill="url(#strp)" opacity="0.81"/>
<rect x="72.5" y="546.7" width="6" height="1" fill="url(#strp)" opacity="0.58"/>
<rect x="72.5" y="547.7" width="6" height="1.5" fill="url(#strp)" opacity="0.79"/>
<rect x="72.5" y="549.2" width="6" height="2" fill="url(#strp)" opacity="0.75"/>
<rect x="72.5" y="551.2" width="6" height="2" fill="url(#strp)" opacity="0.77"/>
<rect x="72.5" y="553.2" width="6" height="1" fill="url(#strp)" opacity="0.57"/>
<rect x="72.5" y="554.2" width="6" height="1" fill="url(#strp)" opacity="0.92"/>
<rect x="72.5" y="555.2" width="6" height="1.5" fill="url(#strp)" opacity="0.88"/>
<rect x="72.5" y="556.7" width="6" height="2" fill="url(#strp)" opacity="0.69"/>
<rect x="72.5" y="558.7" width="6" height="2" fill="url(#strp)" opacity="0.67"/>
<rect x="72.5" y="560.7" width="6" height="2" fill="url(#strp)" opacity="0.82"/>
<rect x="72.5" y="562.7" width="6" height="2" fill="url(#strp)" opacity="0.65"/>
<rect x="72.5" y="564.7" width="6" height="2" fill="url(#strp)" opacity="0.92"/>
<rect x="72.5" y="566.7" width="6" height="1" fill="url(#strp)" opacity="0.82"/>
<rect x="72.5" y="567.7" width="6" height="1.5" fill="url(#strp)" opacity="0.71"/>
<rect x="72.5" y="569.2" width="6" height="1.5" fill="url(#strp)" opacity="0.92"/>
<rect x="72.5" y="570.7" width="6" height="1" fill="url(#strp)" opacity="0.58"/>
<rect x="72.5" y="571.7" width="6" height="2" fill="url(#strp)" opacity="0.74"/>
<rect x="72.5" y="573.7" width="6" height="2" fill="url(#strp)" opacity="0.85"/>
<rect x="72.5" y="575.7" width="6" height="1" fill="url(#strp)" opacity="0.76"/>
<rect x="72.5" y="576.7" width="6" height="2" fill="url(#strp)" opacity="0.84"/>
<rect x="72.5" y="578.7" width="6" height="2" fill="url(#strp)" opacity="0.89"/>
<rect x="72.5" y="580.7" width="6" height="1" fill="url(#strp)" opacity="0.6"/>
<rect x="72.5" y="581.7" width="6" height="1.5" fill="url(#strp)" opacity="0.92"/>
<rect x="72.5" y="583.2" width="6" height="1.5" fill="url(#strp)" opacity="0.72"/>
<rect x="72.5" y="584.7" width="6" height="1" fill="url(#strp)" opacity="0.62"/>
<rect x="72.5" y="585.7" width="6" height="1.5" fill="url(#strp)" opacity="0.81"/>
<rect x="72.5" y="587.2" width="6" height="1" fill="url(#strp)" opacity="0.85"/>
<rect x="72.5" y="588.2" width="6" height="2" fill="url(#strp)" opacity="0.59"/>
<rect x="72.5" y="590.2" width="6" height="2" fill="url(#strp)" opacity="0.66"/>
<rect x="72.5" y="592.2" width="6" height="1" fill="url(#strp)" opacity="0.86"/>
<rect x="72.5" y="593.2" width="6" height="2" fill="url(#strp)" opacity="0.79"/>
<rect x="72.5" y="595.2" width="6" height="1" fill="url(#strp)" opacity="0.59"/>
<rect x="72.5" y="596.2" width="6" height="1" fill="url(#strp)" opacity="0.63"/>
<rect x="72.5" y="597.2" width="6" height="1" fill="url(#strp)" opacity="0.76"/>
<rect x="72.5" y="598.2" width="6" height="1" fill="url(#strp)" opacity="0.61"/>
<rect x="72.5" y="599.2" width="6" height="1" fill="url(#strp)" opacity="0.92"/>
<rect x="72.5" y="600.2" width="6" height="1.5" fill="url(#strp)" opacity="0.73"/>
<rect x="72.5" y="601.7" width="6" height="1.5" fill="url(#strp)" opacity="0.71"/>
<rect x="72.5" y="603.2" width="6" height="1.5" fill="url(#strp)" opacity="0.91"/>
<rect x="72.5" y="604.7" width="6" height="1" fill="url(#strp)" opacity="0.92"/>
<rect x="72.5" y="605.7" width="6" height="2" fill="url(#strp)" opacity="0.92"/>
<rect x="72.5" y="607.7" width="6" height="2" fill="url(#strp)" opacity="0.66"/>
<rect x="72.5" y="609.7" width="6" height="2" fill="url(#strp)" opacity="0.9"/>
<rect x="72.5" y="611.7" width="6" height="1" fill="url(#strp)" opacity="0.8"/>
<rect x="72.5" y="612.7" width="6" height="1" fill="url(#strp)" opacity="0.91"/>
<rect x="72.5" y="613.7" width="6" height="1.5" fill="url(#strp)" opacity="0.92"/>
<rect x="72.5" y="615.2" width="6" height="1" fill="url(#strp)" opacity="0.83"/>
<rect x="72.5" y="616.2" width="6" height="1" fill="url(#strp)" opacity="0.59"/>
<rect x="72.5" y="617.2" width="6" height="1" fill="url(#strp)" opacity="0.81"/>
<rect x="72.5" y="618.2" width="6" height="1" fill="url(#strp)" opacity="0.86"/>
<rect x="72.5" y="619.2" width="6" height="2" fill="url(#strp)" opacity="0.83"/>
<rect x="72.5" y="621.2" width="6" height="1.5" fill="url(#strp)" opacity="0.6"/>
<rect x="72.5" y="622.7" width="6" height="1.5" fill="url(#strp)" opacity="0.77"/>
<rect x="72.5" y="624.2" width="6" height="1.5" fill="url(#strp)" opacity="0.84"/>
<rect x="72.5" y="625.7" width="6" height="2" fill="url(#strp)" opacity="0.78"/>
<rect x="72.5" y="627.7" width="6" height="1" fill="url(#strp)" opacity="0.73"/>
<rect x="72.5" y="628.7" width="6" height="1" fill="url(#strp)" opacity="0.63"/>
<rect x="72.5" y="629.7" width="6" height="1" fill="url(#strp)" opacity="0.92"/>
<rect x="72.5" y="630.7" width="6" height="1" fill="url(#strp)" opacity="0.62"/>
<rect x="72.5" y="631.7" width="6" height="1" fill="url(#strp)" opacity="0.88"/>
<rect x="72.5" y="632.7" width="6" height="1" fill="url(#strp)" opacity="0.85"/>
<rect x="72.5" y="633.7" width="6" height="1" fill="url(#strp)" opacity="0.86"/>
<rect x="72.5" y="634.7" width="6" height="1.5" fill="url(#strp)" opacity="0.58"/>
<rect x="72.5" y="636.2" width="6" height="1.5" fill="url(#strp)" opacity="0.85"/>
<rect x="72.5" y="637.7" width="6" height="2" fill="url(#strp)" opacity="0.73"/>
<rect x="72.5" y="639.7" width="6" height="1.5" fill="url(#strp)" opacity="0.66"/>
<rect x="72.5" y="641.2" width="6" height="1.5" fill="url(#strp)" opacity="0.65"/>
<rect x="72.5" y="642.7" width="6" height="2" fill="url(#strp)" opacity="0.81"/>
<rect x="72.5" y="644.7" width="6" height="1.5" fill="url(#strp)" opacity="0.8"/>
<rect x="72.2" y="521.7" width="6.6" height="124.6" fill="#f07a80" opacity="0.24"/>
<rect x="58.2" y="521.7" width="34.6" height="124.6" fill="none" stroke="#1a1a1a" stroke-width="1.1" rx="0.8"/>
<rect x="98.3" y="440.1" width="34.1" height="17.1" fill="#fdf3f3"/>
<rect x="98.3" y="440.1" width="34.1" height="17.1" filter="url(#noise)" opacity="0.55"/>
<rect x="112.35" y="440.6" width="6" height="1" fill="url(#strp)" opacity="0.29"/>
<rect x="112.35" y="441.6" width="6" height="1" fill="url(#strp)" opacity="0.33"/>
<rect x="112.35" y="442.6" width="6" height="1" fill="url(#strp)" opacity="0.28"/>
<rect x="112.35" y="443.6" width="6" height="1.5" fill="url(#strp)" opacity="0.31"/>
<rect x="112.35" y="445.1" width="6" height="1.5" fill="url(#strp)" opacity="0.29"/>
<rect x="112.35" y="446.6" width="6" height="1.5" fill="url(#strp)" opacity="0.24"/>
<rect x="112.35" y="448.1" width="6" height="2" fill="url(#strp)" opacity="0.29"/>
<rect x="112.35" y="450.1" width="6" height="1" fill="url(#strp)" opacity="0.3"/>
<rect x="112.35" y="451.1" width="6" height="1" fill="url(#strp)" opacity="0.35"/>
<rect x="112.35" y="452.1" width="6" height="1.5" fill="url(#strp)" opacity="0.22"/>
<rect x="112.35" y="453.6" width="6" height="1.5" fill="url(#strp)" opacity="0.34"/>
<rect x="112.35" y="455.1" width="6" height="1.5" fill="url(#strp)" opacity="0.26"/>
<rect x="112.35" y="456.6" width="6" height="1" fill="url(#strp)" opacity="0.31"/>
<rect x="112.05" y="440.1" width="6.6" height="17.1" fill="#f07a80" opacity="0.11"/>
<rect x="98.3" y="440.1" width="34.1" height="17.1" fill="none" stroke="#1a1a1a" stroke-width="1.1" rx="0.8"/>
<rect x="98.3" y="460.2" width="34.1" height="58" fill="#fdf3f3"/>
<rect x="98.3" y="460.2" width="34.1" height="58" filter="url(#noise)" opacity="0.55"/>
<rect x="112.35" y="460.7" width="6" height="2" fill="url(#strp)" opacity="0.22"/>
<rect x="112.35" y="462.7" width="6" height="1" fill="url(#strp)" opacity="0.37"/>
<rect x="112.35" y="463.7" width="6" height="1.5" fill="url(#strp)" opacity="0.25"/>
<rect x="112.35" y="465.2" width="6" height="2" fill="url(#strp)" opacity="0.33"/>
<rect x="112.35" y="467.2" width="6" height="2" fill="url(#strp)" opacity="0.29"/>
<rect x="112.35" y="469.2" width="6" height="1.5" fill="url(#strp)" opacity="0.33"/>
<rect x="112.35" y="470.7" width="6" height="1" fill="url(#strp)" opacity="0.23"/>
<rect x="112.35" y="471.7" width="6" height="1" fill="url(#strp)" opacity="0.25"/>
<rect x="112.35" y="472.7" width="6" height="1" fill="url(#strp)" opacity="0.36"/>
<rect x="112.35" y="473.7" width="6" height="2" fill="url(#strp)" opacity="0.23"/>
<rect x="112.35" y="475.7" width="6" height="2" fill="url(#strp)" opacity="0.32"/>
<rect x="112.35" y="477.7" width="6" height="1" fill="url(#strp)" opacity="0.32"/>
<rect x="112.35" y="478.7" width="6" height="1" fill="url(#strp)" opacity="0.3"/>
<rect x="112.35" y="479.7" width="6" height="1" fill="url(#strp)" opacity="0.28"/>
<rect x="112.35" y="480.7" width="6" height="1.5" fill="url(#strp)" opacity="0.28"/>
<rect x="112.35" y="482.2" width="6" height="1" fill="url(#strp)" opacity="0.3"/>
<rect x="112.35" y="483.2" width="6" height="1.5" fill="url(#strp)" opacity="0.35"/>
<rect x="112.35" y="484.7" width="6" height="1" fill="url(#strp)" opacity="0.33"/>
<rect x="112.35" y="485.7" width="6" height="1.5" fill="url(#strp)" opacity="0.31"/>
<rect x="112.35" y="487.2" width="6" height="1" fill="url(#strp)" opacity="0.35"/>
<rect x="112.35" y="488.2" width="6" height="2" fill="url(#strp)" opacity="0.3"/>
<rect x="112.35" y="490.2" width="6" height="1" fill="url(#strp)" opacity="0.32"/>
<rect x="112.35" y="491.2" width="6" height="1.5" fill="url(#strp)" opacity="0.31"/>
<rect x="112.35" y="492.7" width="6" height="1.5" fill="url(#strp)" opacity="0.32"/>
<rect x="112.35" y="494.2" width="6" height="2" fill="url(#strp)" opacity="0.32"/>
<rect x="112.35" y="496.2" width="6" height="1" fill="url(#strp)" opacity="0.29"/>
<rect x="112.35" y="497.2" width="6" height="1" fill="url(#strp)" opacity="0.3"/>
<rect x="112.35" y="498.2" width="6" height="1.5" fill="url(#strp)" opacity="0.25"/>
<rect x="112.35" y="499.7" width="6" height="1" fill="url(#strp)" opacity="0.29"/>
<rect x="112.35" y="500.7" width="6" height="1" fill="url(#strp)" opacity="0.33"/>
<rect x="112.35" y="501.7" width="6" height="1.5" fill="url(#strp)" opacity="0.36"/>
<rect x="112.35" y="503.2" width="6" height="1" fill="url(#strp)" opacity="0.35"/>
<rect x="112.35" y="504.2" width="6" height="1.5" fill="url(#strp)" opacity="0.3"/>
<rect x="112.35" y="505.7" width="6" height="1" fill="url(#strp)" opacity="0.36"/>
<rect x="112.35" y="506.7" width="6" height="1.5" fill="url(#strp)" opacity="0.22"/>
<rect x="112.35" y="508.2" width="6" height="1" fill="url(#strp)" opacity="0.32"/>
<rect x="112.35" y="509.2" width="6" height="2" fill="url(#strp)" opacity="0.22"/>
<rect x="112.35" y="511.2" width="6" height="1.5" fill="url(#strp)" opacity="0.29"/>
<rect x="112.35" y="512.7" width="6" height="1.5" fill="url(#strp)" opacity="0.26"/>
<rect x="112.35" y="514.2" width="6" height="1" fill="url(#strp)" opacity="0.27"/>
<rect x="112.35" y="515.2" width="6" height="1" fill="url(#strp)" opacity="0.37"/>
<rect x="112.35" y="516.2" width="6" height="1" fill="url(#strp)" opacity="0.22"/>
<rect x="112.35" y="517.2" width="6" height="2" fill="url(#strp)" opacity="0.35"/>
<rect x="112.05" y="460.2" width="6.6" height="58" fill="#f07a80" opacity="0.12"/>
<rect x="98.3" y="460.2" width="34.1" height="58" fill="none" stroke="#1a1a1a" stroke-width="1.1" rx="0.8"/>
<rect x="98.3" y="521.7" width="34.1" height="124.6" fill="#fdf3f3"/>
<rect x="98.3" y="521.7" width="34.1" height="124.6" filter="url(#noise)" opacity="0.55"/>
<rect x="112.35" y="522.2" width="6" height="1" fill="url(#strp)" opacity="0.77"/>
<rect x="112.35" y="523.2" width="6" height="1.5" fill="url(#strp)" opacity="0.63"/>
<rect x="112.35" y="524.7" width="6" height="1" fill="url(#strp)" opacity="0.87"/>
<rect x="112.35" y="525.7" width="6" height="2" fill="url(#strp)" opacity="0.65"/>
<rect x="112.35" y="527.7" width="6" height="1.5" fill="url(#strp)" opacity="0.73"/>
<rect x="112.35" y="529.2" width="6" height="2" fill="url(#strp)" opacity="0.85"/>
<rect x="112.35" y="531.2" width="6" height="1" fill="url(#strp)" opacity="0.62"/>
<rect x="112.35" y="532.2" width="6" height="1.5" fill="url(#strp)" opacity="0.81"/>
<rect x="112.35" y="533.7" width="6" height="1.5" fill="url(#strp)" opacity="0.83"/>
<rect x="112.35" y="535.2" width="6" height="1.5" fill="url(#strp)" opacity="0.72"/>
<rect x="112.35" y="536.7" width="6" height="1.5" fill="url(#strp)" opacity="0.73"/>
<rect x="112.35" y="538.2" width="6" height="1" fill="url(#strp)" opacity="0.63"/>
<rect x="112.35" y="539.2" width="6" height="1" fill="url(#strp)" opacity="0.55"/>
<rect x="112.35" y="540.2" width="6" height="1" fill="url(#strp)" opacity="0.6"/>
<rect x="112.35" y="541.2" width="6" height="2" fill="url(#strp)" opacity="0.83"/>
<rect x="112.35" y="543.2" width="6" height="1" fill="url(#strp)" opacity="0.7"/>
<rect x="112.35" y="544.2" width="6" height="1" fill="url(#strp)" opacity="0.57"/>
<rect x="112.35" y="545.2" width="6" height="1" fill="url(#strp)" opacity="0.53"/>
<rect x="112.35" y="546.2" width="6" height="1.5" fill="url(#strp)" opacity="0.9"/>
<rect x="112.35" y="547.7" width="6" height="2" fill="url(#strp)" opacity="0.86"/>
<rect x="112.35" y="549.7" width="6" height="1" fill="url(#strp)" opacity="0.78"/>
<rect x="112.35" y="550.7" width="6" height="2" fill="url(#strp)" opacity="0.59"/>
<rect x="112.35" y="552.7" width="6" height="2" fill="url(#strp)" opacity="0.76"/>
<rect x="112.35" y="554.7" width="6" height="1.5" fill="url(#strp)" opacity="0.75"/>
<rect x="112.35" y="556.2" width="6" height="1.5" fill="url(#strp)" opacity="0.58"/>
<rect x="112.35" y="557.7" width="6" height="1" fill="url(#strp)" opacity="0.84"/>
<rect x="112.35" y="558.7" width="6" height="1.5" fill="url(#strp)" opacity="0.75"/>
<rect x="112.35" y="560.2" width="6" height="1" fill="url(#strp)" opacity="0.9"/>
<rect x="112.35" y="561.2" width="6" height="1" fill="url(#strp)" opacity="0.76"/>
<rect x="112.35" y="562.2" width="6" height="1" fill="url(#strp)" opacity="0.67"/>
<rect x="112.35" y="563.2" width="6" height="2" fill="url(#strp)" opacity="0.86"/>
<rect x="112.35" y="565.2" width="6" height="1" fill="url(#strp)" opacity="0.66"/>
<rect x="112.35" y="566.2" width="6" height="1" fill="url(#strp)" opacity="0.71"/>
<rect x="112.35" y="567.2" width="6" height="1" fill="url(#strp)" opacity="0.88"/>
<rect x="112.35" y="568.2" width="6" height="1.5" fill="url(#strp)" opacity="0.81"/>
<rect x="112.35" y="569.7" width="6" height="1.5" fill="url(#strp)" opacity="0.81"/>
<rect x="112.35" y="571.2" width="6" height="2" fill="url(#strp)" opacity="0.63"/>
<rect x="112.35" y="573.2" width="6" height="1" fill="url(#strp)" opacity="0.87"/>
<rect x="112.35" y="574.2" width="6" height="1.5" fill="url(#strp)" opacity="0.68"/>
<rect x="112.35" y="575.7" width="6" height="1.5" fill="url(#strp)" opacity="0.54"/>
<rect x="112.35" y="577.2" width="6" height="2" fill="url(#strp)" opacity="0.77"/>
<rect x="112.35" y="579.2" width="6" height="1.5" fill="url(#strp)" opacity="0.88"/>
<rect x="112.35" y="580.7" width="6" height="1" fill="url(#strp)" opacity="0.59"/>
<rect x="112.35" y="581.7" width="6" height="1" fill="url(#strp)" opacity="0.68"/>
<rect x="112.35" y="582.7" width="6" height="1" fill="url(#strp)" opacity="0.69"/>
<rect x="112.35" y="583.7" width="6" height="2" fill="url(#strp)" opacity="0.61"/>
<rect x="112.35" y="585.7" width="6" height="1" fill="url(#strp)" opacity="0.54"/>
<rect x="112.35" y="586.7" width="6" height="2" fill="url(#strp)" opacity="0.84"/>
<rect x="112.35" y="588.7" width="6" height="1" fill="url(#strp)" opacity="0.59"/>
<rect x="112.35" y="589.7" width="6" height="1" fill="url(#strp)" opacity="0.76"/>
<rect x="112.35" y="590.7" width="6" height="2" fill="url(#strp)" opacity="0.58"/>
<rect x="112.35" y="592.7" width="6" height="1" fill="url(#strp)" opacity="0.79"/>
<rect x="112.35" y="593.7" width="6" height="1.5" fill="url(#strp)" opacity="0.53"/>
<rect x="112.35" y="595.2" width="6" height="1.5" fill="url(#strp)" opacity="0.66"/>
<rect x="112.35" y="596.7" width="6" height="1" fill="url(#strp)" opacity="0.67"/>
<rect x="112.35" y="597.7" width="6" height="1" fill="url(#strp)" opacity="0.72"/>
<rect x="112.35" y="598.7" width="6" height="2" fill="url(#strp)" opacity="0.83"/>
<rect x="112.35" y="600.7" width="6" height="2" fill="url(#strp)" opacity="0.66"/>
<rect x="112.35" y="602.7" width="6" height="1" fill="url(#strp)" opacity="0.56"/>
<rect x="112.35" y="603.7" width="6" height="1" fill="url(#strp)" opacity="0.64"/>
<rect x="112.35" y="604.7" width="6" height="1" fill="url(#strp)" opacity="0.85"/>
<rect x="112.35" y="605.7" width="6" height="2" fill="url(#strp)" opacity="0.69"/>
<rect x="112.35" y="607.7" width="6" height="1" fill="url(#strp)" opacity="0.6"/>
<rect x="112.35" y="608.7" width="6" height="2" fill="url(#strp)" opacity="0.75"/>
<rect x="112.35" y="610.7" width="6" height="1" fill="url(#strp)" opacity="0.6"/>
<rect x="112.35" y="611.7" width="6" height="1" fill="url(#strp)" opacity="0.67"/>
<rect x="112.35" y="612.7" width="6" height="1.5" fill="url(#strp)" opacity="0.78"/>
<rect x="112.35" y="614.2" width="6" height="1" fill="url(#strp)" opacity="0.73"/>
<rect x="112.35" y="615.2" width="6" height="1.5" fill="url(#strp)" opacity="0.72"/>
<rect x="112.35" y="616.7" width="6" height="2" fill="url(#strp)" opacity="0.59"/>
<rect x="112.35" y="618.7" width="6" height="2" fill="url(#strp)" opacity="0.79"/>
<rect x="112.35" y="620.7" width="6" height="1" fill="url(#strp)" opacity="0.72"/>
<rect x="112.35" y="621.7" width="6" height="2" fill="url(#strp)" opacity="0.82"/>
<rect x="112.35" y="623.7" width="6" height="1" fill="url(#strp)" opacity="0.89"/>
<rect x="112.35" y="624.7" width="6" height="2" fill="url(#strp)" opacity="0.81"/>
<rect x="112.35" y="626.7" width="6" height="1.5" fill="url(#strp)" opacity="0.68"/>
<rect x="112.35" y="628.2" width="6" height="1" fill="url(#strp)" opacity="0.89"/>
<rect x="112.35" y="629.2" width="6" height="1" fill="url(#strp)" opacity="0.7"/>
<rect x="112.35" y="630.2" width="6" height="1.5" fill="url(#strp)" opacity="0.91"/>
<rect x="112.35" y="631.7" width="6" height="1.5" fill="url(#strp)" opacity="0.85"/>
<rect x="112.35" y="633.2" width="6" height="1" fill="url(#strp)" opacity="0.87"/>
<rect x="112.35" y="634.2" width="6" height="2" fill="url(#strp)" opacity="0.56"/>
<rect x="112.35" y="636.2" width="6" height="1.5" fill="url(#strp)" opacity="0.9"/>
<rect x="112.35" y="637.7" width="6" height="1" fill="url(#strp)" opacity="0.6"/>
<rect x="112.35" y="638.7" width="6" height="1.5" fill="url(#strp)" opacity="0.85"/>
<rect x="112.35" y="640.2" width="6" height="2" fill="url(#strp)" opacity="0.53"/>
<rect x="112.35" y="642.2" width="6" height="1" fill="url(#strp)" opacity="0.85"/>
<rect x="112.35" y="643.2" width="6" height="2" fill="url(#strp)" opacity="0.63"/>
<rect x="112.35" y="645.2" width="6" height="1" fill="url(#strp)" opacity="0.65"/>
<rect x="112.05" y="521.7" width="6.6" height="124.6" fill="#f07a80" opacity="0.22"/>
<rect x="98.3" y="521.7" width="34.1" height="124.6" fill="none" stroke="#1a1a1a" stroke-width="1.1" rx="0.8"/>
<text x="136.2" y="449.3" font-size="7.2" fill="#222" textLength="33" lengthAdjust="spacingAndGlyphs">Active enh</text>
<text x="136" y="496.7" font-size="7.2" fill="#222">Active</text>
<text x="136" y="505.4" font-size="7.2" fill="#222">prom</text>
<text x="136" y="551.4" font-size="7.2" fill="#222">Insulators</text>
<text x="136" y="559.7" font-size="7.2" fill="#222">and others</text>
<line x1="172.3" y1="446.5" x2="202" y2="446.5" stroke="#333" stroke-width="0.9"/>
<line x1="163.8" y1="498.4" x2="191.3" y2="498.4" stroke="#333" stroke-width="0.9"/>
<line x1="172.3" y1="553.7" x2="202" y2="553.7" stroke="#333" stroke-width="0.9"/>
<text x="13.6" y="535.5" font-size="6.9" text-anchor="middle" fill="#222" textLength="39.5" lengthAdjust="spacingAndGlyphs" transform="rotate(-90 13.6 535.5)">Rad21 peaks</text>
<text x="194.8" y="408.1" font-size="12.2" font-weight="bold" fill="#000" textLength="7.76" lengthAdjust="spacingAndGlyphs">E</text>
<text x="268.7" y="414" font-size="6.2" fill="#3a5aa8">HPC</text>
<text x="268.7" y="421" font-size="6.2" fill="#c8203c">Erythroid</text>
<text x="268.7" y="428" font-size="6.2" fill="#5a2a90">Myeloid</text>
<line x1="245.6" y1="433.2" x2="245.6" y2="464.2" stroke="#999" stroke-width="0.9"/>
<line x1="255.6" y1="433.2" x2="255.6" y2="464.2" stroke="#999" stroke-width="0.9"/>
<line x1="224.5" y1="432" x2="224.5" y2="464.8" stroke="#111" stroke-width="1.2"/>
<line x1="224.5" y1="464.2" x2="278.4" y2="464.2" stroke="#111" stroke-width="1.2"/>
<line x1="222.5" y1="464.2" x2="224.5" y2="464.2" stroke="#111" stroke-width="0.8"/>
<text x="218.2" y="466.7" font-size="7" text-anchor="end" fill="#222">0.0</text>
<line x1="222.5" y1="448.45" x2="224.5" y2="448.45" stroke="#111" stroke-width="0.8"/>
<text x="218.2" y="450.95" font-size="7" text-anchor="end" fill="#222">1.0</text>
<line x1="222.5" y1="432.7" x2="224.5" y2="432.7" stroke="#111" stroke-width="0.8"/>
<text x="218.2" y="435.2" font-size="7" text-anchor="end" fill="#222">2.0</text>
<line x1="226" y1="464.2" x2="226" y2="466.2" stroke="#111" stroke-width="0.8"/>
<line x1="246" y1="464.2" x2="246" y2="466.2" stroke="#111" stroke-width="0.8"/>
<line x1="255.4" y1="464.2" x2="255.4" y2="466.2" stroke="#111" stroke-width="0.8"/>
<line x1="275.3" y1="464.2" x2="275.3" y2="466.2" stroke="#111" stroke-width="0.8"/>
<text x="226.5" y="476.2" font-size="7" text-anchor="middle" fill="#222" textLength="17.5" lengthAdjust="spacingAndGlyphs">-5000</text>
<text x="275.3" y="476.2" font-size="7" text-anchor="middle" fill="#222" textLength="14.1" lengthAdjust="spacingAndGlyphs">5000</text>
<text x="244.2" y="474.5" font-size="4.6" text-anchor="middle" fill="#444" textLength="12.2" lengthAdjust="spacingAndGlyphs">5'End</text>
<text x="258" y="474.5" font-size="4.6" text-anchor="middle" fill="#444" textLength="12.1" lengthAdjust="spacingAndGlyphs">3'End</text>
<path d="M226.8 462.16 L227.41 462.16 L228.02 462.15 L228.63 462.15 L229.24 462.14 L229.84 462.13 L230.45 462.12 L231.06 462.11 L231.67 462.1 L232.28 462.08 L232.89 462.07 L233.5 462.05 L234.11 462.03 L234.71 462.01 L235.32 461.98 L235.93 461.96 L236.54 461.93 L237.15 461.89 L237.76 461.86 L238.37 461.82 L238.98 461.77 L239.58 461.72 L240.19 461.66 L240.8 461.58 L241.41 461.47 L242.02 461.32 L242.63 461.13 L243.24 460.85 L243.84 460.49 L244.45 460.01 L245.06 459.4 L245.67 458.65 L246.28 457.77 L246.89 456.78 L247.5 455.72 L248.11 454.66 L248.72 453.66 L249.32 452.81 L249.93 452.19 L250.54 451.84 L251.15 451.81 L251.76 452.1 L252.37 452.68 L252.98 453.5 L253.59 454.47 L254.19 455.53 L254.8 456.6 L255.41 457.6 L256.02 458.5 L256.63 459.28 L257.24 459.91 L257.85 460.41 L258.45 460.8 L259.06 461.08 L259.67 461.29 L260.28 461.45 L260.89 461.56 L261.5 461.64 L262.11 461.71 L262.72 461.76 L263.32 461.81 L263.93 461.85 L264.54 461.89 L265.15 461.92 L265.76 461.95 L266.37 461.98 L266.98 462 L267.59 462.03 L268.19 462.05 L268.8 462.06 L269.41 462.08 L270.02 462.1 L270.63 462.11 L271.24 462.12 L271.85 462.13 L272.46 462.14 L273.06 462.15 L273.67 462.15 L274.28 462.16 L274.89 462.16 L275.5 462.17" fill="none" stroke="#3a5aa8" stroke-width="1.1" stroke-linejoin="round"/>
<path d="M226.8 462.32 L227.41 462.32 L228.02 462.31 L228.63 462.31 L229.24 462.3 L229.84 462.3 L230.45 462.29 L231.06 462.28 L231.67 462.27 L232.28 462.25 L232.89 462.24 L233.5 462.22 L234.11 462.21 L234.71 462.19 L235.32 462.16 L235.93 462.14 L236.54 462.11 L237.15 462.09 L237.76 462.05 L238.37 462.02 L238.98 461.98 L239.58 461.93 L240.19 461.88 L240.8 461.81 L241.41 461.71 L242.02 461.59 L242.63 461.41 L243.24 461.17 L243.84 460.85 L244.45 460.43 L245.06 459.9 L245.67 459.24 L246.28 458.46 L246.89 457.59 L247.5 456.66 L248.11 455.73 L248.72 454.85 L249.32 454.11 L249.93 453.56 L250.54 453.25 L251.15 453.23 L251.76 453.48 L252.37 453.99 L252.98 454.71 L253.59 455.57 L254.19 456.5 L254.8 457.43 L255.41 458.31 L256.02 459.11 L256.63 459.79 L257.24 460.34 L257.85 460.78 L258.45 461.12 L259.06 461.37 L259.67 461.56 L260.28 461.69 L260.89 461.79 L261.5 461.87 L262.11 461.93 L262.72 461.97 L263.32 462.01 L263.93 462.05 L264.54 462.08 L265.15 462.11 L265.76 462.14 L266.37 462.16 L266.98 462.18 L267.59 462.2 L268.19 462.22 L268.8 462.24 L269.41 462.25 L270.02 462.26 L270.63 462.28 L271.24 462.28 L271.85 462.29 L272.46 462.3 L273.06 462.31 L273.67 462.31 L274.28 462.32 L274.89 462.32 L275.5 462.33" fill="none" stroke="#4a2a80" stroke-width="1.1" stroke-linejoin="round"/>
<path d="M226.8 461.68 L227.41 461.67 L228.02 461.66 L228.63 461.65 L229.24 461.64 L229.84 461.62 L230.45 461.61 L231.06 461.59 L231.67 461.57 L232.28 461.54 L232.89 461.51 L233.5 461.48 L234.11 461.45 L234.71 461.41 L235.32 461.37 L235.93 461.32 L236.54 461.27 L237.15 461.21 L237.76 461.15 L238.37 461.09 L238.98 461.01 L239.58 460.92 L240.19 460.81 L240.8 460.67 L241.41 460.49 L242.02 460.24 L242.63 459.9 L243.24 459.44 L243.84 458.81 L244.45 457.99 L245.06 456.95 L245.67 455.67 L246.28 454.16 L246.89 452.46 L247.5 450.65 L248.11 448.83 L248.72 447.12 L249.32 445.67 L249.93 444.6 L250.54 444.01 L251.15 443.96 L251.76 444.45 L252.37 445.45 L252.98 446.84 L253.59 448.51 L254.19 450.32 L254.8 452.14 L255.41 453.87 L256.02 455.41 L256.63 456.74 L257.24 457.82 L257.85 458.68 L258.45 459.34 L259.06 459.83 L259.67 460.19 L260.28 460.45 L260.89 460.64 L261.5 460.79 L262.11 460.9 L262.72 460.99 L263.32 461.07 L263.93 461.14 L264.54 461.2 L265.15 461.26 L265.76 461.31 L266.37 461.36 L266.98 461.4 L267.59 461.44 L268.19 461.48 L268.8 461.51 L269.41 461.54 L270.02 461.56 L270.63 461.58 L271.24 461.6 L271.85 461.62 L272.46 461.63 L273.06 461.65 L273.67 461.66 L274.28 461.67 L274.89 461.67 L275.5 461.68" fill="none" stroke="#c0184a" stroke-width="1.1" stroke-linejoin="round"/>
<text x="261" y="446.8" font-size="6" fill="#222">Erythroid to all</text>
<text x="261" y="453.2" font-size="6" fill="#222">&lt;0.001</text>
<line x1="245.6" y1="485.2" x2="245.6" y2="517.4" stroke="#999" stroke-width="0.9"/>
<line x1="255.6" y1="485.2" x2="255.6" y2="517.4" stroke="#999" stroke-width="0.9"/>
<line x1="224.5" y1="484" x2="224.5" y2="518" stroke="#111" stroke-width="1.2"/>
<line x1="224.5" y1="517.4" x2="278.4" y2="517.4" stroke="#111" stroke-width="1.2"/>
<line x1="222.5" y1="517.4" x2="224.5" y2="517.4" stroke="#111" stroke-width="0.8"/>
<text x="218.2" y="519.9" font-size="7" text-anchor="end" fill="#222">0.0</text>
<line x1="222.5" y1="501.8" x2="224.5" y2="501.8" stroke="#111" stroke-width="0.8"/>
<text x="218.2" y="504.3" font-size="7" text-anchor="end" fill="#222">1.0</text>
<line x1="222.5" y1="486.2" x2="224.5" y2="486.2" stroke="#111" stroke-width="0.8"/>
<text x="218.2" y="488.7" font-size="7" text-anchor="end" fill="#222">2.0</text>
<line x1="226" y1="517.4" x2="226" y2="519.4" stroke="#111" stroke-width="0.8"/>
<line x1="246" y1="517.4" x2="246" y2="519.4" stroke="#111" stroke-width="0.8"/>
<line x1="255.4" y1="517.4" x2="255.4" y2="519.4" stroke="#111" stroke-width="0.8"/>
<line x1="275.3" y1="517.4" x2="275.3" y2="519.4" stroke="#111" stroke-width="0.8"/>
<text x="226.5" y="529.4" font-size="7" text-anchor="middle" fill="#222" textLength="17.5" lengthAdjust="spacingAndGlyphs">-5000</text>
<text x="275.3" y="529.4" font-size="7" text-anchor="middle" fill="#222" textLength="14.1" lengthAdjust="spacingAndGlyphs">5000</text>
<text x="244.2" y="527.7" font-size="4.6" text-anchor="middle" fill="#444" textLength="12.2" lengthAdjust="spacingAndGlyphs">5'End</text>
<text x="258" y="527.7" font-size="4.6" text-anchor="middle" fill="#444" textLength="12.1" lengthAdjust="spacingAndGlyphs">3'End</text>
<path d="M226.8 515.38 L227.41 515.37 L228.02 515.37 L228.63 515.36 L229.24 515.35 L229.84 515.35 L230.45 515.34 L231.06 515.33 L231.67 515.31 L232.28 515.3 L232.89 515.29 L233.5 515.27 L234.11 515.25 L234.71 515.23 L235.32 515.2 L235.93 515.18 L236.54 515.15 L237.15 515.12 L237.76 515.08 L238.37 515.05 L238.98 515 L239.58 514.95 L240.19 514.89 L240.8 514.81 L241.41 514.71 L242.02 514.57 L242.63 514.38 L243.24 514.12 L243.84 513.77 L244.45 513.31 L245.06 512.72 L245.67 512.01 L246.28 511.16 L246.89 510.21 L247.5 509.19 L248.11 508.17 L248.72 507.21 L249.32 506.4 L249.93 505.8 L250.54 505.47 L251.15 505.44 L251.76 505.72 L252.37 506.27 L252.98 507.05 L253.59 507.99 L254.19 509.01 L254.8 510.03 L255.41 511 L256.02 511.86 L256.63 512.61 L257.24 513.21 L257.85 513.7 L258.45 514.06 L259.06 514.34 L259.67 514.54 L260.28 514.69 L260.89 514.8 L261.5 514.88 L262.11 514.94 L262.72 514.99 L263.32 515.04 L263.93 515.08 L264.54 515.11 L265.15 515.14 L265.76 515.17 L266.37 515.2 L266.98 515.22 L267.59 515.25 L268.19 515.27 L268.8 515.28 L269.41 515.3 L270.02 515.31 L270.63 515.33 L271.24 515.34 L271.85 515.35 L272.46 515.35 L273.06 515.36 L273.67 515.37 L274.28 515.37 L274.89 515.38 L275.5 515.38" fill="none" stroke="#3a5aa8" stroke-width="1.1" stroke-linejoin="round"/>
<path d="M226.8 515.53 L227.41 515.53 L228.02 515.52 L228.63 515.52 L229.24 515.51 L229.84 515.5 L230.45 515.5 L231.06 515.49 L231.67 515.47 L232.28 515.46 L232.89 515.45 L233.5 515.43 L234.11 515.41 L234.71 515.39 L235.32 515.37 L235.93 515.34 L236.54 515.31 L237.15 515.28 L237.76 515.25 L238.37 515.21 L238.98 515.17 L239.58 515.12 L240.19 515.06 L240.8 514.99 L241.41 514.89 L242.02 514.75 L242.63 514.57 L243.24 514.32 L243.84 513.98 L244.45 513.53 L245.06 512.96 L245.67 512.27 L246.28 511.45 L246.89 510.53 L247.5 509.54 L248.11 508.55 L248.72 507.62 L249.32 506.83 L249.93 506.25 L250.54 505.93 L251.15 505.91 L251.76 506.17 L252.37 506.71 L252.98 507.47 L253.59 508.38 L254.19 509.36 L254.8 510.35 L255.41 511.29 L256.02 512.13 L256.63 512.85 L257.24 513.44 L257.85 513.91 L258.45 514.26 L259.06 514.53 L259.67 514.72 L260.28 514.87 L260.89 514.97 L261.5 515.05 L262.11 515.11 L262.72 515.16 L263.32 515.21 L263.93 515.24 L264.54 515.28 L265.15 515.31 L265.76 515.34 L266.37 515.36 L266.98 515.38 L267.59 515.41 L268.19 515.43 L268.8 515.44 L269.41 515.46 L270.02 515.47 L270.63 515.48 L271.24 515.49 L271.85 515.5 L272.46 515.51 L273.06 515.52 L273.67 515.52 L274.28 515.53 L274.89 515.53 L275.5 515.54" fill="none" stroke="#4a2a80" stroke-width="1.1" stroke-linejoin="round"/>
<path d="M226.8 514.89 L227.41 514.89 L228.02 514.88 L228.63 514.87 L229.24 514.86 L229.84 514.84 L230.45 514.82 L231.06 514.81 L231.67 514.78 L232.28 514.76 L232.89 514.73 L233.5 514.7 L234.11 514.67 L234.71 514.63 L235.32 514.59 L235.93 514.54 L236.54 514.49 L237.15 514.44 L237.76 514.38 L238.37 514.31 L238.98 514.23 L239.58 514.14 L240.19 514.04 L240.8 513.9 L241.41 513.72 L242.02 513.47 L242.63 513.14 L243.24 512.68 L243.84 512.06 L244.45 511.24 L245.06 510.21 L245.67 508.94 L246.28 507.45 L246.89 505.77 L247.5 503.97 L248.11 502.17 L248.72 500.48 L249.32 499.04 L249.93 497.98 L250.54 497.4 L251.15 497.35 L251.76 497.84 L252.37 498.82 L252.98 500.2 L253.59 501.85 L254.19 503.65 L254.8 505.45 L255.41 507.16 L256.02 508.69 L256.63 510 L257.24 511.08 L257.85 511.93 L258.45 512.58 L259.06 513.06 L259.67 513.42 L260.28 513.68 L260.89 513.87 L261.5 514.01 L262.11 514.13 L262.72 514.22 L263.32 514.3 L263.93 514.37 L264.54 514.43 L265.15 514.48 L265.76 514.53 L266.37 514.58 L266.98 514.62 L267.59 514.66 L268.19 514.7 L268.8 514.73 L269.41 514.76 L270.02 514.78 L270.63 514.8 L271.24 514.82 L271.85 514.84 L272.46 514.85 L273.06 514.87 L273.67 514.88 L274.28 514.88 L274.89 514.89 L275.5 514.9" fill="none" stroke="#c0184a" stroke-width="1.1" stroke-linejoin="round"/>
<text x="261" y="502.8" font-size="6" fill="#222">Erythroid to all</text>
<text x="261" y="509.2" font-size="6" fill="#222">&lt;0.001</text>
<line x1="245.6" y1="538.2" x2="245.6" y2="571.2" stroke="#999" stroke-width="0.9"/>
<line x1="255.6" y1="538.2" x2="255.6" y2="571.2" stroke="#999" stroke-width="0.9"/>
<line x1="224.5" y1="537" x2="224.5" y2="571.8" stroke="#111" stroke-width="1.2"/>
<line x1="224.5" y1="571.2" x2="278.4" y2="571.2" stroke="#111" stroke-width="1.2"/>
<line x1="222.5" y1="571.2" x2="224.5" y2="571.2" stroke="#111" stroke-width="0.8"/>
<text x="218.2" y="573.7" font-size="7" text-anchor="end" fill="#222">0.0</text>
<line x1="222.5" y1="555.3" x2="224.5" y2="555.3" stroke="#111" stroke-width="0.8"/>
<text x="218.2" y="557.8" font-size="7" text-anchor="end" fill="#222">1.0</text>
<line x1="222.5" y1="539.4" x2="224.5" y2="539.4" stroke="#111" stroke-width="0.8"/>
<text x="218.2" y="541.9" font-size="7" text-anchor="end" fill="#222">2.0</text>
<line x1="226" y1="571.2" x2="226" y2="573.2" stroke="#111" stroke-width="0.8"/>
<line x1="246" y1="571.2" x2="246" y2="573.2" stroke="#111" stroke-width="0.8"/>
<line x1="255.4" y1="571.2" x2="255.4" y2="573.2" stroke="#111" stroke-width="0.8"/>
<line x1="275.3" y1="571.2" x2="275.3" y2="573.2" stroke="#111" stroke-width="0.8"/>
<text x="226.5" y="583.2" font-size="7" text-anchor="middle" fill="#222" textLength="17.5" lengthAdjust="spacingAndGlyphs">-5000</text>
<text x="275.3" y="583.2" font-size="7" text-anchor="middle" fill="#222" textLength="14.1" lengthAdjust="spacingAndGlyphs">5000</text>
<text x="244.2" y="581.5" font-size="4.6" text-anchor="middle" fill="#444" textLength="12.2" lengthAdjust="spacingAndGlyphs">5'End</text>
<text x="258" y="581.5" font-size="4.6" text-anchor="middle" fill="#444" textLength="12.1" lengthAdjust="spacingAndGlyphs">3'End</text>
<path d="M226.8 569.17 L227.41 569.17 L228.02 569.17 L228.63 569.17 L229.24 569.17 L229.84 569.17 L230.45 569.17 L231.06 569.17 L231.67 569.16 L232.28 569.16 L232.89 569.16 L233.5 569.15 L234.11 569.15 L234.71 569.14 L235.32 569.13 L235.93 569.11 L236.54 569.09 L237.15 569.07 L237.76 569.04 L238.37 569 L238.98 568.95 L239.58 568.89 L240.19 568.82 L240.8 568.73 L241.41 568.64 L242.02 568.53 L242.63 568.4 L243.24 568.24 L243.84 568.05 L244.45 567.78 L245.06 567.36 L245.67 566.68 L246.28 565.57 L246.89 563.85 L247.5 561.38 L248.11 558.14 L248.72 554.38 L249.32 550.56 L249.93 547.37 L250.54 545.48 L251.15 545.32 L251.76 546.92 L252.37 549.93 L252.98 553.68 L253.59 557.5 L254.19 560.85 L254.8 563.47 L255.41 565.31 L256.02 566.52 L256.63 567.26 L257.24 567.72 L257.85 568.01 L258.45 568.21 L259.06 568.37 L259.67 568.51 L260.28 568.62 L260.89 568.72 L261.5 568.8 L262.11 568.88 L262.72 568.94 L263.32 568.99 L263.93 569.03 L264.54 569.06 L265.15 569.09 L265.76 569.11 L266.37 569.13 L266.98 569.14 L267.59 569.15 L268.19 569.15 L268.8 569.16 L269.41 569.16 L270.02 569.16 L270.63 569.17 L271.24 569.17 L271.85 569.17 L272.46 569.17 L273.06 569.17 L273.67 569.17 L274.28 569.17 L274.89 569.17 L275.5 569.17" fill="none" stroke="#3a5aa8" stroke-width="1.1" stroke-linejoin="round"/>
<path d="M226.8 569.33 L227.41 569.33 L228.02 569.33 L228.63 569.33 L229.24 569.33 L229.84 569.33 L230.45 569.33 L231.06 569.32 L231.67 569.32 L232.28 569.32 L232.89 569.32 L233.5 569.31 L234.11 569.3 L234.71 569.29 L235.32 569.28 L235.93 569.26 L236.54 569.24 L237.15 569.21 L237.76 569.17 L238.37 569.13 L238.98 569.07 L239.58 569 L240.19 568.92 L240.8 568.82 L241.41 568.71 L242.02 568.58 L242.63 568.42 L243.24 568.24 L243.84 568.02 L244.45 567.7 L245.06 567.21 L245.67 566.41 L246.28 565.11 L246.89 563.09 L247.5 560.19 L248.11 556.4 L248.72 551.99 L249.32 547.52 L249.93 543.78 L250.54 541.56 L251.15 541.37 L251.76 543.25 L252.37 546.77 L252.98 551.17 L253.59 555.65 L254.19 559.58 L254.8 562.64 L255.41 564.81 L256.02 566.22 L256.63 567.09 L257.24 567.63 L257.85 567.97 L258.45 568.21 L259.06 568.39 L259.67 568.55 L260.28 568.68 L260.89 568.8 L261.5 568.9 L262.11 568.99 L262.72 569.06 L263.32 569.12 L263.93 569.17 L264.54 569.2 L265.15 569.23 L265.76 569.26 L266.37 569.28 L266.98 569.29 L267.59 569.3 L268.19 569.31 L268.8 569.31 L269.41 569.32 L270.02 569.32 L270.63 569.32 L271.24 569.33 L271.85 569.33 L272.46 569.33 L273.06 569.33 L273.67 569.33 L274.28 569.33 L274.89 569.33 L275.5 569.33" fill="none" stroke="#4a2a80" stroke-width="1.1" stroke-linejoin="round"/>
<path d="M226.8 568.69 L227.41 568.69 L228.02 568.69 L228.63 568.69 L229.24 568.69 L229.84 568.69 L230.45 568.69 L231.06 568.69 L231.67 568.69 L232.28 568.68 L232.89 568.68 L233.5 568.67 L234.11 568.67 L234.71 568.66 L235.32 568.64 L235.93 568.63 L236.54 568.6 L237.15 568.57 L237.76 568.53 L238.37 568.49 L238.98 568.43 L239.58 568.36 L240.19 568.27 L240.8 568.17 L241.41 568.06 L242.02 567.93 L242.63 567.77 L243.24 567.59 L243.84 567.36 L244.45 567.03 L245.06 566.54 L245.67 565.72 L246.28 564.4 L246.89 562.35 L247.5 559.4 L248.11 555.55 L248.72 551.06 L249.32 546.51 L249.93 542.71 L250.54 540.45 L251.15 540.26 L251.76 542.17 L252.37 545.75 L252.98 550.23 L253.59 554.78 L254.19 558.78 L254.8 561.89 L255.41 564.09 L256.02 565.53 L256.63 566.42 L257.24 566.96 L257.85 567.31 L258.45 567.55 L259.06 567.74 L259.67 567.9 L260.28 568.04 L260.89 568.15 L261.5 568.26 L262.11 568.34 L262.72 568.42 L263.32 568.48 L263.93 568.53 L264.54 568.57 L265.15 568.6 L265.76 568.62 L266.37 568.64 L266.98 568.65 L267.59 568.67 L268.19 568.67 L268.8 568.68 L269.41 568.68 L270.02 568.69 L270.63 568.69 L271.24 568.69 L271.85 568.69 L272.46 568.69 L273.06 568.69 L273.67 568.69 L274.28 568.69 L274.89 568.69 L275.5 568.69" fill="none" stroke="#c0184a" stroke-width="1.1" stroke-linejoin="round"/>
<text x="261" y="555.5" font-size="6" fill="#222">Myeloid to all</text>
<text x="261" y="561.6" font-size="6" fill="#222">&lt;0.001</text>
<text x="201.8" y="505.9" font-size="9.4" text-anchor="middle" fill="#222" textLength="44.7" lengthAdjust="spacingAndGlyphs" transform="rotate(-90 201.8 505.9)">Counts per million</text>
<text x="315" y="408.1" font-size="12.2" font-weight="bold" fill="#000" textLength="7.6" lengthAdjust="spacingAndGlyphs">F</text>
<rect x="322.9" y="429" width="8.6" height="4.3" fill="#a9bd7c"/>
<rect x="322.9" y="436.2" width="8.6" height="4.4" fill="#c9c8cd"/>
<text x="334.8" y="433.1" font-size="6.4" fill="#333" textLength="42.9" lengthAdjust="spacingAndGlyphs">Active Prom/Enh</text>
<text x="334.8" y="440.6" font-size="6.4" fill="#333" textLength="27.9" lengthAdjust="spacingAndGlyphs">Other sites</text>
<circle cx="350.6" cy="472" r="27" fill="#c9c8cd"/>
<path d="M350.6 472 L350.6 445 A27 27 0 1 1 327.8 457.53 Z" fill="#a9bd7c"/>
<circle cx="350.6" cy="472" r="27" fill="none" stroke="#111" stroke-width="1.3"/>
<text x="360.6" y="482.4" font-size="6.6" text-anchor="middle" fill="#222" textLength="10.8" lengthAdjust="spacingAndGlyphs">84%</text>
<text x="350.6" y="507.2" font-size="6.2" text-anchor="middle" fill="#222" textLength="28.5" lengthAdjust="spacingAndGlyphs">Total=8800</text>
<rect x="322.9" y="554" width="8.6" height="4.3" fill="#a9bd7c"/>
<rect x="322.9" y="561.2" width="8.6" height="4.4" fill="#c9c8cd"/>
<text x="334.8" y="558.1" font-size="6.4" fill="#333" textLength="42.9" lengthAdjust="spacingAndGlyphs">Active Prom/Enh</text>
<text x="334.8" y="565.6" font-size="6.4" fill="#333" textLength="27.9" lengthAdjust="spacingAndGlyphs">Other sites</text>
<circle cx="350.6" cy="596.9" r="27" fill="#c9c8cd"/>
<path d="M350.6 596.9 L350.6 569.9 A27 27 0 0 1 374.26 583.89 Z" fill="#a9bd7c"/>
<circle cx="350.6" cy="596.9" r="27" fill="none" stroke="#111" stroke-width="1.3"/>
<text x="360.6" y="584.6" font-size="6.6" text-anchor="middle" fill="#222" textLength="10.8" lengthAdjust="spacingAndGlyphs">17%</text>
<text x="350.6" y="632.1" font-size="6.2" text-anchor="middle" fill="#222" textLength="25" lengthAdjust="spacingAndGlyphs">Total=963</text>
<text x="462.5" y="414.3" font-size="8.8" text-anchor="middle" textLength="72.7" lengthAdjust="spacingAndGlyphs">FDR &lt;0.05, active</text>
<text x="463.1" y="425.4" font-size="8.8" text-anchor="middle" textLength="41.6" lengthAdjust="spacingAndGlyphs">Prom/Enh</text>
<line x1="421.5" y1="431.2" x2="421.5" y2="487.7" stroke="#111" stroke-width="1"/>
<line x1="421.5" y1="487.7" x2="503" y2="487.7" stroke="#111" stroke-width="1"/>
<line x1="418.4" y1="483.1" x2="421.5" y2="483.1" stroke="#111" stroke-width="0.8"/>
<text x="415.4" y="485.6" font-size="7" text-anchor="end" fill="#222">0</text>
<line x1="422.2" y1="487.7" x2="422.2" y2="489.7" stroke="#111" stroke-width="0.8"/>
<text x="422.2" y="499.7" font-size="7" text-anchor="middle" fill="#222">0</text>
<line x1="418.4" y1="458.65" x2="421.5" y2="458.65" stroke="#111" stroke-width="0.8"/>
<text x="415.4" y="461.15" font-size="7" text-anchor="end" fill="#222">5</text>
<line x1="455.35" y1="487.7" x2="455.35" y2="489.7" stroke="#111" stroke-width="0.8"/>
<text x="455.35" y="499.7" font-size="7" text-anchor="middle" fill="#222">5</text>
<line x1="418.4" y1="434.2" x2="421.5" y2="434.2" stroke="#111" stroke-width="0.8"/>
<text x="415.4" y="436.7" font-size="7" text-anchor="end" fill="#222">10</text>
<line x1="488.5" y1="487.7" x2="488.5" y2="489.7" stroke="#111" stroke-width="0.8"/>
<text x="488.5" y="499.7" font-size="7" text-anchor="middle" fill="#222">10</text>
<text x="462.8" y="512.6" font-size="9" text-anchor="middle" fill="#222" textLength="71" lengthAdjust="spacingAndGlyphs">Rad21 signal erythroid</text>
<path d="M448.4 476.5C448.3 475.73 448.38 475 448.9 473.6C449.42 472.2 450.48 469.78 451.5 468.1C452.52 466.42 453.65 465.13 455 463.5C456.35 461.87 458.07 459.93 459.6 458.3C461.13 456.67 462.47 455.25 464.2 453.7C465.93 452.15 468.07 450.55 470 449C471.93 447.45 473.88 445.77 475.8 444.4C477.72 443.03 479.58 442.05 481.5 440.8C483.42 439.55 486.02 437.7 487.3 436.9C488.58 436.1 489.2 435.72 489.2 436C489.2 436.28 488.38 437.28 487.3 438.6C486.22 439.92 484.23 442.03 482.7 443.9C481.17 445.77 479.63 447.85 478.1 449.8C476.57 451.75 475.23 453.47 473.5 455.6C471.77 457.73 469.45 460.47 467.7 462.6C465.95 464.73 464.45 466.68 463 468.4C461.55 470.12 460.33 471.53 459 472.9C457.67 474.27 456.58 475.72 455 476.6C453.42 477.48 450.6 478.22 449.5 478.2C448.4 478.18 448.5 477.27 448.4 476.5Z" fill="url(#wedge)"/>
<path d="M462.46 469.29h0M472.13 457.41h0M464.6 466.43h0M452.04 477.75h0M488.66 436.68h0M475.64 452.39h0M464.39 466.32h0M468.54 462.35h0M487.69 438.62h0M480.9 446.82h0M461.94 469.81h0M470.5 459.87h0M449.56 477.97h0M480.83 447.35h0M462.38 470.1h0M449.5 477.72h0M449.32 478.16h0M487.7 438.31h0M449.52 478.03h0M464.93 466.77h0M488.89 436.49h0M449.07 477.19h0M478.86 449.45h0M449.77 477.57h0M478.25 449.79h0M482.74 444.21h0M451.95 477.83h0M474.01 455.05h0M449.4 477.61h0M458.93 473.37h0M467.5 465.62h0M448.2 476.76h0M452.99 477.88h0M475.42 456.85h0M469.08 460.89h0M488.65 437.83h0M475.71 453.44h0M488.36 440.05h0M486.54 442.4h0M478.84 449.95h0M458.03 474.25h0M488.91 437.66h0M483.93 442.96h0M489.66 437.21h0M450.77 478.23h0M481.3 446.23h0M462.26 469.29h0M472.73 458.6h0M472.99 455.86h0M466.41 466.19h0M456.22 476.68h0M460.72 471.9h0M476.55 451.55h0M480.68 446.96h0M477.94 450.95h0M464.63 466.67h0M470.24 460.14h0M457.64 474.59h0" stroke="#c02010" stroke-width="1.2" stroke-linecap="round"/>
<path d="M485.06 441.15h0M476.38 452.35h0M451.3 478.55h0M449.69 477.73h0M475.07 456.62h0M483.13 445.28h0M480.29 446.83h0M455.98 476.18h0M449.55 477.65h0M484.77 443.57h0M484.52 443.47h0M476.04 454.19h0M487.97 438.43h0M467.92 462.93h0M456.08 476.26h0M448.99 477.41h0M483.87 442.67h0M463.04 469.31h0M467.83 464.02h0M469.53 461.18h0M473.53 455.9h0M466.83 463.49h0M488.39 437.85h0M449.69 478.35h0M489.45 437.66h0M448.3 477.09h0M487.89 439.12h0M460.11 472.62h0M478.45 449.49h0M449.96 478.68h0M482.06 446.48h0M451.3 478.37h0M475 454.53h0M455.88 476.43h0M480.72 446.85h0M480.4 448.09h0M480.99 449.27h0M455.62 477.62h0M484.94 443.07h0M457.69 475.03h0M467.64 463.27h0M478.54 450.45h0M481.34 446.96h0M456.22 476.95h0M460.91 470.83h0M449.37 478.39h0M480.28 447.91h0M490.01 437.03h0M466.24 465.98h0M453.98 477.28h0M473.12 456.49h0M462.79 469.41h0M482.37 444.48h0M450.54 478.13h0M460.79 471.29h0M481.19 445.96h0M470.41 459.7h0M486.77 439.91h0" stroke="#b82418" stroke-width="1.2" stroke-linecap="round"/>
<path d="M489.4 436.83h0M465.51 465.09h0M470.31 460.41h0M488.15 437.85h0M483.4 444.19h0M472.25 460.41h0M486.4 440.38h0M487.97 440.03h0M467.41 463.55h0M480.9 447h0M458.85 473.59h0M458.93 473.82h0M449.19 477.28h0M487.85 439.34h0M455.86 477.1h0M452.81 477.35h0M481.9 445.12h0M461.84 470.28h0M457.16 475.19h0M449.88 478.51h0M465.69 466.58h0M452.84 477.93h0M483.72 443.37h0M468.38 462.62h0M474.53 457.45h0M464.66 469.51h0M460.51 471.29h0M485.14 442.85h0M449.41 477.72h0M482.01 445.86h0M448.76 477.22h0M484.25 442.13h0M459.71 474.27h0M448.78 476.92h0M465.91 465.81h0M456.43 476.07h0M473.01 456.57h0M462.78 470.01h0M485.93 440.32h0M483.3 444.41h0M449.7 477.32h0M449.3 478.03h0M472.97 457.03h0M457.12 475.75h0M479.09 448.91h0M478.92 450.04h0M465.84 466.4h0M487.89 440.32h0M454.65 477.29h0M481.06 446.76h0M468.51 463.59h0" stroke="#e03a28" stroke-width="1.2" stroke-linecap="round"/>
<path d="M476.08 452.57h0M465.19 466.69h0M479.18 448.28h0M485.59 440.78h0M453.56 477.29h0M467.96 463.42h0M464.81 469.16h0M457.8 474.71h0M464.27 469.31h0M488.06 437.65h0M460.27 472.12h0M449 476.96h0M481.59 447.4h0M453.75 477.16h0M459.87 472.6h0M455.49 477.92h0M473.21 458.22h0M452.82 477.8h0M485.88 442.01h0M475.33 453.84h0M484.52 444.67h0M462.67 469.2h0M462.98 469.61h0M451.27 477.74h0M482.15 445.12h0M480.36 447.28h0M473.55 456.42h0M474.9 455.31h0M448.97 477.85h0M449.31 477.43h0M468.09 463.62h0M488.96 436.75h0M468.22 462.45h0M488.38 439.34h0M470 461.33h0M471.67 459.34h0M476.5 452.81h0M476.96 453.18h0M465.66 466.16h0M476.4 451.76h0M474.24 456.1h0M489.38 438.67h0M450.85 477.98h0M467.3 463.03h0M449.38 478.08h0M456.13 475.58h0M488.99 437.61h0M461.12 471.34h0M482.41 445.38h0M458.61 473.44h0M459.74 473.06h0M469.48 460.75h0M467.74 462.66h0M451.68 480.21h0M454.82 480.64h0M450.48 480.39h0M458.27 480.36h0M454.58 480.25h0M448.01 480.52h0M456.91 480.38h0M455.89 480.69h0M458.4 483.57h0M455.16 483.31h0M458.23 483.28h0M450.28 483.32h0M456.24 483.43h0M455.92 483.71h0M454.68 483.64h0M452.24 483.6h0M453.4 483.19h0M460.06 483.77h0M452.28 483.62h0M452.68 483.12h0M454.58 483.36h0M468.49 470.46h0M465.99 473.22h0M463.1 477.2h0M468.57 476.55h0M466.23 476.13h0M466.08 475.95h0M465.28 476.65h0M464.47 477.99h0M469.75 477.51h0M463.91 473.93h0" stroke="#d02a1c" stroke-width="1.2" stroke-linecap="round"/>
<path d="M456.04 480.37h0M457.11 480.79h0M456.37 480.69h0M453.15 480.17h0M458.32 481.09h0M454.07 480.54h0M450.78 480.33h0M449.48 480.63h0M456.43 480.87h0M452.45 481.31h0M449.54 480.44h0M447.54 480.83h0M451.65 480.04h0M454.23 483.32h0M455.96 483.51h0M456.56 483.5h0M459.11 483.8h0M454.49 483.57h0" stroke="#a81a10" stroke-width="1.2" stroke-linecap="round"/>
<path d="M450.83 480.46h0M456.83 480.7h0M451.13 480.19h0M447.79 480.69h0M455.05 480.59h0M450.01 483.46h0M456.41 483.57h0M458.4 482.82h0M456.25 483.19h0M453.46 483.57h0M453 483.22h0M450 483.31h0M456.35 483.65h0" stroke="#801208" stroke-width="1.2" stroke-linecap="round"/>
<path d="M431.02 459.86h0M434.4 458.14h0M432.18 459.61h0M433.29 459.03h0M433.01 457.79h0M437.72 457.62h0M434.44 458.68h0M453.3 451.53h0M458.89 448.92h0M456.3 449.75h0M460.36 447.4h0M458.43 449.69h0M465.14 445.76h0M454.6 450.59h0M450.08 452.21h0M468.44 445.88h0M452.18 451.69h0M450.76 452.64h0M452.6 451.94h0M443.58 454.86h0M457.07 448.82h0M456.75 449.37h0M450.81 451.84h0M451.61 451.68h0M458.5 450.51h0M446.06 452.57h0M468.12 444.69h0M463.65 446.89h0M453.05 451.28h0M442.95 454.57h0M437.89 457.62h0M460.09 449.38h0M460.97 448.12h0M443.5 455.04h0M452.18 452.73h0M455.56 450.38h0M466.17 445.41h0M443.73 454.98h0M437.03 458.32h0M463.47 447.24h0M456.51 450.59h0M459.8 449.43h0M455.42 449.7h0M451.96 452.34h0M456.87 449.6h0M438.42 456.41h0M468.15 445.36h0M451.09 452.26h0M449.46 451.55h0M448.08 451.82h0M463.2 447.48h0M452.21 452.81h0M458.08 449.03h0M441.84 454.5h0M460.84 448.81h0M451.57 451.43h0M453.46 451.48h0M455.78 449.64h0M449.88 451.62h0M467.44 445.87h0M455.42 449.56h0M459.09 448.81h0M459.95 447.61h0M459.28 448.03h0M442.04 455.13h0M459.97 448.49h0M465.54 446.22h0M444.24 454.27h0M439.46 456.98h0M452.89 450.62h0M453.41 452.25h0M467.54 444.5h0M459.07 449.12h0M463.66 447.25h0M454.57 450.87h0M466.46 445.98h0M439.59 455.73h0M451.74 451.53h0M467.66 445.34h0M458.79 448.42h0M453.29 451.86h0M462.04 448.87h0M439.63 455.58h0M452.71 451.57h0M454.78 449.96h0M456.81 449.2h0M457.18 449.58h0M437.44 458.92h0M459.82 448.45h0M447.04 453.96h0M459.67 447.77h0M457.91 448.8h0M454.73 451.79h0M460.7 447.85h0M462.87 447.21h0M453.98 450.8h0M449.9 452.7h0M450.78 451.32h0M446.66 454.02h0M460.25 447.7h0M460.17 449.3h0M446.71 454.68h0M451.75 451.44h0M455.23 451.41h0M459.35 448.24h0M460.68 447.4h0M467.63 445.49h0M459.74 448.84h0M462.12 446.64h0M443.78 454.11h0M458.71 449.49h0M453.11 449.72h0M464.77 446.75h0M463.56 446.82h0M461.82 447.92h0M440.98 455.26h0M457.68 449.71h0M440.94 455.66h0M454.68 450.1h0M451.51 451.38h0M470.27 443.49h0M472.26 443.25h0M446.07 451.32h0M435.46 459.14h0" stroke="#2a68ac" stroke-width="1.6" stroke-linecap="round"/>
<text x="432.1" y="441.2" font-size="6" fill="#4a8ccc" textLength="22.2" lengthAdjust="spacingAndGlyphs">Lost (82)</text>
<text x="476.2" y="477.2" font-size="6.2" fill="#d04848" textLength="36.9" lengthAdjust="spacingAndGlyphs">Gained (7334)</text>
<text x="401.8" y="460.4" font-size="9.2" text-anchor="middle" fill="#222" textLength="58.6" lengthAdjust="spacingAndGlyphs" transform="rotate(-90 401.8 460.4)">Rad21 signal HPC</text>
<text x="463.6" y="539.3" font-size="8.8" text-anchor="middle" textLength="72.7" lengthAdjust="spacingAndGlyphs">FDR &lt;0.05, active</text>
<text x="463.7" y="549.9" font-size="8.8" text-anchor="middle" textLength="40.4" lengthAdjust="spacingAndGlyphs">Prom/Enh</text>
<line x1="421.5" y1="556.8" x2="421.5" y2="613.4" stroke="#111" stroke-width="1"/>
<line x1="421.5" y1="613.4" x2="505.3" y2="613.4" stroke="#111" stroke-width="1"/>
<line x1="418.4" y1="613.2" x2="421.5" y2="613.2" stroke="#111" stroke-width="0.8"/>
<text x="415.4" y="615.7" font-size="7" text-anchor="end" fill="#222">0</text>
<line x1="422.2" y1="613.4" x2="422.2" y2="615.4" stroke="#111" stroke-width="0.8"/>
<text x="422.2" y="625.4" font-size="7" text-anchor="middle" fill="#222">0</text>
<line x1="418.4" y1="586.2" x2="421.5" y2="586.2" stroke="#111" stroke-width="0.8"/>
<text x="415.4" y="588.7" font-size="7" text-anchor="end" fill="#222">5</text>
<line x1="461.9" y1="613.4" x2="461.9" y2="615.4" stroke="#111" stroke-width="0.8"/>
<text x="461.9" y="625.4" font-size="7" text-anchor="middle" fill="#222">5</text>
<line x1="418.4" y1="559.2" x2="421.5" y2="559.2" stroke="#111" stroke-width="0.8"/>
<text x="415.4" y="561.7" font-size="7" text-anchor="end" fill="#222">10</text>
<line x1="501.6" y1="613.4" x2="501.6" y2="615.4" stroke="#111" stroke-width="0.8"/>
<text x="501.6" y="625.4" font-size="7" text-anchor="middle" fill="#222">10</text>
<text x="463.6" y="638.1" font-size="9" text-anchor="middle" fill="#222" textLength="68" lengthAdjust="spacingAndGlyphs">Rad21 signal myeloid</text>
<text x="401.8" y="585.4" font-size="9.2" text-anchor="middle" fill="#222" textLength="58.6" lengthAdjust="spacingAndGlyphs" transform="rotate(-90 401.8 585.4)">Rad21 signal HPC</text>
<path d="M478.88 567.29h0M448.92 583.47h0M461.58 577.56h0M439.01 585.04h0M477.32 569.9h0M466.63 575.61h0M474.7 571.47h0M465.5 576.79h0M451.17 581.38h0M447.18 582.39h0M444.81 584.46h0M437 582.75h0M469.42 574.91h0M475.25 572.42h0M448.85 583.54h0M476.52 571.42h0M442.45 586.57h0M475.49 571.32h0M464.75 575.21h0M457.76 577.96h0M481.9 568.48h0M452.41 582.11h0M445.03 582.44h0M474.27 570.16h0M432.33 590.15h0M476.55 570.19h0M463.85 576.4h0M453.93 579.93h0M476.1 570.82h0M474.63 570.92h0M453.44 580.52h0M460.28 575.73h0M456.25 579.6h0M433.96 585.44h0M480.04 570.41h0M458.25 580.8h0M469.82 574.03h0M477.08 570.06h0M484.47 567.04h0M457.73 579.64h0M461.4 576.97h0M451.48 583.04h0M463.87 577.48h0M448.9 582.27h0M478.26 565.63h0M457.59 580.44h0M472.38 571.8h0M429.61 592.57h0M437.77 588.27h0M454.75 580.07h0M476.54 571.4h0M481.48 569.39h0M439.13 586.36h0M467.6 574.5h0M438.44 588.89h0M464.46 574.48h0M477.63 569.85h0M459.81 578.67h0M473.14 572.59h0M450.06 583.24h0M453.13 580.63h0M430.95 590.94h0M452.71 580.59h0M468.87 574.28h0M457.09 578.08h0M454.56 581.03h0M472.37 569.64h0M459.98 577.16h0M464.56 577.36h0M453.29 581.98h0M460.82 577.83h0M482.54 568.43h0M469.41 573.65h0M480.84 568.98h0M465.85 576.69h0M430.74 590.59h0M480.29 568.7h0M450.64 581.11h0M447.98 583.72h0M472.06 573.14h0M474.33 573.61h0M473.92 572.68h0M471.78 573.05h0M436.99 588.02h0M474.46 571.31h0M438.82 586.14h0M471.17 574.28h0M437.18 589.16h0M453.54 576.36h0M445.06 583.78h0M481.84 569.84h0M471.18 572.71h0M464.39 577.01h0M476.92 571.44h0M476.58 570.73h0M482.49 566.89h0M435.45 588.17h0M470.16 574.12h0M480.29 569.7h0M482.5 565.59h0M461.07 578.97h0M472.32 574.22h0M479.91 570.98h0M458.66 579.58h0M438.82 587.78h0M451.54 581.59h0M454.19 581.87h0M456.56 579.66h0M453.96 582.03h0M450.03 580.82h0M461.65 575.59h0M460.39 577.3h0M441.86 586.26h0M468.98 575.08h0M441.74 585.62h0M476.32 570.72h0M446.62 584.18h0M452.97 581.69h0M434.91 589.41h0M466.17 575.45h0M477.4 570.9h0M436.32 584.81h0M465.93 576.37h0M454.85 582.33h0M450.65 581.36h0M477.73 570.48h0M476.18 572.4h0M468.07 574.32h0M480.71 569.04h0M481.48 570.2h0M465.3 575.08h0M440.51 586.34h0M471.48 568.8h0M468.79 574.56h0M467.49 574.45h0M469.93 574.95h0M451.91 581.43h0M471.45 572.38h0M457.34 580.29h0M453.67 581.5h0M477.15 571.65h0M459.69 578.75h0M457.76 578.28h0M461.57 575.78h0M480.23 569.39h0M458.46 579.2h0M454.21 580.51h0M457.2 580.59h0M473.12 572.31h0M470.68 574.39h0M461.56 577.3h0M473.01 572.42h0M443.99 585.06h0" stroke="#2f6fb0" stroke-width="1.6" stroke-linecap="round"/>
<path d="M457.3 607.2h0M458.3 604h0M459.5 603.2h0M461.2 600.2h0M464.2 595.6h0M466.2 594.2h0M467.7 592h0M469 589.6h0M470.2 588.6h0M474.6 585h0M479.9 579.2h0M460 604.8h0M463 598h0M468.2 591h0M458 606h0M462.4 597h0M471.2 587.6h0" stroke="#7a2080" stroke-width="1.7" stroke-linecap="round"/>
<text x="435" y="568.7" font-size="6.2" fill="#3a80c0" textLength="25" lengthAdjust="spacingAndGlyphs">Lost (153)</text>
<text x="481.9" y="604.6" font-size="6.2" fill="#6a2a80" textLength="29.4" lengthAdjust="spacingAndGlyphs">Gained (17)</text>
<rect x="0.5" y="0.5" width="519" height="653" fill="none" stroke="#000" stroke-width="1.2"/>
</svg>
</body></html>
